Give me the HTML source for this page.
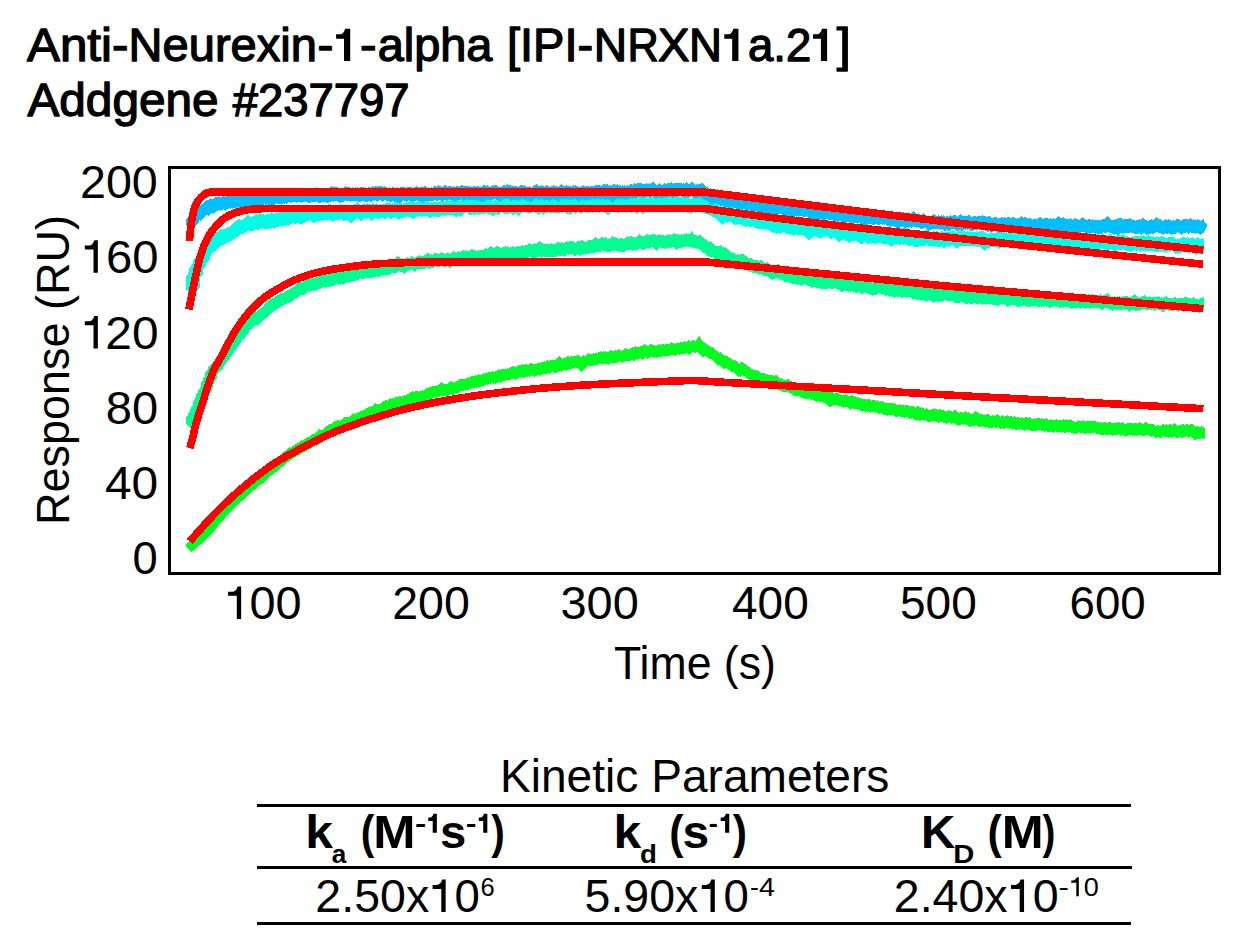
<!DOCTYPE html>
<html>
<head>
<meta charset="utf-8">
<title>Anti-Neurexin-1-alpha [IPI-NRXN1a.21] - Addgene #237797</title>
<style>
html, body { margin: 0; padding: 0; background: #ffffff; }
body { width: 1241px; height: 952px; overflow: hidden; font-family: "Liberation Sans", sans-serif; }
svg { display: block; }
text { font-family: "Liberation Sans", sans-serif; fill: #000; }
.t  { font-size: 46px; }
.ti { font-size: 46px; stroke: #000; stroke-width: 1.3px; stroke-linejoin: round; }
.b  { font-size: 46px; font-weight: bold; }
.sb { font-size: 26.7px; font-weight: bold; }
.sp { font-size: 26.7px; }
</style>
</head>
<body>
<svg width="1241" height="952" viewBox="0 0 1241 952">
<rect x="0" y="0" width="1241" height="952" fill="#ffffff"/>

<!-- sensorgram curves: data bands then fitted curves -->
<g shape-rendering="crispEdges">
<path d="M185.5 544.7L186.5 543.7L187.5 542.7L188.5 541.7L189.5 540.7L190.5 539.7L191.5 539.1L192.5 538.4L193.5 537.4L194.5 536.4L195.5 535.4L196.5 534.7L197.5 533.8L198.5 532.8L199.5 531.8L200.5 529.7L201.5 528.7L202.5 527.7L203.5 526.7L204.5 525.7L205.5 524.7L206.5 523.7L207.5 523.1L208.5 522.1L209.5 520.6L210.5 519.6L211.5 518.6L212.5 517.6L213.5 516.6L214.5 514.7L215.5 513.6L216.5 512.6L217.5 511.6L218.5 510.6L219.5 508.9L220.5 507.4L221.5 506.4L222.5 505.4L223.5 504.4L224.5 503.4L225.5 502.4L226.5 501.4L227.5 500.4L228.5 499.4L229.5 498.4L230.5 497.4L231.5 496.4L232.5 496.2L233.5 495.2L234.5 494.2L235.5 493.2L236.5 492.2L237.5 492.3L238.5 491.3L239.5 490L240.5 489L241.5 488L242.5 487L243.5 486L244.5 485L245.5 484.2L246.5 483.7L247.5 482.7L248.5 481.7L249.5 480.7L250.5 479.8L251.5 479.4L252.5 478.4L253.5 477.4L254.5 476.4L255.5 475.4L256.5 474.4L257.5 474L258.5 473.2L259.5 472.2L260.5 471.2L261.5 470.2L262.5 469.2L263.5 468.2L264.5 467.5L265.5 466.5L266.5 465.5L267.5 464.5L268.5 463.5L269.5 463.4L270.5 463.2L271.5 462.3L272.5 461.3L273.5 460.3L274.5 460L275.5 460.1L276.5 459.1L277.5 458.2L278.5 456.7L279.5 455.7L280.5 454.7L281.5 453.7L282.5 452.7L283.5 451.7L284.5 451.2L285.5 450.5L286.5 449.5L287.5 448.5L288.5 447.5L289.5 446.8L290.5 447.6L291.5 446.8L292.5 445.8L293.5 446L294.5 445L295.5 444L296.5 443.8L297.5 443L298.5 442.7L299.5 441.7L300.5 440.7L301.5 440.4L302.5 440.5L303.5 439.7L304.5 438.7L305.5 438.8L306.5 437.8L307.5 436.8L308.5 437L309.5 436.7L310.5 436.1L311.5 435.2L312.5 434.2L313.5 434.2L314.5 433.5L315.5 433.4L316.5 432.4L317.5 431.4L318.5 430.4L319.5 429.4L320.5 429.9L321.5 430.2L322.5 429.6L323.5 429L324.5 428L325.5 427L326.5 426L327.5 426.2L328.5 425.2L329.5 424.2L330.5 424.4L331.5 424.3L332.5 423.3L333.5 422.3L334.5 421.3L335.5 421.4L336.5 421.2L337.5 420.3L338.5 419.7L339.5 420.5L340.5 420.4L341.5 419.8L342.5 418.8L343.5 417.8L344.5 416.8L345.5 416.6L346.5 416.6L347.5 417L348.5 416.5L349.5 417L350.5 416.1L351.5 415.1L352.5 414.3L353.5 413.3L354.5 414.2L355.5 413.7L356.5 413L357.5 412.8L358.5 411.8L359.5 411.5L360.5 410.9L361.5 411.2L362.5 411L363.5 410L364.5 409.6L365.5 408.8L366.5 408.4L367.5 407.5L368.5 406.5L369.5 407L370.5 406.2L371.5 407.2L372.5 406.3L373.5 405.3L374.5 404.4L375.5 403.4L376.5 404.4L377.5 405L378.5 404L379.5 404.2L380.5 403.6L381.5 402.6L382.5 402.1L383.5 401.2L384.5 400.5L385.5 399.5L386.5 400.2L387.5 401L388.5 400.3L389.5 399.3L390.5 398.3L391.5 398.6L392.5 397.8L393.5 398.7L394.5 397.8L395.5 396.8L396.5 397.2L397.5 396.5L398.5 396.6L399.5 396.3L400.5 396.3L401.5 396.6L402.5 396.2L403.5 395.7L404.5 395.2L405.5 395.6L406.5 394.7L407.5 393.7L408.5 393.5L409.5 392.5L410.5 391.5L411.5 391.5L412.5 391.2L413.5 391.8L414.5 392.1L415.5 391.1L416.5 391L417.5 391.2L418.5 391.5L419.5 390.6L420.5 391.3L421.5 391L422.5 390.1L423.5 390.5L424.5 389.5L425.5 388.9L426.5 388.4L427.5 387.6L428.5 387.8L429.5 386.8L430.5 387.2L431.5 386.7L432.5 385.9L433.5 386L434.5 385.5L435.5 386.1L436.5 385.4L437.5 385.5L438.5 385.2L439.5 384.2L440.5 383.2L441.5 382.4L442.5 383.4L443.5 383.8L444.5 383.6L445.5 384L446.5 383.7L447.5 383.7L448.5 383.2L449.5 382.2L450.5 382.2L451.5 381.2L452.5 382.1L453.5 382.5L454.5 381.5L455.5 381.6L456.5 381.3L457.5 380.6L458.5 379.6L459.5 378.6L460.5 378.6L461.5 378.9L462.5 379.3L463.5 378.5L464.5 378.8L465.5 378.6L466.5 378.2L467.5 378.3L468.5 377.3L469.5 377.5L470.5 376.5L471.5 375.5L472.5 375.8L473.5 375.7L474.5 375.5L475.5 375.1L476.5 375.5L477.5 375.2L478.5 374.2L479.5 375L480.5 374.6L481.5 374.6L482.5 374.4L483.5 373.4L484.5 373.6L485.5 372.9L486.5 372.7L487.5 372.6L488.5 371.7L489.5 372.2L490.5 371.5L491.5 371.5L492.5 371.2L493.5 371.5L494.5 371.7L495.5 370.7L496.5 371.3L497.5 370.3L498.5 369.3L499.5 369.6L500.5 370.3L501.5 369.4L502.5 368.9L503.5 368.8L504.5 368.9L505.5 368.5L506.5 368.5L507.5 367.9L508.5 368.5L509.5 368.2L510.5 367.2L511.5 367.1L512.5 366.3L513.5 366.6L514.5 366.4L515.5 367.4L516.5 366.9L517.5 365.9L518.5 365.3L519.5 365L520.5 365.5L521.5 364.6L522.5 363.6L523.5 364.6L524.5 364.5L525.5 363.5L526.5 363.7L527.5 364.5L528.5 365L529.5 364L530.5 363L531.5 363L532.5 363.7L533.5 364.3L534.5 363.9L535.5 363.7L536.5 363.5L537.5 362.9L538.5 363.4L539.5 363L540.5 362.7L541.5 362.4L542.5 362.2L543.5 362.2L544.5 361.2L545.5 362.1L546.5 361.2L547.5 360.2L548.5 360.5L549.5 360.9L550.5 360.4L551.5 359.9L552.5 359.5L553.5 359.5L554.5 360L555.5 360.3L556.5 359.3L557.5 358.3L558.5 357.3L559.5 356.3L560.5 356.9L561.5 357.9L562.5 358.5L563.5 358.3L564.5 358.1L565.5 358.2L566.5 357.2L567.5 356.2L568.5 355.9L569.5 356.9L570.5 357L571.5 356L572.5 356.7L573.5 356.2L574.5 355.5L575.5 355.6L576.5 354.9L577.5 355.7L578.5 355.2L579.5 356.2L580.5 356.6L581.5 356.8L582.5 355.8L583.5 355.1L584.5 356.1L585.5 355.5L586.5 354.5L587.5 353.5L588.5 352.6L589.5 353.6L590.5 354.1L591.5 353.9L592.5 353.6L593.5 352.6L594.5 353.5L595.5 353.1L596.5 353.2L597.5 352.5L598.5 351.5L599.5 351.5L600.5 350.9L601.5 351.9L602.5 352L603.5 351.3L604.5 351.7L605.5 351L606.5 352L607.5 352.1L608.5 352.1L609.5 351.1L610.5 350.3L611.5 351.3L612.5 351.2L613.5 351.1L614.5 351.3L615.5 350.3L616.5 351L617.5 350.4L618.5 349.4L619.5 349.6L620.5 349.6L621.5 350.5L622.5 350.6L623.5 349.6L624.5 349.1L625.5 348.1L626.5 348.8L627.5 348.9L628.5 349.5L629.5 349.3L630.5 348.3L631.5 348.1L632.5 347.3L633.5 348.3L634.5 347.4L635.5 346.4L636.5 346.9L637.5 347.3L638.5 347.3L639.5 346.8L640.5 345.8L641.5 346.2L642.5 345.8L643.5 344.8L644.5 344.4L645.5 345.2L646.5 345.4L647.5 346L648.5 345.7L649.5 345.1L650.5 344.1L651.5 344.2L652.5 344.6L653.5 345.2L654.5 345.1L655.5 345.6L656.5 345.5L657.5 344.8L658.5 345.2L659.5 344.4L660.5 345L661.5 344.8L662.5 344L663.5 344.4L664.5 344.6L665.5 344.3L666.5 343.9L667.5 343.9L668.5 344.2L669.5 343.6L670.5 342.9L671.5 342.4L672.5 342.7L673.5 342.8L674.5 343.8L675.5 343.5L676.5 342.8L677.5 342.6L678.5 342.5L679.5 342.5L680.5 342.4L681.5 341.6L682.5 342.5L683.5 342.3L684.5 341.3L685.5 341.7L686.5 341.6L687.5 340.7L688.5 340.4L689.5 341.4L690.5 341.6L691.5 340.6L692.5 340.3L693.5 339.9L694.5 340.7L695.5 340.8L696.5 339.8L697.5 340.2L698.5 339.6L699.5 339.2L700.5 339.2L701.5 340.2L702.5 341.2L703.5 342.2L704.5 342.8L705.5 342.7L706.5 343.7L707.5 344.7L708.5 345.3L709.5 346.3L710.5 347.1L711.5 346.6L712.5 347L713.5 347.9L714.5 348.9L715.5 349.9L716.5 350.9L717.5 351.4L718.5 352.4L719.5 353L720.5 352.4L721.5 353.4L722.5 354.3L723.5 355.3L724.5 355.7L725.5 355L726.5 356L727.5 356L728.5 357L729.5 357.8L730.5 358L731.5 359L732.5 359.9L733.5 360.1L734.5 360.5L735.5 360L736.5 361L737.5 362L738.5 363L739.5 364L740.5 363.1L741.5 362.1L742.5 361.6L743.5 362.6L744.5 363.6L745.5 364.2L746.5 365L747.5 366L748.5 366.7L749.5 366.7L750.5 367.7L751.5 368.7L752.5 368.8L753.5 369.8L754.5 370L755.5 370.1L756.5 370.6L757.5 370.4L758.5 371.4L759.5 371.6L760.5 372.6L761.5 373.2L762.5 372.6L763.5 373.2L764.5 372.7L765.5 373.7L766.5 374.7L767.5 374.1L768.5 374.9L769.5 374.6L770.5 374.9L771.5 374.9L772.5 375.3L773.5 376L774.5 375.8L775.5 375.1L776.5 375L777.5 376L778.5 377L779.5 378L780.5 378.7L781.5 378.4L782.5 379.4L783.5 380.2L784.5 379.5L785.5 380.5L786.5 379.5L787.5 378.5L788.5 378.7L789.5 379.7L790.5 380.7L791.5 381.4L792.5 382.4L793.5 383.1L794.5 383.6L795.5 384.3L796.5 384.1L797.5 383.3L798.5 383.2L799.5 382.9L800.5 383.5L801.5 384.5L802.5 385.5L803.5 385.9L804.5 386.8L805.5 387.1L806.5 386.1L807.5 387.1L808.5 387L809.5 386.1L810.5 386.4L811.5 387.4L812.5 388.1L813.5 387.6L814.5 388.6L815.5 388.9L816.5 388.9L817.5 389.6L818.5 389L819.5 390L820.5 390L821.5 389.7L822.5 390.4L823.5 390.5L824.5 391L825.5 390.9L826.5 390.2L827.5 390.7L828.5 390.2L829.5 391.2L830.5 392.2L831.5 391.8L832.5 392.2L833.5 392.9L834.5 393.6L835.5 393.2L836.5 393.1L837.5 393.3L838.5 393L839.5 393.8L840.5 394.1L841.5 394.8L842.5 394.9L843.5 395.1L844.5 394.7L845.5 394L846.5 395L847.5 395.2L848.5 395.6L849.5 396.1L850.5 395.8L851.5 394.8L852.5 394.6L853.5 395.6L854.5 396.6L855.5 396.2L856.5 397.2L857.5 397.5L858.5 397.2L859.5 397.5L860.5 397.9L861.5 398.8L862.5 399.3L863.5 398.9L864.5 399.1L865.5 399L866.5 399.8L867.5 399.4L868.5 399.2L869.5 399.2L870.5 400.2L871.5 400.6L872.5 399.9L873.5 400.1L874.5 400L875.5 400.6L876.5 401.1L877.5 400.4L878.5 401.4L879.5 401.7L880.5 401.2L881.5 401.6L882.5 400.8L883.5 401.8L884.5 402.8L885.5 402.8L886.5 403.1L887.5 403L888.5 403.5L889.5 403L890.5 402.9L891.5 403L892.5 402.8L893.5 403.5L894.5 403.4L895.5 404.4L896.5 405L897.5 404.6L898.5 404.5L899.5 403.7L900.5 404.7L901.5 405.4L902.5 404.5L903.5 404.9L904.5 405.6L905.5 405.4L906.5 405.1L907.5 405.2L908.5 405.5L909.5 406.1L910.5 406.9L911.5 406.4L912.5 405.6L913.5 405.7L914.5 406.7L915.5 407.7L916.5 407.4L917.5 406.4L918.5 406.4L919.5 407.4L920.5 408L921.5 407.3L922.5 408.2L923.5 408.1L924.5 408.5L925.5 408.6L926.5 407.7L927.5 408.7L928.5 409.7L929.5 409.7L930.5 409.5L931.5 408.5L932.5 409.5L933.5 409.2L934.5 408.4L935.5 408.6L936.5 409.1L937.5 409.9L938.5 409.8L939.5 408.8L940.5 408.8L941.5 409.6L942.5 410.3L943.5 410.2L944.5 411.2L945.5 411.3L946.5 411.5L947.5 411.1L948.5 410.2L949.5 410.7L950.5 410.5L951.5 411.5L952.5 411.8L953.5 410.8L954.5 409.9L955.5 409.6L956.5 410.6L957.5 411.6L958.5 412.6L959.5 412.7L960.5 412.2L961.5 412.2L962.5 412.3L963.5 412.6L964.5 411.6L965.5 411L966.5 412L967.5 412.9L968.5 412.1L969.5 412.7L970.5 413.7L971.5 414.2L972.5 414L973.5 413L974.5 412L975.5 411.1L976.5 412.1L977.5 412.1L978.5 413.1L979.5 414.1L980.5 414L981.5 414.3L982.5 413.8L983.5 414.8L984.5 415.3L985.5 415L986.5 414.1L987.5 413.5L988.5 414.5L989.5 415.5L990.5 415.9L991.5 415.9L992.5 415.2L993.5 415.5L994.5 415.4L995.5 416L996.5 415.2L997.5 414.3L998.5 415.3L999.5 416L1000.5 416.8L1001.5 415.9L1002.5 414.9L1003.5 415.9L1004.5 416.9L1005.5 416.3L1006.5 415.9L1007.5 414.9L1008.5 415.7L1009.5 416.7L1010.5 416.3L1011.5 416.4L1012.5 417.1L1013.5 416.8L1014.5 416.2L1015.5 417.2L1016.5 417.8L1017.5 416.8L1018.5 417.3L1019.5 417.6L1020.5 417.5L1021.5 417.3L1022.5 417.5L1023.5 418L1024.5 418.2L1025.5 417.2L1026.5 416.9L1027.5 417.9L1028.5 418.1L1029.5 417.1L1030.5 418L1031.5 419L1032.5 419.2L1033.5 419.2L1034.5 418.2L1035.5 418.9L1036.5 418.8L1037.5 418.2L1038.5 418.2L1039.5 417.9L1040.5 418.6L1041.5 418.1L1042.5 419.1L1043.5 419.4L1044.5 419.2L1045.5 419.2L1046.5 418.4L1047.5 419.4L1048.5 419.9L1049.5 420L1050.5 420.3L1051.5 419.3L1052.5 420.3L1053.5 420.4L1054.5 419.5L1055.5 419.7L1056.5 419.4L1057.5 420.2L1058.5 420L1059.5 419.9L1060.5 420L1061.5 420.3L1062.5 419.5L1063.5 418.8L1064.5 419.8L1065.5 420.4L1066.5 419.4L1067.5 420L1068.5 419.9L1069.5 419.5L1070.5 419.3L1071.5 420.3L1072.5 421.3L1073.5 421.2L1074.5 421.9L1075.5 421.5L1076.5 421.6L1077.5 420.6L1078.5 419.6L1079.5 420.5L1080.5 420.6L1081.5 420.9L1082.5 421L1083.5 420.1L1084.5 420.9L1085.5 421.7L1086.5 421.2L1087.5 421.2L1088.5 420.6L1089.5 421.3L1090.5 421.1L1091.5 420.6L1092.5 420.5L1093.5 420.6L1094.5 421.1L1095.5 420.6L1096.5 421.6L1097.5 422.2L1098.5 422.2L1099.5 422.6L1100.5 422.3L1101.5 423.3L1102.5 422.7L1103.5 421.7L1104.5 421.9L1105.5 422.3L1106.5 423.1L1107.5 423.1L1108.5 422.1L1109.5 422.2L1110.5 422.2L1111.5 422.9L1112.5 423.1L1113.5 423.4L1114.5 423.3L1115.5 422.9L1116.5 422.9L1117.5 422L1118.5 422.6L1119.5 422.4L1120.5 423.4L1121.5 423.4L1122.5 422.4L1123.5 423.4L1124.5 423.5L1125.5 424.5L1126.5 423.8L1127.5 422.8L1128.5 423.2L1129.5 422.7L1130.5 423.2L1131.5 423.3L1132.5 423.2L1133.5 423.7L1134.5 423.1L1135.5 423.4L1136.5 423.4L1137.5 423.6L1138.5 422.8L1139.5 422L1140.5 423L1141.5 423.1L1142.5 423.9L1143.5 423.9L1144.5 423L1145.5 422L1146.5 421.7L1147.5 422.7L1148.5 423.7L1149.5 423.5L1150.5 424.4L1151.5 424.4L1152.5 424L1153.5 424.2L1154.5 424.7L1155.5 425.5L1156.5 425.9L1157.5 424.9L1158.5 425L1159.5 425.8L1160.5 425.8L1161.5 425.1L1162.5 424.4L1163.5 424.3L1164.5 424.6L1165.5 424.7L1166.5 423.9L1167.5 424.9L1168.5 424.9L1169.5 423.9L1170.5 424.2L1171.5 425.2L1172.5 425.4L1173.5 424.4L1174.5 423.4L1175.5 423.6L1176.5 424.6L1177.5 425.6L1178.5 425.6L1179.5 424.6L1180.5 424.7L1181.5 425.3L1182.5 424.3L1183.5 423.7L1184.5 424.7L1185.5 425L1186.5 424L1187.5 424.5L1188.5 425.5L1189.5 424.5L1190.5 424.3L1191.5 423.8L1192.5 424.2L1193.5 425.2L1194.5 426.2L1195.5 427L1196.5 426L1197.5 426.3L1198.5 426.8L1199.5 426.9L1200.5 426.5L1201.5 426.3L1202.5 426.5L1203.5 426.7L1204.5 427.5L1204.5 438.6L1203.5 439.3L1202.5 438.3L1201.5 438.3L1200.5 438.8L1199.5 438.6L1198.5 439.5L1197.5 438.5L1196.5 439.1L1195.5 440.1L1194.5 439.7L1193.5 438.7L1192.5 437.8L1191.5 436.8L1190.5 436.3L1189.5 437.1L1188.5 438.1L1187.5 437.3L1186.5 436.4L1185.5 437.4L1184.5 437.4L1183.5 436.5L1182.5 437.5L1181.5 438.2L1180.5 437.2L1179.5 437.4L1178.5 438.4L1177.5 437.9L1176.5 437.9L1175.5 436.9L1174.5 436.4L1173.5 437.4L1172.5 437.2L1171.5 438.2L1170.5 437.2L1169.5 436.5L1168.5 437.5L1167.5 437.3L1166.5 436.5L1165.5 436.5L1164.5 437L1163.5 436.2L1162.5 436.6L1161.5 437.6L1160.5 437.6L1159.5 438.3L1158.5 437.3L1157.5 437.4L1156.5 438.4L1155.5 437.8L1154.5 437.3L1153.5 436.3L1152.5 436L1151.5 436.7L1150.5 436.2L1149.5 436.2L1148.5 435.2L1147.5 435.5L1146.5 434.5L1145.5 434.8L1144.5 435.8L1143.5 435.7L1142.5 436.2L1141.5 435.2L1140.5 434.9L1139.5 434.7L1138.5 435.4L1137.5 436L1136.5 435.2L1135.5 435.2L1134.5 435.6L1133.5 435.1L1132.5 435.8L1131.5 435L1130.5 435.2L1129.5 435L1128.5 434.6L1127.5 435.5L1126.5 436.3L1125.5 436.6L1124.5 435.7L1123.5 435.4L1122.5 435.2L1121.5 435.4L1120.5 435.8L1119.5 434.8L1118.5 434.2L1117.5 434.7L1116.5 434.7L1115.5 435.2L1114.5 435.2L1113.5 435.1L1112.5 435.7L1111.5 435L1110.5 434.7L1109.5 433.9L1108.5 434.5L1107.5 435.5L1106.5 435L1105.5 434.9L1104.5 433.9L1103.5 434.5L1102.5 435.5L1101.5 435L1100.5 435.1L1099.5 434.1L1098.5 434.4L1097.5 434.3L1096.5 434L1095.5 433.3L1094.5 432.4L1093.5 432.9L1092.5 432.5L1091.5 432.6L1090.5 433.6L1089.5 432.9L1088.5 433.1L1087.5 433L1086.5 433.1L1085.5 434.1L1084.5 433.5L1083.5 432.7L1082.5 432.7L1081.5 432.9L1080.5 432.9L1079.5 432.4L1078.5 432.4L1077.5 433.4L1076.5 433.7L1075.5 433.7L1074.5 433.4L1073.5 434L1072.5 433.1L1071.5 433.1L1070.5 432.1L1069.5 431.5L1068.5 432.5L1067.5 431.7L1066.5 432.1L1065.5 433.1L1064.5 433.1L1063.5 432.1L1062.5 432.1L1061.5 432.8L1060.5 431.8L1059.5 431.8L1058.5 432.4L1057.5 431.8L1056.5 432L1055.5 431.3L1054.5 431.6L1053.5 432.6L1052.5 432.2L1051.5 432.1L1050.5 431.8L1049.5 432.2L1048.5 432L1047.5 431.7L1046.5 431.1L1045.5 431L1044.5 431.5L1043.5 431.3L1042.5 431.2L1041.5 430.7L1040.5 429.9L1039.5 430.4L1038.5 430L1037.5 430.2L1036.5 431.2L1035.5 430.6L1034.5 430.8L1033.5 431L1032.5 431.1L1031.5 431.5L1030.5 431L1029.5 430L1028.5 429.7L1027.5 430L1026.5 429.3L1025.5 430.3L1024.5 431.3L1023.5 430.3L1022.5 429.8L1021.5 429.3L1020.5 429.2L1019.5 430.2L1018.5 429.4L1017.5 429.2L1016.5 430.1L1015.5 430.1L1014.5 429.1L1013.5 429L1012.5 429.7L1011.5 428.7L1010.5 428.3L1009.5 429L1008.5 428.5L1007.5 427.5L1006.5 428.1L1005.5 428.3L1004.5 429.3L1003.5 428.9L1002.5 427.9L1001.5 428.6L1000.5 429L999.5 428.1L998.5 427.8L997.5 427L996.5 427.9L995.5 428.4L994.5 427.4L993.5 427.3L992.5 427.7L991.5 427.7L990.5 428.4L989.5 427.6L988.5 427.6L987.5 426.6L986.5 426.8L985.5 427.6L984.5 427L983.5 427.1L982.5 426.1L981.5 425.8L980.5 426.7L979.5 426.5L978.5 426.8L977.5 425.8L976.5 424.8L975.5 424.5L974.5 425.5L973.5 425.9L972.5 426L971.5 426.4L970.5 427.4L969.5 426.6L968.5 425.6L967.5 424.8L966.5 424.8L965.5 423.8L964.5 424.4L963.5 425.1L962.5 424.1L961.5 424.1L960.5 424.5L959.5 424.7L958.5 425.6L957.5 424.6L956.5 424.7L955.5 423.7L954.5 422.7L953.5 423.6L952.5 423.4L951.5 423.8L950.5 422.8L949.5 422.3L948.5 422.9L947.5 423.3L946.5 423.9L945.5 423.2L944.5 423.1L943.5 422.7L942.5 422L941.5 422.1L940.5 421.1L939.5 421.7L938.5 422.7L937.5 422.2L936.5 421.7L935.5 420.7L934.5 420.5L933.5 421.4L932.5 421L931.5 421.3L930.5 421.5L929.5 421.8L928.5 422.3L927.5 422.1L926.5 421.1L925.5 420.3L924.5 420.8L923.5 420L922.5 419.9L921.5 419.9L920.5 420.7L919.5 421.3L918.5 420.3L917.5 420.1L916.5 421.1L915.5 420.4L914.5 419.9L913.5 418.9L912.5 417.9L911.5 418.7L910.5 418.2L909.5 418.9L908.5 417.9L907.5 417.3L906.5 417.2L905.5 417.4L904.5 418.4L903.5 417.4L902.5 416.7L901.5 417.4L900.5 417.2L899.5 416.3L898.5 416.4L897.5 417L896.5 416.9L895.5 416.8L894.5 415.9L893.5 415.2L892.5 415.3L891.5 414.8L890.5 414.8L889.5 415.3L888.5 414.8L887.5 415.7L886.5 414.7L885.5 414.9L884.5 415L883.5 414.6L882.5 413.6L881.5 413.1L880.5 413.4L879.5 413.8L878.5 413.5L877.5 413.2L876.5 412.4L875.5 412.9L874.5 412L873.5 411.8L872.5 412.4L871.5 412L870.5 412.6L869.5 411.6L868.5 411L867.5 411.8L866.5 411.2L865.5 411.6L864.5 410.7L863.5 410.9L862.5 411.6L861.5 411.2L860.5 410.6L859.5 409.6L858.5 409.3L857.5 409.7L856.5 409.4L855.5 408.9L854.5 408.7L853.5 409.1L852.5 408.1L851.5 408.6L850.5 409.6L849.5 408.8L848.5 408L847.5 407L846.5 407L845.5 406.5L844.5 406.9L843.5 407.6L842.5 406.6L841.5 406.7L840.5 406.5L839.5 406L838.5 405.7L837.5 404.9L836.5 405.1L835.5 405.4L834.5 405L833.5 405.7L832.5 404.9L831.5 405.9L830.5 406.9L829.5 406.7L828.5 405.7L827.5 404.7L826.5 403.7L825.5 402.8L824.5 402.7L823.5 403.1L822.5 402.3L821.5 402.2L820.5 401.8L819.5 401.8L818.5 401.4L817.5 400.8L816.5 401.6L815.5 400.6L814.5 400.8L813.5 399.9L812.5 399.4L811.5 400.4L810.5 399.4L809.5 398.4L808.5 399.2L807.5 398.9L806.5 398.9L805.5 398.7L804.5 399.1L803.5 398.1L802.5 397.8L801.5 398.3L800.5 397.5L799.5 396.5L798.5 395.5L797.5 395.6L796.5 396.6L795.5 395.9L794.5 396.2L793.5 395.2L792.5 394.9L791.5 393.9L790.5 393.3L789.5 393L788.5 392L787.5 391.3L786.5 392.3L785.5 392L784.5 392.3L783.5 391.6L782.5 392L781.5 391L780.5 390.3L779.5 390.8L778.5 390L777.5 390.5L776.5 389.5L775.5 388.5L774.5 388.3L773.5 387.6L772.5 387.8L771.5 386.8L770.5 386.8L769.5 387L768.5 386.4L767.5 386.7L766.5 386.4L765.5 386.6L764.5 385.6L763.5 384.6L762.5 385.4L761.5 384.7L760.5 385L759.5 384L758.5 383.4L757.5 383.1L756.5 382.2L755.5 382.4L754.5 381.9L753.5 381.8L752.5 381.4L751.5 380.7L750.5 381.3L749.5 380.3L748.5 379.3L747.5 378.5L746.5 377.9L745.5 376.9L744.5 376.3L743.5 376.4L742.5 375.4L741.5 375.6L740.5 376.5L739.5 376.3L738.5 376.6L737.5 375.7L736.5 375.4L735.5 374.4L734.5 373.4L733.5 372.4L732.5 371.9L731.5 371.7L730.5 370.7L729.5 369.8L728.5 369.7L727.5 368.7L726.5 367.9L725.5 367.7L724.5 368.7L723.5 369.4L722.5 368.4L721.5 367.4L720.5 366.4L719.5 365.4L718.5 365.7L717.5 364.7L716.5 363.7L715.5 362.7L714.5 362.2L713.5 361.2L712.5 360.2L711.5 359.2L710.5 359.2L709.5 358.9L708.5 358L707.5 357.2L706.5 357.2L705.5 356.2L704.5 356.4L703.5 357.4L702.5 356.7L701.5 355.7L700.5 354.7L699.5 353.7L698.5 352.7L697.5 351.7L696.5 352.4L695.5 352.5L694.5 352.6L693.5 352.1L692.5 352.4L691.5 353.4L690.5 354.3L689.5 354.6L688.5 353.6L687.5 353.4L686.5 354.4L685.5 353.4L684.5 353.6L683.5 354.3L682.5 354.1L681.5 354.2L680.5 354.4L679.5 354.9L678.5 354.4L677.5 354.3L676.5 355.3L675.5 355.7L674.5 356.4L673.5 355.4L672.5 354.6L671.5 354.8L670.5 355.4L669.5 356.3L668.5 355.7L667.5 356L666.5 356.1L665.5 356.4L664.5 357.4L663.5 356.4L662.5 356.2L661.5 356.9L660.5 356.6L659.5 357L658.5 356.6L657.5 357.1L656.5 357.5L655.5 357.4L654.5 357.6L653.5 356.9L652.5 357.1L651.5 356.1L650.5 356.5L649.5 357.5L648.5 357.8L647.5 358.6L646.5 357.6L645.5 357.2L644.5 357.9L643.5 358.9L642.5 359.8L641.5 358.8L640.5 358.1L639.5 359.1L638.5 359L637.5 360L636.5 359.1L635.5 359.9L634.5 360.9L633.5 360.7L632.5 359.9L631.5 360.1L630.5 360.7L629.5 361.3L628.5 361.3L627.5 361.3L626.5 360.7L625.5 360.6L624.5 361.5L623.5 361.9L622.5 362.9L621.5 362.4L620.5 362.3L619.5 361.3L618.5 361.8L617.5 362.8L616.5 362.5L615.5 363.2L614.5 362.9L613.5 363.3L612.5 363.3L611.5 363.1L610.5 363.1L609.5 364.1L608.5 364.6L607.5 364L606.5 364L605.5 363.6L604.5 363.2L603.5 363.9L602.5 363.7L601.5 363.8L600.5 363.3L599.5 363.4L598.5 364.2L597.5 365L596.5 365.2L595.5 365.3L594.5 364.9L593.5 365.4L592.5 365.8L591.5 366.1L590.5 366.2L589.5 365.9L588.5 365.4L587.5 366.3L586.5 367L585.5 368L584.5 369L583.5 370L582.5 371L581.5 371.6L580.5 370.6L579.5 369.6L578.5 368.6L577.5 367.6L576.5 367.5L575.5 367.3L574.5 367.5L573.5 368.5L572.5 368L571.5 368.7L570.5 369.3L569.5 369.6L568.5 368.6L567.5 369.5L566.5 370.5L565.5 369.9L564.5 370.3L563.5 370.3L562.5 370.8L561.5 371.8L560.5 371L559.5 371.3L558.5 372.3L557.5 372.3L556.5 373.3L555.5 372.7L554.5 372.6L553.5 371.6L552.5 371.4L551.5 372.2L550.5 372.7L549.5 373.6L548.5 372.6L547.5 372.9L546.5 373.9L545.5 373.5L544.5 374L543.5 374L542.5 374.3L541.5 374.5L540.5 374.7L539.5 375.7L538.5 374.8L537.5 375.3L536.5 375.5L535.5 375.5L534.5 376.5L533.5 375.7L532.5 376.2L531.5 375.2L530.5 375.8L529.5 376.8L528.5 376.3L527.5 377.1L526.5 376.4L525.5 377.4L524.5 378.4L523.5 378L522.5 377L521.5 377.3L520.5 377.6L519.5 377.1L518.5 377.7L517.5 378.7L516.5 379.3L515.5 379.8L514.5 378.8L513.5 378.2L512.5 378.9L511.5 379L510.5 379.6L509.5 380.3L508.5 380.3L507.5 380.3L506.5 380.3L505.5 381L504.5 380.6L503.5 380.7L502.5 381.2L501.5 382.1L500.5 383L499.5 382L498.5 382.2L497.5 383.2L496.5 382.9L495.5 383.5L494.5 383.4L493.5 383.7L492.5 383.3L491.5 383.1L490.5 384.1L489.5 383.5L488.5 384L487.5 384.5L486.5 384.4L485.5 385.4L484.5 385.2L483.5 385.9L482.5 386.4L481.5 386.4L480.5 387L479.5 386.5L478.5 386.8L477.5 387.3L476.5 387.5L475.5 387.4L474.5 387.6L473.5 388.5L472.5 387.5L471.5 388.3L470.5 389.3L469.5 389.1L468.5 390.1L467.5 390L466.5 390.4L465.5 390.6L464.5 390.4L463.5 391.1L462.5 390.7L461.5 391.3L460.5 391.4L459.5 392.4L458.5 393.4L457.5 393.2L456.5 393.9L455.5 393.3L454.5 394.2L453.5 395.2L452.5 394.7L451.5 393.9L450.5 394L449.5 394.5L448.5 395.5L447.5 395.5L446.5 396.5L445.5 395.5L444.5 395.8L443.5 395.8L442.5 395.6L441.5 395L440.5 396L439.5 396.6L438.5 397.3L437.5 397.2L436.5 397.9L435.5 397.4L434.5 398L433.5 397.8L432.5 398.1L431.5 399.1L430.5 398.7L429.5 399.5L428.5 399.5L427.5 399.7L426.5 400.7L425.5 401.3L424.5 402.3L423.5 402L422.5 402.3L421.5 403.1L420.5 402.8L419.5 403.3L418.5 403.1L417.5 403.5L416.5 403L415.5 403.8L414.5 404.8L413.5 404L412.5 403.6L411.5 404.1L410.5 405.1L409.5 406.1L408.5 405.5L407.5 406.4L406.5 407.4L405.5 407.5L404.5 407.5L403.5 408.1L402.5 409L401.5 408.1L400.5 408.4L399.5 408.5L398.5 408.3L397.5 409.3L396.5 408.6L395.5 409.5L394.5 410.5L393.5 410.3L392.5 410.6L391.5 411.6L390.5 412.6L389.5 413.6L388.5 413.5L387.5 413.5L386.5 412.8L385.5 412.1L384.5 413.1L383.5 414L382.5 415L381.5 416L380.5 416.8L379.5 415.8L378.5 416.4L377.5 417.4L376.5 417L375.5 416.2L374.5 417.2L373.5 418.2L372.5 419.2L371.5 418.9L370.5 418.9L369.5 418.3L368.5 419.2L367.5 420.2L366.5 420.4L365.5 421.4L364.5 421.8L363.5 422.4L362.5 423L361.5 423L360.5 423.3L359.5 423.7L358.5 424.5L357.5 424.8L356.5 425L355.5 426L354.5 425.5L353.5 426.1L352.5 426.9L351.5 427.8L350.5 428.8L349.5 428.5L348.5 429.3L347.5 428.5L346.5 429.5L345.5 430.5L344.5 431.5L343.5 432.5L342.5 432.2L341.5 432.8L340.5 432.3L339.5 432.3L338.5 432.2L337.5 433L336.5 433.7L335.5 434.4L334.5 435.4L333.5 436.4L332.5 436.1L331.5 437L330.5 437.2L329.5 438.2L328.5 439.2L327.5 438.8L326.5 438.8L325.5 439.8L324.5 440.4L323.5 441.4L322.5 441.9L321.5 442.9L320.5 442.9L319.5 443.9L318.5 444.9L317.5 444.8L316.5 445.6L315.5 445.3L314.5 446L313.5 446L312.5 446.9L311.5 447.9L310.5 448.6L309.5 449.4L308.5 448.7L307.5 449.7L306.5 450.7L305.5 450.5L304.5 451.5L303.5 452.3L302.5 452.7L301.5 452.8L300.5 453.8L299.5 454.8L298.5 454.8L297.5 455.3L296.5 456.1L295.5 457.1L294.5 458.1L293.5 457.6L292.5 458.5L291.5 459.5L290.5 459.6L289.5 460.6L288.5 461.6L287.5 462.3L286.5 463.2L285.5 463.9L284.5 464.9L283.5 465.9L282.5 466.8L281.5 467.3L280.5 468.2L279.5 469.2L278.5 470L277.5 471L276.5 472L275.5 472.4L274.5 472.6L273.5 473.6L272.5 474.6L271.5 475L270.5 475.5L269.5 475.7L268.5 477.6L267.5 478.6L266.5 479.6L265.5 480.6L264.5 481.6L263.5 482.6L262.5 483.6L261.5 483.7L260.5 484.6L259.5 485.4L258.5 485.9L257.5 486.9L256.5 487.9L255.5 488.9L254.5 489.9L253.5 490.3L252.5 491.2L251.5 492.2L250.5 493.2L249.5 494.2L248.5 494.8L247.5 495.8L246.5 496.8L245.5 497.8L244.5 498.8L243.5 499.8L242.5 500.8L241.5 501.4L240.5 502.4L239.5 503.4L238.5 504.1L237.5 504.5L236.5 505.5L235.5 506.5L234.5 507.8L233.5 508.8L232.5 509.8L231.5 510.8L230.5 511.8L229.5 512.9L228.5 513.9L227.5 514.9L226.5 515.9L225.5 516.9L224.5 518.6L223.5 519.6L222.5 520.7L221.5 521.7L220.5 522.7L219.5 523.9L218.5 524.9L217.5 526.9L216.5 527.9L215.5 528.9L214.5 531L213.5 532L212.5 533L211.5 534L210.5 535L209.5 536L208.5 537L207.5 537.6L206.5 538.6L205.5 539.6L204.5 540.5L203.5 541.5L202.5 542.5L201.5 543.5L200.5 544.2L199.5 545.2L198.5 546.2L197.5 547.2L196.5 548.2L195.5 549.2L194.5 550L193.5 551L192.5 551L191.5 551.6L190.5 551L189.5 550L188.5 549L187.5 548L186.5 547L185.5 546Z" fill="#00FF1E"/>
<path d="M185.5 420.9L186.5 417.1L187.5 416.1L188.5 412.6L189.5 411.6L190.5 408.8L191.5 406.8L192.5 405.8L193.5 400.7L194.5 399.7L195.5 397.4L196.5 393.7L197.5 392.7L198.5 390.2L199.5 389.2L200.5 386.6L201.5 381.9L202.5 380.9L203.5 377.9L204.5 376.9L205.5 371.8L206.5 370.8L207.5 369.8L208.5 367L209.5 366L210.5 365L211.5 364L212.5 363L213.5 362L214.5 361L215.5 359.1L216.5 358.1L217.5 357.1L218.5 355.6L219.5 354.6L220.5 352.2L221.5 351.2L222.5 349.5L223.5 348.3L224.5 347.3L225.5 345.2L226.5 344.2L227.5 342.4L228.5 340.7L229.5 339.7L230.5 337.4L231.5 336.4L232.5 335.4L233.5 334.4L234.5 331.4L235.5 330.4L236.5 329.4L237.5 328.3L238.5 327.3L239.5 326.2L240.5 324.5L241.5 323.5L242.5 322.5L243.5 321.5L244.5 320.5L245.5 319.5L246.5 318.5L247.5 318.1L248.5 317.7L249.5 316.8L250.5 315.8L251.5 314.8L252.5 313.8L253.5 312.8L254.5 311.8L255.5 310.8L256.5 311.6L257.5 311L258.5 310L259.5 309L260.5 308L261.5 308L262.5 307L263.5 306L264.5 304.3L265.5 303.3L266.5 302.3L267.5 301.3L268.5 300.3L269.5 299.3L270.5 298.3L271.5 298.6L272.5 298.1L273.5 298.1L274.5 297.1L275.5 296.1L276.5 296.3L277.5 295.3L278.5 294.6L279.5 293.6L280.5 292.6L281.5 292.6L282.5 292.6L283.5 292.6L284.5 291.9L285.5 290.9L286.5 290.9L287.5 289.9L288.5 289.7L289.5 288.9L290.5 288.8L291.5 287.8L292.5 286.8L293.5 286.5L294.5 285.5L295.5 285.4L296.5 284.4L297.5 283.4L298.5 282.7L299.5 281.7L300.5 282.1L301.5 281.6L302.5 282L303.5 281.3L304.5 280.3L305.5 279.3L306.5 278.6L307.5 277.9L308.5 277.9L309.5 278.3L310.5 278.5L311.5 277.7L312.5 277.7L313.5 277.6L314.5 277.5L315.5 278L316.5 277.2L317.5 276.5L318.5 276.2L319.5 275.8L320.5 274.8L321.5 273.8L322.5 274L323.5 273.6L324.5 274.5L325.5 274.7L326.5 274.1L327.5 274.5L328.5 273.9L329.5 273.7L330.5 273.7L331.5 273.1L332.5 272.7L333.5 271.7L334.5 270.7L335.5 270.6L336.5 270.9L337.5 271.4L338.5 271.4L339.5 271.4L340.5 270.4L341.5 269.4L342.5 269.8L343.5 270.8L344.5 269.9L345.5 269.5L346.5 269.3L347.5 269.5L348.5 269L349.5 269L350.5 268L351.5 267L352.5 267.1L353.5 268.1L354.5 268.1L355.5 267.4L356.5 266.7L357.5 266.7L358.5 266.3L359.5 265.3L360.5 264.5L361.5 265.5L362.5 265.8L363.5 266.1L364.5 265.7L365.5 264.7L366.5 265.4L367.5 265.1L368.5 264.9L369.5 265.2L370.5 264.4L371.5 265.3L372.5 264.9L373.5 263.9L374.5 264L375.5 263L376.5 263.8L377.5 263.4L378.5 263.9L379.5 262.9L380.5 261.9L381.5 262.5L382.5 261.5L383.5 260.5L384.5 260.4L385.5 261.4L386.5 262.1L387.5 261.2L388.5 262.1L389.5 261.3L390.5 260.3L391.5 259.8L392.5 258.8L393.5 259.6L394.5 258.6L395.5 257.6L396.5 256.6L397.5 255.6L398.5 256.5L399.5 257.5L400.5 258.5L401.5 259.1L402.5 258.1L403.5 258.8L404.5 258.7L405.5 257.7L406.5 257.7L407.5 257.4L408.5 257.9L409.5 257.5L410.5 256.5L411.5 256.3L412.5 256.8L413.5 257.2L414.5 258.2L415.5 257.3L416.5 256.9L417.5 256.1L418.5 255.9L419.5 254.9L420.5 255.8L421.5 256.3L422.5 256.1L423.5 256.3L424.5 255.3L425.5 254.7L426.5 253.7L427.5 252.7L428.5 252.7L429.5 253.7L430.5 254.7L431.5 254.2L432.5 254.7L433.5 253.7L434.5 252.7L435.5 253.2L436.5 252.9L437.5 253.9L438.5 253.7L439.5 253.6L440.5 253.1L441.5 252.1L442.5 253.1L443.5 253.4L444.5 254L445.5 253.9L446.5 252.9L447.5 253.3L448.5 252.7L449.5 253.7L450.5 253.5L451.5 252.5L452.5 251.8L453.5 251.1L454.5 252.1L455.5 252.1L456.5 252.5L457.5 251.5L458.5 250.7L459.5 251.7L460.5 251.9L461.5 251.2L462.5 251.3L463.5 250.3L464.5 250.7L465.5 250.3L466.5 251.1L467.5 251.4L468.5 250.8L469.5 251.3L470.5 250.3L471.5 249.3L472.5 249.4L473.5 249.8L474.5 250.5L475.5 250.2L476.5 250.9L477.5 250.9L478.5 250.1L479.5 250.7L480.5 250L481.5 250.4L482.5 250.3L483.5 249.7L484.5 248.8L485.5 247.9L486.5 248.9L487.5 248.7L488.5 248L489.5 247.1L490.5 246.1L491.5 247L492.5 246.8L493.5 247.8L494.5 247.9L495.5 246.9L496.5 246.4L497.5 245.8L498.5 246.8L499.5 247.3L500.5 248.3L501.5 247.6L502.5 246.9L503.5 247.4L504.5 247.3L505.5 246.4L506.5 246.9L507.5 246.3L508.5 247.3L509.5 247.7L510.5 247.1L511.5 247L512.5 246L513.5 247L514.5 247L515.5 247.1L516.5 246.6L517.5 245.6L518.5 246.5L519.5 246.1L520.5 246.2L521.5 246L522.5 245L523.5 245.7L524.5 246.4L525.5 245.4L526.5 245.4L527.5 244.6L528.5 244.2L529.5 243.4L530.5 244L531.5 243.9L532.5 244.9L533.5 244.2L534.5 243.2L535.5 244.2L536.5 244.4L537.5 243.4L538.5 242.4L539.5 241.4L540.5 242.3L541.5 243.3L542.5 243.4L543.5 243.5L544.5 243.5L545.5 244.3L546.5 243.9L547.5 244.2L548.5 244.3L549.5 243.8L550.5 244L551.5 243.2L552.5 244.2L553.5 244.1L554.5 244.3L555.5 244.1L556.5 243.2L557.5 242.4L558.5 242.2L559.5 242.9L560.5 243.1L561.5 242.1L562.5 242.9L563.5 242.5L564.5 243.4L565.5 242.4L566.5 241.4L567.5 242.1L568.5 241.6L569.5 241L570.5 241.1L571.5 241.1L572.5 241.5L573.5 240.8L574.5 241.8L575.5 242.5L576.5 241.5L577.5 241.3L578.5 240.5L579.5 241.5L580.5 240.8L581.5 239.8L582.5 240.2L583.5 241.2L584.5 241.9L585.5 241.6L586.5 241L587.5 240.8L588.5 239.8L589.5 240.4L590.5 240L591.5 239.8L592.5 239.9L593.5 239L594.5 238L595.5 237.4L596.5 238.4L597.5 239L598.5 239.1L599.5 238.9L600.5 238.1L601.5 237.3L602.5 237.2L603.5 238.1L604.5 238.3L605.5 237.4L606.5 238.4L607.5 239L608.5 239.4L609.5 238.8L610.5 237.8L611.5 236.8L612.5 236.4L613.5 237.4L614.5 237.8L615.5 236.8L616.5 237.6L617.5 238.2L618.5 239.2L619.5 238.6L620.5 237.6L621.5 238.3L622.5 238.9L623.5 238.8L624.5 238.7L625.5 237.7L626.5 236.9L627.5 236.1L628.5 237.1L629.5 236.7L630.5 235.7L631.5 236.1L632.5 237.1L633.5 236.9L634.5 236.6L635.5 237.5L636.5 236.6L637.5 235.6L638.5 234.6L639.5 234.1L640.5 235.1L641.5 236.1L642.5 236.2L643.5 236.8L644.5 235.8L645.5 234.8L646.5 234.8L647.5 234.4L648.5 235L649.5 235.1L650.5 234.6L651.5 234.5L652.5 234L653.5 234.5L654.5 234L655.5 235L656.5 235.7L657.5 234.7L658.5 234.9L659.5 233.9L660.5 234.9L661.5 234.5L662.5 234.9L663.5 235.1L664.5 235.6L665.5 235.9L666.5 235.4L667.5 235.4L668.5 235.4L669.5 234.4L670.5 235.1L671.5 234.5L672.5 234.1L673.5 234L674.5 233.1L675.5 233.6L676.5 234.6L677.5 234.3L678.5 234L679.5 235L680.5 234.8L681.5 233.8L682.5 234.6L683.5 234.2L684.5 234.2L685.5 233.7L686.5 232.7L687.5 233.5L688.5 233.8L689.5 234.3L690.5 234.4L691.5 234.2L692.5 234.7L693.5 234.1L694.5 235.1L695.5 235.4L696.5 235.2L697.5 235.7L698.5 235.5L699.5 235.1L700.5 234.9L701.5 235.9L702.5 236.9L703.5 237.9L704.5 238.9L705.5 239.3L706.5 240.3L707.5 241.1L708.5 242.1L709.5 241.8L710.5 241.3L711.5 242.3L712.5 243.3L713.5 243.8L714.5 244.6L715.5 245.6L716.5 246.2L717.5 246.3L718.5 246.2L719.5 246.1L720.5 245.4L721.5 246.4L722.5 247.4L723.5 247.4L724.5 247.9L725.5 247.3L726.5 248.3L727.5 249.3L728.5 250.3L729.5 251.3L730.5 251.7L731.5 252.6L732.5 252.2L733.5 253L734.5 253.2L735.5 253.8L736.5 254.6L737.5 254.4L738.5 255.2L739.5 255.2L740.5 255.2L741.5 254.2L742.5 253.5L743.5 254.5L744.5 255.5L745.5 255.9L746.5 256.4L747.5 257.4L748.5 258.4L749.5 258.5L750.5 257.5L751.5 257.9L752.5 258.9L753.5 259.9L754.5 260.2L755.5 259.7L756.5 259.9L757.5 260.1L758.5 261L759.5 261L760.5 260L761.5 260.2L762.5 261.2L763.5 262.2L764.5 262.9L765.5 263.1L766.5 263.1L767.5 262.3L768.5 262.9L769.5 263.8L770.5 264.8L771.5 265.8L772.5 266.3L773.5 266.2L774.5 265.3L775.5 265.6L776.5 264.8L777.5 263.8L778.5 264.2L779.5 265.2L780.5 266.2L781.5 266.3L782.5 267L783.5 267.2L784.5 268L785.5 268.8L786.5 267.9L787.5 266.9L788.5 267L789.5 268L790.5 269L791.5 269.8L792.5 270.8L793.5 271.4L794.5 270.4L795.5 270.9L796.5 270.8L797.5 270.5L798.5 269.5L799.5 268.5L800.5 268.9L801.5 269.9L802.5 270.9L803.5 271.6L804.5 270.6L805.5 270.9L806.5 270L807.5 270.9L808.5 271.9L809.5 272.6L810.5 272.7L811.5 273.7L812.5 274.6L813.5 274L814.5 274.3L815.5 274.2L816.5 275.2L817.5 275.4L818.5 274.7L819.5 275.7L820.5 275.6L821.5 275.7L822.5 276.1L823.5 275.2L824.5 276.2L825.5 276L826.5 276.1L827.5 275.1L828.5 274.1L829.5 275L830.5 275.4L831.5 275.8L832.5 276L833.5 275.4L834.5 275.2L835.5 274.7L836.5 275.7L837.5 276L838.5 276.8L839.5 277.4L840.5 277L841.5 278L842.5 278.2L843.5 277.2L844.5 277.8L845.5 277.6L846.5 278.3L847.5 278.1L848.5 278.3L849.5 278.7L850.5 277.9L851.5 277.6L852.5 277.2L853.5 278.2L854.5 279.2L855.5 279.6L856.5 280.4L857.5 279.4L858.5 278.4L859.5 278.5L860.5 279L861.5 279.7L862.5 280.6L863.5 279.6L864.5 279.6L865.5 280L866.5 280.5L867.5 279.7L868.5 280.7L869.5 281.3L870.5 281.4L871.5 281.9L872.5 282.6L873.5 281.9L874.5 281.6L875.5 281.7L876.5 281.1L877.5 280.1L878.5 279.1L879.5 278.6L880.5 279.6L881.5 280.6L882.5 281.3L883.5 281.4L884.5 280.8L885.5 281.8L886.5 280.9L887.5 279.9L888.5 280.5L889.5 281.5L890.5 282.4L891.5 282.3L892.5 283.3L893.5 284.1L894.5 284.3L895.5 283.3L896.5 283L897.5 283.3L898.5 282.3L899.5 281.3L900.5 282.3L901.5 283.3L902.5 284.3L903.5 284.6L904.5 283.6L905.5 284.4L906.5 284.3L907.5 284.3L908.5 284.4L909.5 283.9L910.5 284.6L911.5 284L912.5 285L913.5 286L914.5 285.2L915.5 285.7L916.5 286.6L917.5 287.4L918.5 286.9L919.5 285.9L920.5 286.3L921.5 287.3L922.5 286.6L923.5 286.2L924.5 287.2L925.5 287.9L926.5 288.1L927.5 287.1L928.5 286.6L929.5 286.8L930.5 286.9L931.5 286.6L932.5 287.4L933.5 288.4L934.5 287.9L935.5 287.9L936.5 287L937.5 287.6L938.5 288.6L939.5 288.5L940.5 288.4L941.5 288.5L942.5 288.5L943.5 287.6L944.5 287.2L945.5 287L946.5 288L947.5 288.6L948.5 287.8L949.5 288.1L950.5 287.7L951.5 288.3L952.5 288.5L953.5 288.2L954.5 289.1L955.5 289.9L956.5 290.2L957.5 290.2L958.5 289.8L959.5 289.6L960.5 288.9L961.5 288.8L962.5 288.7L963.5 289.7L964.5 290.4L965.5 290L966.5 291L967.5 290.9L968.5 290.1L969.5 290.5L970.5 289.9L971.5 290.9L972.5 290.7L973.5 289.8L974.5 290.1L975.5 289.7L976.5 290.6L977.5 290.9L978.5 289.9L979.5 290L980.5 290.7L981.5 291.4L982.5 291.5L983.5 291.5L984.5 291.4L985.5 291.4L986.5 290.8L987.5 290L988.5 291L989.5 291.2L990.5 291L991.5 291.5L992.5 291.6L993.5 291.7L994.5 290.7L995.5 289.7L996.5 290L997.5 291L998.5 292L999.5 291.9L1000.5 291.4L1001.5 291.6L1002.5 290.9L1003.5 291.7L1004.5 291.6L1005.5 291.5L1006.5 291.6L1007.5 292.6L1008.5 293.1L1009.5 292.4L1010.5 292.2L1011.5 292.1L1012.5 291.8L1013.5 292.2L1014.5 291.4L1015.5 292.4L1016.5 292.5L1017.5 293.5L1018.5 294.2L1019.5 293.2L1020.5 293.2L1021.5 292.8L1022.5 293.1L1023.5 292.2L1024.5 291.2L1025.5 292L1026.5 293L1027.5 293L1028.5 293.1L1029.5 294L1030.5 293.3L1031.5 292.7L1032.5 292.7L1033.5 292.7L1034.5 293L1035.5 293L1036.5 292.2L1037.5 293.2L1038.5 294.2L1039.5 293.4L1040.5 293.8L1041.5 293.3L1042.5 294L1043.5 293.7L1044.5 293.2L1045.5 293.5L1046.5 293.7L1047.5 294.1L1048.5 293.7L1049.5 294.7L1050.5 294.5L1051.5 293.5L1052.5 294.3L1053.5 293.9L1054.5 293.6L1055.5 293.6L1056.5 293.4L1057.5 294L1058.5 293.5L1059.5 294.5L1060.5 295L1061.5 294L1062.5 294.5L1063.5 294.6L1064.5 294.2L1065.5 293.9L1066.5 293.8L1067.5 293.2L1068.5 292.2L1069.5 293.2L1070.5 294.2L1071.5 295.2L1072.5 294.9L1073.5 293.9L1074.5 294.7L1075.5 295.5L1076.5 295.3L1077.5 294.8L1078.5 293.8L1079.5 294.5L1080.5 295.1L1081.5 294.1L1082.5 294L1083.5 294.3L1084.5 294.9L1085.5 295.5L1086.5 295.1L1087.5 294.7L1088.5 293.7L1089.5 294.1L1090.5 295.1L1091.5 294.3L1092.5 294L1093.5 294.9L1094.5 295.2L1095.5 294.6L1096.5 295.5L1097.5 295.1L1098.5 294.8L1099.5 294.8L1100.5 293.8L1101.5 294.6L1102.5 295.6L1103.5 294.9L1104.5 294.9L1105.5 294.7L1106.5 294.1L1107.5 293.4L1108.5 294.4L1109.5 295.4L1110.5 296.4L1111.5 297.3L1112.5 296.8L1113.5 296.5L1114.5 296.2L1115.5 297.2L1116.5 297.1L1117.5 296.1L1118.5 296.6L1119.5 296.2L1120.5 297.2L1121.5 297L1122.5 296L1123.5 296.9L1124.5 296.4L1125.5 295.8L1126.5 295.8L1127.5 296.4L1128.5 297.1L1129.5 297.8L1130.5 296.8L1131.5 296.7L1132.5 296.3L1133.5 295.3L1134.5 294.4L1135.5 295.4L1136.5 296.4L1137.5 297L1138.5 297.4L1139.5 297.6L1140.5 297.2L1141.5 296.9L1142.5 296L1143.5 296.3L1144.5 295.3L1145.5 296.2L1146.5 297.1L1147.5 296.9L1148.5 296.8L1149.5 295.8L1150.5 296.5L1151.5 296.6L1152.5 296.6L1153.5 296.5L1154.5 297.5L1155.5 297.4L1156.5 296.6L1157.5 296.5L1158.5 296.4L1159.5 297.3L1160.5 297.7L1161.5 296.8L1162.5 297.8L1163.5 298.2L1164.5 297.2L1165.5 297.2L1166.5 296.2L1167.5 297.2L1168.5 297.6L1169.5 297.6L1170.5 297.8L1171.5 297.8L1172.5 298.6L1173.5 298L1174.5 297.3L1175.5 297.4L1176.5 298L1177.5 298.6L1178.5 298L1179.5 297.6L1180.5 297.5L1181.5 297.8L1182.5 298.3L1183.5 298.2L1184.5 297.2L1185.5 297L1186.5 297.3L1187.5 297.7L1188.5 297.5L1189.5 298.5L1190.5 298.2L1191.5 298.9L1192.5 298.1L1193.5 297.1L1194.5 297.9L1195.5 298.7L1196.5 299.3L1197.5 299.4L1198.5 299.8L1199.5 298.8L1200.5 298.1L1201.5 298.1L1202.5 298L1203.5 297.3L1203.5 310.6L1202.5 310.8L1201.5 310.8L1200.5 311.6L1199.5 312.5L1198.5 313.2L1197.5 312.2L1196.5 312.1L1195.5 312L1194.5 311.5L1193.5 310.7L1192.5 311.7L1191.5 311.9L1190.5 311.4L1189.5 311L1188.5 311.3L1187.5 310.3L1186.5 310.5L1185.5 310L1184.5 310.9L1183.5 311.9L1182.5 311L1181.5 311L1180.5 310.3L1179.5 310.5L1178.5 311.5L1177.5 310.8L1176.5 311.4L1175.5 310.4L1174.5 310.3L1173.5 311.3L1172.5 310.8L1171.5 311.4L1170.5 310.4L1169.5 310.5L1168.5 310.8L1167.5 310.3L1166.5 309.9L1165.5 310L1164.5 310.9L1163.5 311.9L1162.5 311.6L1161.5 310.6L1160.5 310.1L1159.5 310.5L1158.5 309.5L1157.5 309.2L1156.5 310.2L1155.5 310.3L1154.5 310.9L1153.5 309.9L1152.5 309.3L1151.5 310L1150.5 309.4L1149.5 309.3L1148.5 309.6L1147.5 309.7L1146.5 310.3L1145.5 309.8L1144.5 308.9L1143.5 308.8L1142.5 309L1141.5 310L1140.5 310.3L1139.5 311.3L1138.5 310.3L1137.5 310.2L1136.5 310.9L1135.5 310.7L1134.5 309.7L1133.5 309.7L1132.5 310.2L1131.5 309.5L1130.5 310.5L1129.5 311.5L1128.5 310.8L1127.5 309.9L1126.5 308.9L1125.5 308.8L1124.5 309.8L1123.5 309.2L1122.5 309.6L1121.5 310.3L1120.5 310.5L1119.5 309.5L1118.5 308.9L1117.5 309.9L1116.5 310.1L1115.5 310.4L1114.5 309.4L1113.5 309.5L1112.5 310.5L1111.5 309.6L1110.5 310.1L1109.5 309.1L1108.5 308.7L1107.5 307.7L1106.5 307.5L1105.5 308.1L1104.5 308.3L1103.5 309.3L1102.5 310.3L1101.5 309.7L1100.5 308.7L1099.5 307.7L1098.5 307.7L1097.5 308.3L1096.5 307.8L1095.5 308.3L1094.5 307.7L1093.5 308L1092.5 307.4L1091.5 308.4L1090.5 309.4L1089.5 308.5L1088.5 307.5L1087.5 307.9L1086.5 308.1L1085.5 309.1L1084.5 308.2L1083.5 307.6L1082.5 306.9L1081.5 307.6L1080.5 308.6L1079.5 307.9L1078.5 307.3L1077.5 308.1L1076.5 308.2L1075.5 308.8L1074.5 308.3L1073.5 307.8L1072.5 308.8L1071.5 309L1070.5 308L1069.5 307.6L1068.5 306.6L1067.5 306.6L1066.5 306.9L1065.5 306.9L1064.5 307.3L1063.5 308.3L1062.5 307.4L1061.5 307.3L1060.5 308.1L1059.5 307.9L1058.5 307L1057.5 306.2L1056.5 306.8L1055.5 306.3L1054.5 306.4L1053.5 307.3L1052.5 306.7L1051.5 307.1L1050.5 308L1049.5 308.1L1048.5 307.1L1047.5 306.4L1046.5 307.3L1045.5 306.3L1044.5 306.3L1043.5 306.8L1042.5 306.4L1041.5 307L1040.5 306.1L1039.5 306.6L1038.5 307.2L1037.5 307.1L1036.5 306.1L1035.5 305.8L1034.5 306.3L1033.5 305.5L1032.5 305.5L1031.5 306.1L1030.5 306.7L1029.5 307.5L1028.5 306.5L1027.5 305.9L1026.5 306.9L1025.5 306.4L1024.5 305.4L1023.5 305.9L1022.5 306.1L1021.5 306L1020.5 306L1019.5 307L1018.5 306.7L1017.5 307.1L1016.5 306.1L1015.5 305.3L1014.5 305L1013.5 304.5L1012.5 305L1011.5 305L1010.5 304.9L1009.5 305.9L1008.5 306L1007.5 306.6L1006.5 305.6L1005.5 304.6L1004.5 305L1003.5 304.4L1002.5 304.5L1001.5 304.2L1000.5 304.4L999.5 305.1L998.5 305.5L997.5 306.5L996.5 305.5L995.5 304.5L994.5 304.8L993.5 304.5L992.5 305.2L991.5 304.3L990.5 304.2L989.5 304.2L988.5 304L987.5 303.6L986.5 304.1L985.5 304.7L984.5 304.2L983.5 304.2L982.5 304.9L981.5 304.3L980.5 304.2L979.5 303.2L978.5 303.5L977.5 304.5L976.5 304L975.5 303.3L974.5 302.6L973.5 302.8L972.5 303.8L971.5 303.5L970.5 303.6L969.5 302.9L968.5 303.3L967.5 303.9L966.5 303.7L965.5 303.6L964.5 302.8L963.5 303.2L962.5 302.2L961.5 301.5L960.5 302.4L959.5 302.5L958.5 303.2L957.5 302.9L956.5 303L955.5 303.3L954.5 302.7L953.5 301.8L952.5 301.1L951.5 301.3L950.5 300.9L949.5 300.6L948.5 301.5L947.5 301.1L946.5 301.4L945.5 300.4L944.5 300.2L943.5 301.2L942.5 301.2L941.5 301.7L940.5 301.3L939.5 301.3L938.5 302.3L937.5 301.6L936.5 300.6L935.5 301L934.5 302L933.5 303L932.5 302.4L931.5 301.4L930.5 300.4L929.5 299.7L928.5 299.9L927.5 300.9L926.5 301.8L925.5 300.8L924.5 300.7L923.5 299.7L922.5 300.2L921.5 301.2L920.5 300.2L919.5 299.2L918.5 300.1L917.5 299.9L916.5 300.2L915.5 299.3L914.5 298.5L913.5 299.3L912.5 299.3L911.5 298.3L910.5 297.3L909.5 297.4L908.5 297L907.5 297.1L906.5 297.6L905.5 297L904.5 297.2L903.5 297.4L902.5 297.6L901.5 297.5L900.5 297.1L899.5 296.1L898.5 296.9L897.5 297.2L896.5 296.3L895.5 297.3L894.5 298.3L893.5 297.4L892.5 296.9L891.5 295.9L890.5 295.5L889.5 296.5L888.5 295.7L887.5 295.3L886.5 296.3L885.5 296.3L884.5 295.3L883.5 294.3L882.5 294.8L881.5 293.9L880.5 294.1L879.5 293.1L878.5 292.9L877.5 293.8L876.5 294.5L875.5 294.8L874.5 294.7L873.5 295.3L872.5 296.3L871.5 295.4L870.5 294.6L869.5 294.2L868.5 294.1L867.5 293.3L866.5 292.7L865.5 293.3L864.5 292.4L863.5 293.3L862.5 294.3L861.5 293.6L860.5 292.6L859.5 291.6L858.5 292.3L857.5 293.3L856.5 292.7L855.5 293.2L854.5 292.2L853.5 292.3L852.5 291.3L851.5 290.6L850.5 291.6L849.5 291.1L848.5 291.5L847.5 291.1L846.5 290.8L845.5 291.2L844.5 290.4L843.5 290.7L842.5 291.7L841.5 291.6L840.5 290.6L839.5 289.8L838.5 290.2L837.5 289.2L836.5 288.7L835.5 288L834.5 288.2L833.5 289L832.5 288.6L831.5 288.8L830.5 288.6L829.5 288.2L828.5 287.9L827.5 288.9L826.5 289.2L825.5 289L824.5 288.7L823.5 288.8L822.5 288.5L821.5 288.9L820.5 288.6L819.5 288.4L818.5 288.2L817.5 287.9L816.5 288.5L815.5 287.5L814.5 287L813.5 287.4L812.5 287.1L811.5 287.8L810.5 286.8L809.5 285.8L808.5 286.4L807.5 285.9L806.5 284.9L805.5 283.9L804.5 284L803.5 285L802.5 285L801.5 286L800.5 285.1L799.5 284.3L798.5 285.3L797.5 285.1L796.5 284.4L795.5 283.6L794.5 283.7L793.5 284.3L792.5 284.2L791.5 283.3L790.5 282.8L789.5 283.5L788.5 282.5L787.5 281.5L786.5 282.3L785.5 281.7L784.5 281.6L783.5 280.6L782.5 280L781.5 279.5L780.5 279.1L779.5 280.1L778.5 279.1L777.5 278.1L776.5 278.4L775.5 278.1L774.5 279L773.5 279.1L772.5 279.5L771.5 279.1L770.5 278.9L769.5 277.9L768.5 276.9L767.5 275.9L766.5 275.9L765.5 275.9L764.5 276.2L763.5 275.6L762.5 275.3L761.5 274.3L760.5 273.6L759.5 274.6L758.5 274.1L757.5 273.7L756.5 272.7L755.5 272.7L754.5 273.3L753.5 273L752.5 273L751.5 272L750.5 271L749.5 271.6L748.5 271.4L747.5 271L746.5 270.1L745.5 269.2L744.5 269.9L743.5 269.8L742.5 268.8L741.5 268.6L740.5 269.3L739.5 268.3L738.5 268L737.5 267.7L736.5 267.2L735.5 267.4L734.5 266.4L733.5 265.9L732.5 265.4L731.5 265L730.5 265.4L729.5 264.4L728.5 264.4L727.5 264.2L726.5 264L725.5 263L724.5 262L723.5 261L722.5 261.2L721.5 261.1L720.5 260.1L719.5 259.1L718.5 259.6L717.5 259L716.5 259L715.5 259.2L714.5 258.6L713.5 257.6L712.5 257.4L711.5 257.6L710.5 256.6L709.5 255.8L708.5 256.8L707.5 255.8L706.5 254.8L705.5 253.8L704.5 252.8L703.5 253L702.5 252.1L701.5 251.1L700.5 250.1L699.5 249.1L698.5 249.1L697.5 248.3L696.5 248.5L695.5 248.2L694.5 248.2L693.5 247.5L692.5 246.9L691.5 247.7L690.5 247L689.5 247.1L688.5 247.1L687.5 246.6L686.5 246.3L685.5 247L684.5 247.2L683.5 247.4L682.5 247L681.5 247.5L680.5 248L679.5 248.4L678.5 247.5L677.5 248.5L676.5 249.5L675.5 248.6L674.5 247.6L673.5 246.9L672.5 246.9L671.5 247.9L670.5 247.2L669.5 247.9L668.5 248.2L667.5 248.2L666.5 248.7L665.5 248.4L664.5 249.2L663.5 248.2L662.5 247.9L661.5 247.7L660.5 247.3L659.5 247.6L658.5 248.5L657.5 249.5L656.5 250.5L655.5 250.2L654.5 249.2L653.5 248.2L652.5 247.2L651.5 247.4L650.5 247.7L649.5 248.7L648.5 247.9L647.5 247.8L646.5 248.2L645.5 249.2L644.5 250.2L643.5 249.5L642.5 249.7L641.5 249.1L640.5 249.2L639.5 248.2L638.5 248.8L637.5 249.6L636.5 250.2L635.5 250.5L634.5 249.7L633.5 250L632.5 251L631.5 250L630.5 249.2L629.5 250.2L628.5 250L627.5 249.7L626.5 250.4L625.5 251L624.5 251.5L623.5 251.5L622.5 252.4L621.5 251.7L620.5 251L619.5 251.9L618.5 252L617.5 251.5L616.5 251L615.5 250.4L614.5 250.6L613.5 250.8L612.5 249.8L611.5 250.6L610.5 251.6L609.5 252.2L608.5 252.5L607.5 252L606.5 251.7L605.5 251.1L604.5 250.9L603.5 251.4L602.5 250.4L601.5 250.7L600.5 251.7L599.5 251.8L598.5 252.4L597.5 251.8L596.5 251.8L595.5 252L594.5 253L593.5 253.7L592.5 252.7L591.5 252.7L590.5 253.2L589.5 252.7L588.5 253.5L587.5 253.8L586.5 254.1L585.5 254.7L584.5 254.3L583.5 255L582.5 254L581.5 254.7L580.5 255.7L579.5 255.5L578.5 254.5L577.5 254.2L576.5 254.8L575.5 255.7L574.5 255.7L573.5 254.7L572.5 253.9L571.5 254.6L570.5 253.7L569.5 253.9L568.5 254.9L567.5 254.4L566.5 255.4L565.5 256.4L564.5 256.6L563.5 255.7L562.5 255.3L561.5 255.8L560.5 255.6L559.5 256L558.5 255.2L557.5 255.8L556.5 256.8L555.5 257L554.5 257.5L553.5 257L552.5 256.9L551.5 256.7L550.5 256.5L549.5 257.2L548.5 257L547.5 257L546.5 257.3L545.5 256.7L544.5 257L543.5 256.1L542.5 256.6L541.5 257.6L540.5 257.1L539.5 256.1L538.5 256.6L537.5 256.9L536.5 257.8L535.5 257.5L534.5 257.7L533.5 258.7L532.5 259.1L531.5 258.1L530.5 257.1L529.5 256.9L528.5 257.3L527.5 257.9L526.5 258.2L525.5 258.8L524.5 259.8L523.5 259.2L522.5 258.5L521.5 259L520.5 259.1L519.5 259.4L518.5 258.9L517.5 259.2L516.5 259.9L515.5 260.1L514.5 260.2L513.5 259.8L512.5 259.7L511.5 259.9L510.5 260.3L509.5 260.7L508.5 260.4L507.5 259.9L506.5 259.2L505.5 259.7L504.5 260.2L503.5 260.1L502.5 260.3L501.5 261.2L500.5 261.9L499.5 260.9L498.5 260L497.5 259.8L496.5 260.8L495.5 261.8L494.5 262.8L493.5 263L492.5 262L491.5 261L490.5 260L489.5 260.7L488.5 261L487.5 261.8L486.5 261.5L485.5 261.5L484.5 262.5L483.5 262.9L482.5 263.2L481.5 263L480.5 263.5L479.5 262.9L478.5 263.5L477.5 263.6L476.5 263.6L475.5 263.6L474.5 263L473.5 263.3L472.5 262.3L471.5 263L470.5 264L469.5 263.5L468.5 264.4L467.5 263.9L466.5 264.1L465.5 263.4L464.5 263.1L463.5 264L462.5 264L461.5 264.4L460.5 264.9L459.5 264.7L458.5 264.8L457.5 265.8L456.5 266.3L455.5 265.3L454.5 264.8L453.5 264.6L452.5 265.6L451.5 266.6L450.5 267.6L449.5 267.6L448.5 266.6L447.5 265.7L446.5 266.5L445.5 266.7L444.5 266.9L443.5 266.6L442.5 266.2L441.5 265.8L440.5 266.3L439.5 266.7L438.5 266.8L437.5 266.5L436.5 266.5L435.5 266.4L434.5 267.4L433.5 268.4L432.5 268.3L431.5 267.8L430.5 268L429.5 268.6L428.5 267.6L427.5 267.1L426.5 268.1L425.5 268.1L424.5 268.8L423.5 268.9L422.5 269L421.5 269.5L420.5 269L419.5 268.5L418.5 268.9L417.5 269.2L416.5 270.2L415.5 271.2L414.5 272.2L413.5 271.3L412.5 270.3L411.5 269.3L410.5 270L409.5 271L408.5 270.2L407.5 270.7L406.5 271.7L405.5 272.7L404.5 273.7L403.5 273L402.5 272L401.5 271.9L400.5 272L399.5 271L398.5 270.8L397.5 271.8L396.5 272.8L395.5 273.1L394.5 273.6L393.5 273.2L392.5 272.5L391.5 273L390.5 273.8L389.5 274.8L388.5 274.6L387.5 274.9L386.5 275.1L385.5 275.6L384.5 274.6L383.5 274.7L382.5 275.7L381.5 275.3L380.5 276.3L379.5 277.3L378.5 277.4L377.5 276.7L376.5 276.1L375.5 276.5L374.5 276.7L373.5 277.3L372.5 278.3L371.5 277.8L370.5 278.1L369.5 277.7L368.5 278L367.5 278.1L366.5 277.8L365.5 278.4L364.5 278.8L363.5 279.3L362.5 278.7L361.5 278.6L360.5 278.3L359.5 279.3L358.5 279.9L357.5 279.5L356.5 279.8L355.5 280.8L354.5 281.2L353.5 282L352.5 281L351.5 281.4L350.5 282.4L349.5 281.8L348.5 282.6L347.5 282L346.5 282.3L345.5 282.8L344.5 283.8L343.5 284.8L342.5 283.8L341.5 283.6L340.5 284.6L339.5 284.3L338.5 285.1L337.5 284.2L336.5 284.2L335.5 284.2L334.5 285.2L333.5 286.2L332.5 285.9L331.5 286.6L330.5 286.4L329.5 286.5L328.5 287.2L327.5 286.9L326.5 287.7L325.5 287.2L324.5 287.4L323.5 286.8L322.5 286.8L321.5 287.8L320.5 288.8L319.5 289.1L318.5 289.3L317.5 289.9L316.5 290.9L315.5 290.3L314.5 290.7L313.5 290.5L312.5 290.3L311.5 291.2L310.5 291L309.5 291.6L308.5 290.8L307.5 291.8L306.5 292.8L305.5 293.8L304.5 294.5L303.5 294.8L302.5 294.9L301.5 294.9L300.5 294.6L299.5 295.6L298.5 296.6L297.5 297.6L296.5 298.6L295.5 298.4L294.5 299.4L293.5 300.4L292.5 301.4L291.5 302.4L290.5 302.2L289.5 302.5L288.5 302.6L287.5 303.2L286.5 303.7L285.5 304.4L284.5 305.4L283.5 305.4L282.5 306.1L281.5 306.1L280.5 307.1L279.5 308.1L278.5 308.1L277.5 308.9L276.5 309.1L275.5 310.1L274.5 311.1L273.5 310.9L272.5 311.8L271.5 312.8L270.5 313.8L269.5 314.8L268.5 315.8L267.5 316.8L266.5 317.6L265.5 318.4L264.5 319.4L263.5 320.4L262.5 321.4L261.5 321.8L260.5 322.8L259.5 323.8L258.5 324.8L257.5 325.8L256.5 325.2L255.5 325.3L254.5 326.3L253.5 327.3L252.5 328.3L251.5 328.6L250.5 329.5L249.5 330.4L248.5 332.7L247.5 333.7L246.5 334.7L245.5 336.8L244.5 337.8L243.5 338.8L242.5 339.8L241.5 341.5L240.5 343.1L239.5 344.1L238.5 345.9L237.5 346.9L236.5 349L235.5 350L234.5 351.3L233.5 353L232.5 354L231.5 356.4L230.5 357.4L229.5 358.9L228.5 359.9L227.5 360.9L226.5 363.2L225.5 364.2L224.5 365.4L223.5 367.5L222.5 368.5L221.5 369.5L220.5 370.5L219.5 371.6L218.5 372.6L217.5 373.6L216.5 378.7L215.5 379.7L214.5 382.7L213.5 383.7L212.5 388.3L211.5 391L210.5 392L209.5 394.5L208.5 395.5L207.5 399.2L206.5 401.5L205.5 402.5L204.5 407.5L203.5 408.5L202.5 410.6L201.5 413.3L200.5 414.3L199.5 417.9L198.5 418.9L197.5 422.7L196.5 423.7L195.5 424.7L194.5 425.7L193.5 426.7L192.5 427.7L191.5 428.7L190.5 427.9L189.5 426.9L188.5 425.9L187.5 424.9L186.5 423.9L185.5 422.9Z" fill="#00FF90"/>
<path d="M185.5 287L186.5 276.2L187.5 275.2L188.5 273.5L189.5 268.1L190.5 267.1L191.5 264.6L192.5 263.6L193.5 260.1L194.5 259.1L195.5 258.1L196.5 255L197.5 254L198.5 251.7L199.5 250.7L200.5 249.7L201.5 247.7L202.5 246.7L203.5 244.2L204.5 243.2L205.5 242L206.5 241L207.5 240L208.5 239L209.5 238L210.5 237L211.5 236L212.5 235.5L213.5 235.2L214.5 234.2L215.5 233.2L216.5 232.2L217.5 231.5L218.5 230.7L219.5 229.7L220.5 228.7L221.5 229.2L222.5 229.9L223.5 228.9L224.5 228.7L225.5 228.9L226.5 227.9L227.5 227L228.5 228L229.5 227L230.5 226L231.5 225L232.5 224L233.5 223.2L234.5 222.2L235.5 221.2L236.5 221.3L237.5 220.3L238.5 219.3L239.5 218.6L240.5 219.6L241.5 219.9L242.5 219.6L243.5 218.6L244.5 217.6L245.5 216.6L246.5 215.6L247.5 214.6L248.5 215L249.5 215.9L250.5 216.9L251.5 217.1L252.5 216.5L253.5 215.8L254.5 214.8L255.5 214.3L256.5 213.9L257.5 214.9L258.5 214L259.5 213L260.5 213.8L261.5 213.8L262.5 213.7L263.5 213.8L264.5 214.6L265.5 214.7L266.5 214L267.5 214.4L268.5 214.3L269.5 213.7L270.5 213.3L271.5 212.4L272.5 213.4L273.5 213.6L274.5 214L275.5 213L276.5 212L277.5 213L278.5 212.6L279.5 211.6L280.5 211.8L281.5 212L282.5 211.9L283.5 211.4L284.5 211.4L285.5 211.2L286.5 210.2L287.5 210.9L288.5 210.2L289.5 209.2L290.5 209.1L291.5 208.1L292.5 207.1L293.5 206.3L294.5 207.3L295.5 208.3L296.5 208.3L297.5 208.8L298.5 207.9L299.5 208.9L300.5 209.3L301.5 208.6L302.5 207.6L303.5 206.6L304.5 205.6L305.5 205.1L306.5 206.1L307.5 206.8L308.5 206.1L309.5 206.5L310.5 205.9L311.5 206.8L312.5 206.9L313.5 207.9L314.5 207.1L315.5 206.3L316.5 206.2L317.5 206L318.5 207L319.5 206.9L320.5 206L321.5 206.4L322.5 206.1L323.5 205.1L324.5 205.5L325.5 205.3L326.5 206.1L327.5 205.1L328.5 204.1L329.5 204.3L330.5 204.2L331.5 205.1L332.5 206.1L333.5 207.1L334.5 206.3L335.5 205.3L336.5 205.3L337.5 204.6L338.5 205.5L339.5 205L340.5 204L341.5 204.6L342.5 204.5L343.5 205.5L344.5 206.1L345.5 205.1L346.5 205.6L347.5 205.9L348.5 205.3L349.5 205L350.5 206L351.5 206.3L352.5 205.3L353.5 204.3L354.5 203.8L355.5 204L356.5 203L357.5 202L358.5 202.7L359.5 203.7L360.5 204.7L361.5 204.6L362.5 203.6L363.5 203.5L364.5 202.8L365.5 203.8L366.5 204.2L367.5 203.3L368.5 203.8L369.5 203L370.5 204L371.5 203.9L372.5 202.9L373.5 203.3L374.5 203.8L375.5 203.5L376.5 203L377.5 204L378.5 204.7L379.5 203.7L380.5 204.2L381.5 203.6L382.5 203.7L383.5 203.8L384.5 204.3L385.5 203.3L386.5 202.6L387.5 203.2L388.5 203.1L389.5 202.4L390.5 202.9L391.5 203.9L392.5 203.2L393.5 203L394.5 202.1L395.5 202.5L396.5 202.2L397.5 203.2L398.5 203.8L399.5 202.8L400.5 203.1L401.5 203.4L402.5 203.7L403.5 203.2L404.5 202.9L405.5 202.9L406.5 201.9L407.5 202.6L408.5 202.1L409.5 202.1L410.5 201.1L411.5 200.1L412.5 200.7L413.5 201.7L414.5 202.7L415.5 203.1L416.5 202.1L417.5 202.4L418.5 201.5L419.5 201.4L420.5 201.1L421.5 202.1L422.5 202.2L423.5 201.2L424.5 202.2L425.5 201.5L426.5 200.5L427.5 200.7L428.5 201.7L429.5 202.7L430.5 202.6L431.5 201.6L432.5 201.7L433.5 202.3L434.5 202.2L435.5 201.5L436.5 202.5L437.5 202.7L438.5 202.3L439.5 202L440.5 201.1L441.5 200.9L442.5 200.7L443.5 201.2L444.5 201.5L445.5 200.5L446.5 200.4L447.5 200L448.5 200.9L449.5 201.1L450.5 200.4L451.5 199.7L452.5 199.2L453.5 200.1L454.5 200.2L455.5 201.2L456.5 201.2L457.5 200.6L458.5 200.2L459.5 200.1L460.5 200.8L461.5 199.8L462.5 198.8L463.5 197.8L464.5 197.6L465.5 198L466.5 198.4L467.5 198.1L468.5 199.1L469.5 200.1L470.5 199.4L471.5 198.4L472.5 197.4L473.5 198.3L474.5 199.3L475.5 198.6L476.5 198.7L477.5 199.6L478.5 200.4L479.5 199.9L480.5 200.1L481.5 200.1L482.5 199.4L483.5 200L484.5 199.5L485.5 198.6L486.5 198.5L487.5 199.5L488.5 200.1L489.5 200L490.5 200.4L491.5 200.2L492.5 201.2L493.5 200.8L494.5 199.8L495.5 200L496.5 199.6L497.5 200.5L498.5 199.8L499.5 198.8L500.5 198L501.5 197.4L502.5 196.7L503.5 196.8L504.5 197.8L505.5 198.8L506.5 199L507.5 199.7L508.5 199.3L509.5 198.3L510.5 198.9L511.5 198.9L512.5 199.9L513.5 200.2L514.5 199.2L515.5 198.4L516.5 197.4L517.5 198.4L518.5 199.4L519.5 199.2L520.5 198.2L521.5 197.2L522.5 196.4L523.5 195.9L524.5 196.4L525.5 196.5L526.5 197L527.5 197.7L528.5 198.7L529.5 198.8L530.5 198.7L531.5 197.7L532.5 197.8L533.5 197L534.5 198L535.5 198.3L536.5 198L537.5 198.5L538.5 199L539.5 198L540.5 197.8L541.5 197.2L542.5 197.6L543.5 197.3L544.5 196.3L545.5 195.9L546.5 196.9L547.5 197.9L548.5 197.2L549.5 198L550.5 199L551.5 198.3L552.5 198.4L553.5 198.5L554.5 199.2L555.5 198.5L556.5 198.5L557.5 198.5L558.5 198.3L559.5 197.3L560.5 196.4L561.5 197.4L562.5 198.4L563.5 197.7L564.5 198.1L565.5 198L566.5 199L567.5 199.4L568.5 199L569.5 198.2L570.5 197.2L571.5 196.2L572.5 195.7L573.5 196.7L574.5 197.2L575.5 198.2L576.5 197.3L577.5 196.6L578.5 197.6L579.5 197.7L580.5 198.7L581.5 198.7L582.5 197.7L583.5 196.7L584.5 196.5L585.5 197.5L586.5 198.1L587.5 197.7L588.5 197.8L589.5 197.5L590.5 197.5L591.5 197.8L592.5 197.5L593.5 196.8L594.5 196.3L595.5 197.3L596.5 197.6L597.5 196.6L598.5 197.4L599.5 197.9L600.5 198.1L601.5 197.5L602.5 196.5L603.5 197.1L604.5 197.8L605.5 197.9L606.5 197.8L607.5 198.8L608.5 198.6L609.5 197.7L610.5 197.2L611.5 197L612.5 196.9L613.5 197.3L614.5 197L615.5 197.6L616.5 197.3L617.5 197L618.5 196L619.5 195L620.5 195.8L621.5 196.8L622.5 195.8L623.5 195.9L624.5 196.9L625.5 197.7L626.5 197.8L627.5 197.5L628.5 196.5L629.5 195.5L630.5 196.1L631.5 196.4L632.5 195.4L633.5 195.2L634.5 196.2L635.5 196.9L636.5 197.9L637.5 198.9L638.5 198.3L639.5 197.3L640.5 196.5L641.5 195.5L642.5 196.4L643.5 196.6L644.5 195.6L645.5 195.7L646.5 196.7L647.5 197.7L648.5 197.5L649.5 198L650.5 197.1L651.5 196.1L652.5 196.8L653.5 196.6L654.5 197.6L655.5 197.2L656.5 196.2L657.5 195.9L658.5 195L659.5 196L660.5 196.7L661.5 196.9L662.5 197.3L663.5 196.5L664.5 196.7L665.5 196.3L666.5 197.3L667.5 197.8L668.5 196.8L669.5 196.4L670.5 195.9L671.5 196.9L672.5 197.5L673.5 196.8L674.5 197.5L675.5 196.5L676.5 195.5L677.5 195.5L678.5 196.1L679.5 196.7L680.5 197.2L681.5 198.2L682.5 198L683.5 197.4L684.5 197.8L685.5 197L686.5 198L687.5 198L688.5 198.4L689.5 198.6L690.5 198.9L691.5 198.5L692.5 198L693.5 197.3L694.5 197.4L695.5 197.3L696.5 196.3L697.5 195.7L698.5 196.7L699.5 197.7L700.5 197.5L701.5 198.1L702.5 198L703.5 199L704.5 199.3L705.5 199.5L706.5 199.4L707.5 198.5L708.5 199.5L709.5 200.5L710.5 200.6L711.5 201L712.5 201.7L713.5 202.6L714.5 203.1L715.5 202.7L716.5 202.9L717.5 203.9L718.5 204.9L719.5 205.9L720.5 205.6L721.5 205.7L722.5 206.6L723.5 205.6L724.5 204.9L725.5 205.9L726.5 206.4L727.5 207.4L728.5 206.4L729.5 205.5L730.5 206.5L731.5 207.4L732.5 207.4L733.5 207.8L734.5 208.8L735.5 209.8L736.5 210.1L737.5 209.1L738.5 209.4L739.5 209.3L740.5 208.3L741.5 207.8L742.5 208.8L743.5 209.8L744.5 210.8L745.5 211.7L746.5 210.7L747.5 209.7L748.5 209.6L749.5 210.6L750.5 211.6L751.5 211.7L752.5 210.7L753.5 210.5L754.5 211.5L755.5 212.5L756.5 213.3L757.5 214.3L758.5 214.7L759.5 214.4L760.5 214.7L761.5 213.7L762.5 214.6L763.5 215.1L764.5 215L765.5 215.2L766.5 214.5L767.5 215.2L768.5 214.6L769.5 215.6L770.5 216.4L771.5 216.5L772.5 217.1L773.5 218L774.5 217L775.5 216.9L776.5 217.9L777.5 218.6L778.5 217.7L779.5 218.7L780.5 218.2L781.5 217.2L782.5 217.5L783.5 217.1L784.5 218.1L785.5 218.2L786.5 219.2L787.5 219.9L788.5 219L789.5 219.8L790.5 220L791.5 220L792.5 220.1L793.5 220.6L794.5 220.7L795.5 220.1L796.5 219.9L797.5 219.9L798.5 220.8L799.5 221.3L800.5 220.5L801.5 219.9L802.5 219.7L803.5 220.7L804.5 221.3L805.5 221.2L806.5 221.7L807.5 221.3L808.5 222.3L809.5 223.3L810.5 222.7L811.5 223.2L812.5 222.2L813.5 221.2L814.5 221.4L815.5 220.7L816.5 221.5L817.5 222.5L818.5 223.3L819.5 223.4L820.5 222.6L821.5 221.6L822.5 220.8L823.5 221.8L824.5 222.3L825.5 221.3L826.5 221.8L827.5 222L828.5 223L829.5 223.1L830.5 224.1L831.5 224.1L832.5 223.1L833.5 223.9L834.5 223.5L835.5 224.3L836.5 224.5L837.5 225.5L838.5 225.9L839.5 224.9L840.5 223.9L841.5 224L842.5 225L843.5 225.7L844.5 225.1L845.5 226.1L846.5 227.1L847.5 226.3L848.5 226.9L849.5 226.7L850.5 225.7L851.5 225.5L852.5 226.5L853.5 226.9L854.5 226L855.5 226.2L856.5 225.8L857.5 226.8L858.5 227.1L859.5 226.1L860.5 227L861.5 228L862.5 228.6L863.5 228.2L864.5 227.2L865.5 228L866.5 227.7L867.5 228.7L868.5 228.8L869.5 227.8L870.5 228.4L871.5 228.8L872.5 229.1L873.5 228.9L874.5 229.3L875.5 229.8L876.5 228.9L877.5 229L878.5 228.7L879.5 228.6L880.5 228.4L881.5 227.4L882.5 228.3L883.5 229.3L884.5 229.9L885.5 230.1L886.5 229.3L887.5 230.1L888.5 229.7L889.5 229L890.5 229.1L891.5 230.1L892.5 230.2L893.5 229.5L894.5 229.3L895.5 229.2L896.5 229.3L897.5 229.8L898.5 229.5L899.5 229.5L900.5 228.5L901.5 227.5L902.5 227.9L903.5 227.7L904.5 226.7L905.5 226.4L906.5 227.4L907.5 228.4L908.5 229.4L909.5 230.4L910.5 231.2L911.5 230.2L912.5 230.3L913.5 230.5L914.5 231.3L915.5 232.3L916.5 232.4L917.5 232.4L918.5 231.7L919.5 231.6L920.5 230.8L921.5 231.8L922.5 232L923.5 231.3L924.5 231.1L925.5 230.2L926.5 230.4L927.5 230.1L928.5 231.1L929.5 231.8L930.5 231.1L931.5 232.1L932.5 231.8L933.5 230.8L934.5 231L935.5 232L936.5 231.4L937.5 230.8L938.5 231.8L939.5 232.7L940.5 231.7L941.5 231.4L942.5 230.6L943.5 231.6L944.5 232.3L945.5 231.3L946.5 231.8L947.5 230.9L948.5 231.9L949.5 231.8L950.5 230.8L951.5 230.7L952.5 229.7L953.5 230.7L954.5 231.4L955.5 232.4L956.5 233.3L957.5 232.3L958.5 231.3L959.5 230.7L960.5 231.3L961.5 231.4L962.5 231.5L963.5 231.3L964.5 230.7L965.5 231.6L966.5 231.5L967.5 231.4L968.5 231.5L969.5 230.7L970.5 231.7L971.5 231.6L972.5 231.7L973.5 232.2L974.5 232.2L975.5 231.5L976.5 231.1L977.5 232.1L978.5 232L979.5 231L980.5 231.9L981.5 231.4L982.5 231.3L983.5 231.4L984.5 232.4L985.5 233.4L986.5 233.3L987.5 233.7L988.5 233.8L989.5 232.9L990.5 232.7L991.5 231.9L992.5 232.7L993.5 232.6L994.5 232.6L995.5 233.1L996.5 232.7L997.5 233.4L998.5 232.4L999.5 231.4L1000.5 230.4L1001.5 229.4L1002.5 230.4L1003.5 231.4L1004.5 232.4L1005.5 232.8L1006.5 231.8L1007.5 232.7L1008.5 232.1L1009.5 233.1L1010.5 233.4L1011.5 232.4L1012.5 233.1L1013.5 233.7L1014.5 232.7L1015.5 232.6L1016.5 232.7L1017.5 232.2L1018.5 231.3L1019.5 231.1L1020.5 230.9L1021.5 231.9L1022.5 232.8L1023.5 232.7L1024.5 233.1L1025.5 232.7L1026.5 231.9L1027.5 232.2L1028.5 233.2L1029.5 233.6L1030.5 233.1L1031.5 233.2L1032.5 233.2L1033.5 232.2L1034.5 232.9L1035.5 233.9L1036.5 234.7L1037.5 234.4L1038.5 233.4L1039.5 233.7L1040.5 232.9L1041.5 233.8L1042.5 233.7L1043.5 234.7L1044.5 235.4L1045.5 234.9L1046.5 233.9L1047.5 233.6L1048.5 233.2L1049.5 232.6L1050.5 231.6L1051.5 232.6L1052.5 233.6L1053.5 232.8L1054.5 233L1055.5 234L1056.5 234.9L1057.5 234.4L1058.5 235.2L1059.5 234.2L1060.5 233.2L1061.5 233.2L1062.5 232.5L1063.5 233.5L1064.5 234.5L1065.5 234.4L1066.5 234.6L1067.5 233.6L1068.5 232.6L1069.5 232.3L1070.5 233.3L1071.5 233.7L1072.5 233.1L1073.5 232.8L1074.5 232.5L1075.5 233.5L1076.5 234L1077.5 234.4L1078.5 234.4L1079.5 233.8L1080.5 232.8L1081.5 232.9L1082.5 233.9L1083.5 234.9L1084.5 234.7L1085.5 234.7L1086.5 234.7L1087.5 234L1088.5 233L1089.5 232.3L1090.5 233.3L1091.5 234.3L1092.5 234.7L1093.5 234.6L1094.5 233.7L1095.5 234.7L1096.5 234.4L1097.5 233.8L1098.5 234.1L1099.5 235.1L1100.5 234.8L1101.5 234.4L1102.5 234L1103.5 234.2L1104.5 234.9L1105.5 235.6L1106.5 235.1L1107.5 236L1108.5 235.2L1109.5 234.2L1110.5 234.9L1111.5 234.4L1112.5 235.4L1113.5 235.7L1114.5 236.7L1115.5 236.2L1116.5 235.3L1117.5 234.3L1118.5 234.1L1119.5 235.1L1120.5 235.7L1121.5 234.7L1122.5 234.5L1123.5 234.2L1124.5 235.2L1125.5 235.8L1126.5 235.5L1127.5 236.3L1128.5 236.5L1129.5 237.5L1130.5 237.6L1131.5 236.9L1132.5 237.2L1133.5 236.5L1134.5 235.6L1135.5 235.6L1136.5 235.8L1137.5 236.3L1138.5 235.5L1139.5 236.5L1140.5 236.1L1141.5 235.1L1142.5 235.5L1143.5 234.9L1144.5 235.9L1145.5 236.9L1146.5 236.5L1147.5 236.3L1148.5 235.3L1149.5 236.2L1150.5 236.3L1151.5 236.5L1152.5 236.7L1153.5 236.4L1154.5 237.2L1155.5 237.3L1156.5 237.4L1157.5 237.4L1158.5 236.8L1159.5 237.4L1160.5 236.7L1161.5 236.2L1162.5 236.1L1163.5 237L1164.5 237.5L1165.5 238.2L1166.5 237.8L1167.5 237.5L1168.5 236.6L1169.5 236.9L1170.5 236.5L1171.5 236.7L1172.5 236.3L1173.5 237.3L1174.5 237.8L1175.5 238.8L1176.5 239.7L1177.5 239.1L1178.5 238.9L1179.5 239L1180.5 238.3L1181.5 238L1182.5 237.3L1183.5 236.8L1184.5 236.7L1185.5 237.7L1186.5 238L1187.5 237.1L1188.5 238.1L1189.5 238.7L1190.5 238L1191.5 238.1L1192.5 237.1L1193.5 238.1L1194.5 238.5L1195.5 239L1196.5 238L1197.5 237L1198.5 237.9L1199.5 238.9L1200.5 239.2L1201.5 239.3L1202.5 238.4L1203.5 239.2L1203.5 252.6L1202.5 253.4L1201.5 253.4L1200.5 253.5L1199.5 254L1198.5 253.5L1197.5 254.1L1196.5 255.1L1195.5 255.4L1194.5 254.4L1193.5 253.4L1192.5 252.4L1191.5 252.2L1190.5 252.6L1189.5 253.1L1188.5 252.9L1187.5 252.2L1186.5 251.9L1185.5 252.5L1184.5 251.5L1183.5 251.2L1182.5 252.2L1181.5 252.5L1180.5 253.2L1179.5 253.1L1178.5 253.2L1177.5 253.9L1176.5 253.3L1175.5 254.1L1174.5 253.1L1173.5 252.1L1172.5 251.1L1171.5 250.7L1170.5 251.7L1169.5 250.8L1168.5 251.1L1167.5 252L1166.5 252.3L1165.5 253.3L1164.5 252.4L1163.5 251.7L1162.5 250.7L1161.5 250.6L1160.5 251.6L1159.5 251L1158.5 251.7L1157.5 251.6L1156.5 251.6L1155.5 252.1L1154.5 251.5L1153.5 251.4L1152.5 250.7L1151.5 250.9L1150.5 250.9L1149.5 250.5L1148.5 250.5L1147.5 250.7L1146.5 251L1145.5 251.8L1144.5 251.5L1143.5 250.5L1142.5 249.6L1141.5 250.6L1140.5 251.6L1139.5 251.4L1138.5 250.5L1137.5 250L1136.5 250.6L1135.5 249.8L1134.5 250.4L1133.5 251.4L1132.5 251.1L1131.5 251.8L1130.5 251.7L1129.5 251.8L1128.5 251.2L1127.5 250.7L1126.5 250.5L1125.5 249.8L1124.5 250L1123.5 249L1122.5 248.9L1121.5 249.9L1120.5 249.9L1119.5 250.3L1118.5 249.3L1117.5 249.4L1116.5 250.4L1115.5 251.4L1114.5 251.9L1113.5 250.9L1112.5 249.9L1111.5 249.3L1110.5 248.6L1109.5 249.2L1108.5 250.2L1107.5 250.2L1106.5 249.9L1105.5 249.3L1104.5 249.9L1103.5 248.9L1102.5 248.4L1101.5 249L1100.5 249.7L1099.5 250.6L1098.5 249.6L1097.5 248.6L1096.5 248.9L1095.5 248.6L1094.5 248.8L1093.5 248.9L1092.5 249.4L1091.5 249L1090.5 248.8L1089.5 247.9L1088.5 248.9L1087.5 249.5L1086.5 248.9L1085.5 248.9L1084.5 249.6L1083.5 248.9L1082.5 249.1L1081.5 248.1L1080.5 247.6L1079.5 248.6L1078.5 248.6L1077.5 249.5L1076.5 248.5L1075.5 248.2L1074.5 247.2L1073.5 247.3L1072.5 248.3L1071.5 247.5L1070.5 247.9L1069.5 247.9L1068.5 248.9L1067.5 249.9L1066.5 249L1065.5 249.1L1064.5 248.8L1063.5 248.7L1062.5 247.7L1061.5 247.7L1060.5 248.7L1059.5 249.7L1058.5 249.7L1057.5 249.1L1056.5 248.7L1055.5 249.5L1054.5 249L1053.5 250L1052.5 251L1051.5 250.6L1050.5 249.6L1049.5 248.6L1048.5 248L1047.5 249L1046.5 250L1045.5 251L1044.5 250.1L1043.5 249.6L1042.5 248.6L1041.5 247.9L1040.5 247.9L1039.5 247.6L1038.5 248.2L1037.5 248.9L1036.5 248.9L1035.5 249.4L1034.5 248.7L1033.5 247.7L1032.5 247.4L1031.5 247.6L1030.5 247.8L1029.5 247.7L1028.5 248.6L1027.5 247.6L1026.5 246.6L1025.5 247.3L1024.5 246.9L1023.5 247.9L1022.5 246.9L1021.5 247L1020.5 246L1019.5 245.4L1018.5 246.4L1017.5 246.9L1016.5 247.4L1015.5 246.9L1014.5 247.9L1013.5 248.9L1012.5 248.2L1011.5 247.3L1010.5 248.1L1009.5 248.2L1008.5 247.2L1007.5 246.3L1006.5 246.9L1005.5 247.4L1004.5 247.6L1003.5 246.6L1002.5 246.3L1001.5 247.3L1000.5 248.3L999.5 248.6L998.5 247.6L997.5 247.4L996.5 247.8L995.5 246.9L994.5 247.4L993.5 246.9L992.5 246.8L991.5 246.9L990.5 247.1L989.5 247.8L988.5 247.9L987.5 248.1L986.5 249.1L985.5 250.1L984.5 250.8L983.5 249.8L982.5 248.8L981.5 247.8L980.5 246.8L979.5 246.1L978.5 246.6L977.5 246.9L976.5 245.9L975.5 246.3L974.5 247.3L973.5 246.4L972.5 246.4L971.5 246L970.5 245.8L969.5 245.7L968.5 245.6L967.5 246.2L966.5 245.8L965.5 245.7L964.5 245.5L963.5 245.8L962.5 246.5L961.5 245.5L960.5 245.6L959.5 245.9L958.5 246.9L957.5 247.8L956.5 247.5L955.5 247.7L954.5 246.7L953.5 245.7L952.5 244.9L951.5 245L950.5 245.8L949.5 246.8L948.5 246.6L947.5 246L946.5 246.1L945.5 247.1L944.5 248.1L943.5 248L942.5 247L941.5 246L940.5 246.6L939.5 246.8L938.5 246.9L937.5 245.9L936.5 246.5L935.5 247.3L934.5 246.3L933.5 245.9L932.5 246.9L931.5 246.4L930.5 246.3L929.5 245.7L928.5 246.1L927.5 245.1L926.5 244.3L925.5 245.3L924.5 245.5L923.5 246L922.5 246.4L921.5 246.2L920.5 245.8L919.5 245.9L918.5 246.5L917.5 246.6L916.5 246.6L915.5 247.4L914.5 246.7L913.5 245.7L912.5 244.7L911.5 245L910.5 246L909.5 245.5L908.5 246.3L907.5 245.3L906.5 244.7L905.5 243.7L904.5 244.4L903.5 245.4L902.5 244.4L901.5 244L900.5 245L899.5 244.8L898.5 244.5L897.5 243.7L896.5 244L895.5 243.5L894.5 244.2L893.5 245.2L892.5 246.2L891.5 246.9L890.5 245.9L889.5 244.9L888.5 244.5L887.5 243.9L886.5 244.3L885.5 244.1L884.5 244.3L883.5 244.2L882.5 243.7L881.5 242.7L880.5 242.8L879.5 243.1L878.5 243.2L877.5 243.1L876.5 244.1L875.5 243.5L874.5 244L873.5 243.3L872.5 243.1L871.5 243.7L870.5 243L869.5 243.4L868.5 244.4L867.5 244.4L866.5 243.4L865.5 242.4L864.5 242.2L863.5 242.8L862.5 243.5L861.5 244.5L860.5 244L859.5 243L858.5 242L857.5 241.6L856.5 240.6L855.5 240.1L854.5 241.1L853.5 240.7L852.5 241.1L851.5 240.5L850.5 241.5L849.5 242.5L848.5 241.6L847.5 241.1L846.5 241.4L845.5 241.3L844.5 240.3L843.5 239.3L842.5 239.9L841.5 240L840.5 241L839.5 242L838.5 241.5L837.5 240.9L836.5 239.9L835.5 238.9L834.5 238.1L833.5 237.7L832.5 238.3L831.5 238.7L830.5 239.1L829.5 238.1L828.5 237.4L827.5 237.1L826.5 236.2L825.5 236.1L824.5 237.1L823.5 237L822.5 237L821.5 238L820.5 238.7L819.5 237.7L818.5 237.6L817.5 237.4L816.5 236.8L815.5 235.8L814.5 235.5L813.5 236.5L812.5 237.5L811.5 237.5L810.5 238.5L809.5 239.5L808.5 239.8L807.5 238.8L806.5 237.8L805.5 236.8L804.5 235.8L803.5 235.5L802.5 234.5L801.5 234.5L800.5 235.5L799.5 235L798.5 235.6L797.5 234.6L796.5 234.1L795.5 234.9L794.5 234.8L793.5 235.6L792.5 234.6L791.5 234.3L790.5 234.7L789.5 234.2L788.5 234L787.5 233.9L786.5 234.1L785.5 233.1L784.5 232.4L783.5 232.3L782.5 231.5L781.5 232.5L780.5 233.5L779.5 233.2L778.5 232.8L777.5 233.1L776.5 233.6L775.5 232.6L774.5 232.3L773.5 233.3L772.5 232.6L771.5 231.6L770.5 230.6L769.5 230.6L768.5 229.6L767.5 228.8L766.5 229.5L765.5 229.2L764.5 229.4L763.5 229.8L762.5 229.3L761.5 228.8L760.5 228.6L759.5 228.9L758.5 229.2L757.5 228.9L756.5 228.4L755.5 227.5L754.5 227.2L753.5 226.2L752.5 225.9L751.5 226.9L750.5 226.5L749.5 227.1L748.5 226.1L747.5 226.4L746.5 227.4L745.5 226.7L744.5 226.2L743.5 225.9L742.5 226L741.5 225L740.5 224.1L739.5 225L738.5 224L737.5 223.9L736.5 224.9L735.5 224.5L734.5 224.7L733.5 223.8L732.5 222.8L731.5 221.9L730.5 221.6L729.5 221.2L728.5 222.2L727.5 222.7L726.5 221.7L725.5 221.9L724.5 222.9L723.5 223.9L722.5 224.6L721.5 223.6L720.5 222.6L719.5 221.6L718.5 220.6L717.5 219.8L716.5 218.8L715.5 217.8L714.5 217.7L713.5 217.3L712.5 216.8L711.5 215.8L710.5 215.2L709.5 215L708.5 214.7L707.5 213.7L706.5 213.7L705.5 214.1L704.5 213.7L703.5 213.5L702.5 213L701.5 212.2L700.5 212.3L699.5 212.3L698.5 212.3L697.5 211.3L696.5 212.1L695.5 212.9L694.5 211.9L693.5 211.7L692.5 212.7L691.5 213.1L690.5 214L689.5 213L688.5 212.9L687.5 212.5L686.5 212.2L685.5 212.2L684.5 211.6L683.5 212L682.5 212.4L681.5 212.2L680.5 212.3L679.5 211.4L678.5 210.9L677.5 209.9L676.5 210.8L675.5 211.8L674.5 211.1L673.5 211.7L672.5 211.6L671.5 211.7L670.5 210.7L669.5 211L668.5 211.9L667.5 212L666.5 212.2L665.5 211.2L664.5 210.7L663.5 211.7L662.5 211.1L661.5 211.5L660.5 211.2L659.5 210.9L658.5 210.1L657.5 210.4L656.5 211.4L655.5 212.4L654.5 212.3L653.5 211.5L652.5 210.8L651.5 211.2L650.5 212.2L649.5 212.2L648.5 212.3L647.5 211.9L646.5 212.6L645.5 212L644.5 213L643.5 214L642.5 213.6L641.5 212.6L640.5 211.6L639.5 212.3L638.5 213.3L637.5 213L636.5 213.8L635.5 212.8L634.5 211.8L633.5 211L632.5 212L631.5 213L630.5 212.2L629.5 211.2L628.5 212.2L627.5 212.2L626.5 212.7L625.5 212L624.5 211.9L623.5 210.9L622.5 210.9L621.5 211.9L620.5 211.4L619.5 211.8L618.5 212.8L617.5 213L616.5 212L615.5 211.5L614.5 212.2L613.5 211.2L612.5 211.5L611.5 211.6L610.5 212.6L609.5 213.6L608.5 214.6L607.5 215.1L606.5 214.1L605.5 213.1L604.5 212.7L603.5 212L602.5 211.3L601.5 212.3L600.5 212.4L599.5 212.7L598.5 212.1L597.5 211.6L596.5 212.2L595.5 212.4L594.5 211.4L593.5 211.7L592.5 212.7L591.5 211.7L590.5 212L589.5 212L588.5 211.8L587.5 212.8L586.5 211.9L585.5 212.3L584.5 211.3L583.5 212.1L582.5 213.1L581.5 213.3L580.5 213.9L579.5 212.9L578.5 211.9L577.5 211.8L576.5 212.8L575.5 213.6L574.5 212.6L573.5 211.7L572.5 212.7L571.5 213.7L570.5 214.6L569.5 213.6L568.5 213.5L567.5 214L566.5 213.6L565.5 213.2L564.5 212.2L563.5 212.4L562.5 213.4L561.5 213.2L560.5 212.2L559.5 213.1L558.5 213.6L557.5 212.7L556.5 212.7L555.5 213.5L554.5 212.8L553.5 213.4L552.5 212.5L551.5 212.8L550.5 213.8L549.5 213.3L548.5 212.3L547.5 212.7L546.5 212.9L545.5 212.7L544.5 213.7L543.5 214.6L542.5 213.6L541.5 212.6L540.5 212.5L539.5 213.5L538.5 214.5L537.5 213.6L536.5 212.7L535.5 212.7L534.5 212.5L533.5 212L532.5 211.9L531.5 212.5L530.5 213L529.5 213L528.5 213.9L527.5 213.3L526.5 212.3L525.5 211.3L524.5 210.7L523.5 211.2L522.5 212.2L521.5 213.2L520.5 214.2L519.5 214.6L518.5 215.6L517.5 215.3L516.5 214.3L515.5 213.4L514.5 214.2L513.5 215.2L512.5 215L511.5 214L510.5 213.1L509.5 213.1L508.5 213.9L507.5 213.8L506.5 213.9L505.5 213.8L504.5 214.5L503.5 213.5L502.5 212.5L501.5 212.2L500.5 213L499.5 213.9L498.5 214.8L497.5 215L496.5 214.3L495.5 214L494.5 215L493.5 215.9L492.5 216.2L491.5 215.2L490.5 214.4L489.5 215.1L488.5 214.2L487.5 214.3L486.5 213.3L485.5 213.4L484.5 214.4L483.5 213.7L482.5 214.2L481.5 214.3L480.5 214.3L479.5 214.7L478.5 214.1L477.5 214.6L476.5 213.6L475.5 214.4L474.5 215.4L473.5 214.9L472.5 214L471.5 215L470.5 215.3L469.5 214.7L468.5 214.3L467.5 213.3L466.5 212.3L465.5 212.7L464.5 213.3L463.5 214.3L462.5 215.3L461.5 216.3L460.5 216.9L459.5 215.9L458.5 214.9L457.5 215.8L456.5 216.8L455.5 217.5L454.5 216.5L453.5 215.5L452.5 214.5L451.5 214.6L450.5 215.4L449.5 215.1L448.5 215.3L447.5 214.6L446.5 214.7L445.5 215.7L444.5 215.4L443.5 215.8L442.5 215.1L441.5 215.2L440.5 216.2L439.5 216.5L438.5 217.1L437.5 217L436.5 216.9L435.5 216.4L434.5 216.5L433.5 217.2L432.5 216.3L431.5 217.3L430.5 218.3L429.5 217.7L428.5 216.9L427.5 215.9L426.5 215.7L425.5 216.7L424.5 216.3L423.5 216.4L422.5 216.9L421.5 217.2L420.5 216.2L419.5 215.6L418.5 216.6L417.5 216.3L416.5 216.7L415.5 217.4L414.5 218.4L413.5 219.4L412.5 218.7L411.5 217.7L410.5 216.7L409.5 216.5L408.5 217L407.5 216.4L406.5 216.8L405.5 217.1L404.5 217.2L403.5 217.9L402.5 217.6L401.5 218.5L400.5 217.8L399.5 218.8L398.5 219.8L397.5 219.4L396.5 218.4L395.5 217.4L394.5 216.7L393.5 217.4L392.5 218.4L391.5 219.4L390.5 218.6L389.5 217.6L388.5 217.4L387.5 217.3L386.5 217.8L385.5 218.8L384.5 219.4L383.5 218.4L382.5 218L381.5 218.4L380.5 217.9L379.5 218.7L378.5 218.8L377.5 219L376.5 218L375.5 218L374.5 218.9L373.5 218.5L372.5 219.5L371.5 220.5L370.5 220.2L369.5 219.2L368.5 218.2L367.5 218L366.5 218.5L365.5 218.4L364.5 217.8L363.5 218.5L362.5 219.5L361.5 220.5L360.5 220.5L359.5 219.7L358.5 219.1L357.5 218.1L356.5 219L355.5 219.2L354.5 220.2L353.5 221.2L352.5 222.2L351.5 223.2L350.5 223.4L349.5 222.4L348.5 221.4L347.5 221.1L346.5 220.1L345.5 220L344.5 221L343.5 220.8L342.5 219.8L341.5 218.8L340.5 218.8L339.5 219.7L338.5 219.7L337.5 219.5L336.5 219.5L335.5 220.4L334.5 221.4L333.5 221.4L332.5 221.8L331.5 221.2L330.5 220.2L329.5 219.2L328.5 219.8L327.5 220.8L326.5 220.4L325.5 220.5L324.5 219.5L323.5 219.7L322.5 220.6L321.5 220.3L320.5 221.1L319.5 221.2L318.5 221.7L317.5 220.7L316.5 220.7L315.5 221.7L314.5 222.7L313.5 223.4L312.5 222.4L311.5 221.4L310.5 220.7L309.5 220.3L308.5 221.1L307.5 220.9L306.5 221.1L305.5 221.5L304.5 222.5L303.5 223.4L302.5 223.6L301.5 223.9L300.5 223.8L299.5 223.5L298.5 223.1L297.5 222.5L296.5 223.1L295.5 224.1L294.5 223.9L293.5 222.9L292.5 223L291.5 223.6L290.5 223.9L289.5 224.9L288.5 225.9L287.5 225.2L286.5 225.1L285.5 225.6L284.5 225.7L283.5 226.1L282.5 226.2L281.5 227L280.5 226L279.5 226.2L278.5 227.2L277.5 226.8L276.5 227.3L275.5 228.3L274.5 228.6L273.5 228.1L272.5 227.8L271.5 227.5L270.5 227.9L269.5 228.5L268.5 228.6L267.5 228.5L266.5 228.9L265.5 228.8L264.5 229.5L263.5 228.5L262.5 228L261.5 228.6L260.5 228L259.5 228.8L258.5 229.8L257.5 230L256.5 229L255.5 229L254.5 230L253.5 230.7L252.5 231.1L251.5 231.6L250.5 231.3L249.5 231L248.5 230.1L247.5 230.6L246.5 231.6L245.5 232L244.5 233L243.5 233.8L242.5 234.4L241.5 234.1L240.5 234.3L239.5 235.3L238.5 236.3L237.5 237L236.5 237L235.5 238L234.5 239L233.5 238.6L232.5 239.6L231.5 240.6L230.5 241.3L229.5 242.3L228.5 241.9L227.5 242.3L226.5 243.3L225.5 243.7L224.5 244.1L223.5 245.1L222.5 246.1L221.5 245.3L220.5 245.6L219.5 246.6L218.5 247.6L217.5 248.6L216.5 249.6L215.5 250.6L214.5 251.6L213.5 252L212.5 253L211.5 254L210.5 256.2L209.5 259.7L208.5 260.7L207.5 261.7L206.5 262.7L205.5 265.8L204.5 268.3L203.5 269.3L202.5 274.7L201.5 275.7L200.5 277.5L199.5 288.2L198.5 289.2L197.5 290.2L196.5 291.2L195.5 292.2L194.5 293.2L193.5 294.2L192.5 295.2L191.5 295.2L190.5 294.2L189.5 293.2L188.5 292.2L187.5 291.2L186.5 290.2L185.5 289.2Z" fill="#00FFE5"/>
<path d="M185.5 221.3L186.5 218.7L187.5 217.7L188.5 216.1L189.5 213.8L190.5 212.8L191.5 211.8L192.5 210.8L193.5 209.8L194.5 208.8L195.5 207.8L196.5 206.8L197.5 207.5L198.5 207L199.5 206L200.5 205L201.5 204L202.5 203.6L203.5 202.6L204.5 201.6L205.5 200.6L206.5 199.6L207.5 199.9L208.5 199.5L209.5 198.5L210.5 198.1L211.5 198.7L212.5 198.9L213.5 198.8L214.5 197.8L215.5 197.3L216.5 197.3L217.5 197.1L218.5 196.1L219.5 196.8L220.5 196.5L221.5 196.8L222.5 196.1L223.5 195.1L224.5 195.7L225.5 196.6L226.5 195.6L227.5 195.4L228.5 194.7L229.5 195.1L230.5 194.7L231.5 195.2L232.5 194.8L233.5 194.4L234.5 194.7L235.5 193.8L236.5 192.8L237.5 192.4L238.5 193.4L239.5 193.7L240.5 192.7L241.5 193.5L242.5 193.8L243.5 193.2L244.5 192.8L245.5 191.8L246.5 192.5L247.5 192.3L248.5 191.7L249.5 191.6L250.5 192.6L251.5 192.4L252.5 191.5L253.5 192.4L254.5 191.4L255.5 190.4L256.5 190.8L257.5 191.8L258.5 191.1L259.5 190.7L260.5 191.7L261.5 192.2L262.5 191.2L263.5 190.3L264.5 189.7L265.5 190.7L266.5 191.3L267.5 190.3L268.5 191L269.5 191.1L270.5 192.1L271.5 192.2L272.5 191.2L273.5 191.6L274.5 190.6L275.5 189.6L276.5 189.4L277.5 190.2L278.5 190.6L279.5 189.9L280.5 190.9L281.5 190.2L282.5 189.2L283.5 189.5L284.5 189.8L285.5 190.3L286.5 189.3L287.5 188.3L288.5 188.4L289.5 188.2L290.5 189L291.5 189L292.5 188L293.5 188L294.5 187.5L295.5 188.1L296.5 189L297.5 188.8L298.5 188.6L299.5 188L300.5 188.5L301.5 188.1L302.5 188.3L303.5 188L304.5 187.9L305.5 188.2L306.5 187.7L307.5 188.6L308.5 188.7L309.5 189.6L310.5 188.8L311.5 187.8L312.5 188.7L313.5 188.3L314.5 188.5L315.5 188.3L316.5 187.3L317.5 188L318.5 188.6L319.5 189.5L320.5 188.7L321.5 187.7L322.5 188.2L323.5 188.9L324.5 188.2L325.5 188L326.5 189L327.5 189.7L328.5 189L329.5 188.2L330.5 187.4L331.5 186.4L332.5 186.7L333.5 187.4L334.5 187.2L335.5 186.7L336.5 187L337.5 187.1L338.5 187.6L339.5 188.3L340.5 189L341.5 188.2L342.5 188.1L343.5 187.7L344.5 186.9L345.5 186.2L346.5 187.2L347.5 187.4L348.5 186.6L349.5 187L350.5 187.9L351.5 187.5L352.5 187.2L353.5 187.5L354.5 187.9L355.5 187.2L356.5 187.6L357.5 187.2L358.5 188.2L359.5 188.4L360.5 187.4L361.5 187.4L362.5 186.8L363.5 187.4L364.5 187.5L365.5 187.4L366.5 188.1L367.5 188.1L368.5 187.4L369.5 187.3L370.5 188.1L371.5 187.1L372.5 186.2L373.5 187L374.5 186.6L375.5 185.6L376.5 186L377.5 187L378.5 186.4L379.5 186L380.5 186.1L381.5 186.3L382.5 187.3L383.5 187L384.5 186.4L385.5 186.5L386.5 186.6L387.5 187.6L388.5 187.5L389.5 186.8L390.5 187.8L391.5 187.8L392.5 186.8L393.5 187.4L394.5 187.8L395.5 188.6L396.5 188.4L397.5 187.4L398.5 187.9L399.5 188.2L400.5 187.2L401.5 186.9L402.5 187L403.5 187.3L404.5 186.8L405.5 187.7L406.5 187.8L407.5 186.9L408.5 187.1L409.5 186.6L410.5 187.4L411.5 187.4L412.5 188.4L413.5 188L414.5 187L415.5 186.9L416.5 186.2L417.5 187.2L418.5 187.4L419.5 187.8L420.5 187.4L421.5 186.5L422.5 187.5L423.5 186.5L424.5 185.5L425.5 185.9L426.5 186.8L427.5 187.5L428.5 187.1L429.5 187.6L430.5 187.8L431.5 187L432.5 187.8L433.5 187.1L434.5 186.1L435.5 186.2L436.5 186.7L437.5 185.7L438.5 185L439.5 186L440.5 186.1L441.5 187.1L442.5 187.1L443.5 186.1L444.5 185.1L445.5 184.9L446.5 185.9L447.5 186.7L448.5 185.8L449.5 186.1L450.5 185.8L451.5 186.7L452.5 187L453.5 186.4L454.5 187.3L455.5 186.5L456.5 185.5L457.5 185.6L458.5 186.1L459.5 186.8L460.5 186.1L461.5 185.1L462.5 185.1L463.5 186.1L464.5 186.2L465.5 185.5L466.5 185.9L467.5 185.8L468.5 186.4L469.5 186.6L470.5 185.7L471.5 186.7L472.5 186.6L473.5 185.8L474.5 186.1L475.5 186.9L476.5 185.9L477.5 185.5L478.5 186.5L479.5 187.5L480.5 186.6L481.5 187.3L482.5 186.3L483.5 185.3L484.5 185.4L485.5 186.3L486.5 186L487.5 185.3L488.5 186.3L489.5 186.5L490.5 186.8L491.5 186.2L492.5 185.4L493.5 185.5L494.5 185.2L495.5 184.8L496.5 185.2L497.5 186.1L498.5 187.1L499.5 187.2L500.5 187L501.5 186.6L502.5 185.6L503.5 185.3L504.5 184.8L505.5 185.6L506.5 185.4L507.5 184.4L508.5 185.1L509.5 184.5L510.5 185.5L511.5 186.5L512.5 185.8L513.5 186.4L514.5 186.2L515.5 186.1L516.5 185.9L517.5 186.9L518.5 187.4L519.5 186.4L520.5 185.4L521.5 185.1L522.5 185.4L523.5 185.7L524.5 185L525.5 185.9L526.5 186.9L527.5 187.2L528.5 186.8L529.5 185.8L530.5 186.6L531.5 187.5L532.5 186.5L533.5 186L534.5 185L535.5 184.8L536.5 184.1L537.5 185.1L538.5 185.9L539.5 186L540.5 185.8L541.5 185L542.5 186L543.5 186.1L544.5 186.7L545.5 186.3L546.5 185.3L547.5 186.3L548.5 186.4L549.5 187.1L550.5 186.8L551.5 185.8L552.5 185.6L553.5 185.1L554.5 186.1L555.5 186.3L556.5 186L557.5 186.7L558.5 186.5L559.5 185.5L560.5 185.2L561.5 184.2L562.5 184.8L563.5 185.6L564.5 186.1L565.5 185.9L566.5 185.1L567.5 185.5L568.5 185.7L569.5 186.2L570.5 185.8L571.5 186.7L572.5 185.7L573.5 184.7L574.5 185.5L575.5 185.1L576.5 185.8L577.5 186L578.5 187L579.5 187.2L580.5 186.6L581.5 186.2L582.5 186.3L583.5 185.4L584.5 186L585.5 186.6L586.5 186.2L587.5 186.1L588.5 186.4L589.5 186.9L590.5 186.1L591.5 185.9L592.5 185.6L593.5 185.6L594.5 186L595.5 185.4L596.5 184.9L597.5 184.5L598.5 185L599.5 185.2L600.5 185.5L601.5 185.5L602.5 184.9L603.5 184L604.5 184L605.5 185L606.5 184.4L607.5 183.7L608.5 184.7L609.5 185.5L610.5 185.3L611.5 185.9L612.5 185.4L613.5 184.4L614.5 184.2L615.5 184.8L616.5 185.3L617.5 184.4L618.5 185.4L619.5 185.8L620.5 185.2L621.5 185.5L622.5 184.9L623.5 185.6L624.5 185.1L625.5 186.1L626.5 186L627.5 185L628.5 185.7L629.5 184.8L630.5 183.8L631.5 183.8L632.5 184.8L633.5 183.8L634.5 183L635.5 184L636.5 183.7L637.5 182.7L638.5 183.2L639.5 183L640.5 183.3L641.5 183L642.5 183.9L643.5 184.2L644.5 183.7L645.5 183.8L646.5 183.4L647.5 183.6L648.5 183.8L649.5 183.4L650.5 183.9L651.5 183.3L652.5 182.3L653.5 182.3L654.5 183.3L655.5 184.3L656.5 185L657.5 184.8L658.5 184.4L659.5 183.4L660.5 183.9L661.5 184.9L662.5 185L663.5 184.4L664.5 183.4L665.5 183.8L666.5 184L667.5 183.3L668.5 182.9L669.5 182.6L670.5 182.9L671.5 182.2L672.5 183.1L673.5 184.1L674.5 183.1L675.5 183.3L676.5 182.9L677.5 183.4L678.5 182.8L679.5 182.7L680.5 182.7L681.5 183.1L682.5 183.7L683.5 183.2L684.5 184.2L685.5 183.2L686.5 182.2L687.5 182.6L688.5 183.6L689.5 183.7L690.5 182.7L691.5 181.7L692.5 182.1L693.5 183.1L694.5 184.1L695.5 184.7L696.5 184.4L697.5 184.5L698.5 183.5L699.5 184.3L700.5 183.7L701.5 183.2L702.5 183.3L703.5 184.3L704.5 185.3L705.5 186.3L706.5 186.7L707.5 186.6L708.5 187.6L709.5 188.6L710.5 187.8L711.5 188.8L712.5 189.8L713.5 188.8L714.5 189.2L715.5 189.3L716.5 189.5L717.5 189.1L718.5 190.1L719.5 191.1L720.5 191.8L721.5 192.6L722.5 192.2L723.5 192.3L724.5 192.4L725.5 193.4L726.5 194.1L727.5 193.4L728.5 194.4L729.5 194.9L730.5 193.9L731.5 193.5L732.5 192.7L733.5 193.7L734.5 194.7L735.5 194.2L736.5 194.6L737.5 195.6L738.5 195.5L739.5 195.2L740.5 195.7L741.5 196L742.5 195.8L743.5 195.4L744.5 195L745.5 196L746.5 196.4L747.5 197.2L748.5 197L749.5 196.4L750.5 197.3L751.5 197.3L752.5 197.5L753.5 197.8L754.5 197L755.5 198L756.5 197.9L757.5 198.7L758.5 199L759.5 198.1L760.5 199.1L761.5 199.1L762.5 199.2L763.5 199.4L764.5 198.4L765.5 199.1L766.5 198.7L767.5 199.7L768.5 200.7L769.5 201.1L770.5 200.7L771.5 200.2L772.5 201.2L773.5 201.5L774.5 201.4L775.5 202.1L776.5 201.5L777.5 201L778.5 200.9L779.5 200L780.5 200.5L781.5 200.2L782.5 201.2L783.5 201.6L784.5 202.6L785.5 203.4L786.5 203.1L787.5 202.4L788.5 202.1L789.5 202.2L790.5 202.5L791.5 203.4L792.5 204.1L793.5 203.1L794.5 202.1L795.5 202.3L796.5 203L797.5 203.4L798.5 202.7L799.5 202.6L800.5 202.6L801.5 202.3L802.5 203L803.5 202.6L804.5 203.6L805.5 203.4L806.5 202.4L807.5 202.9L808.5 203.9L809.5 204.9L810.5 205.2L811.5 205.4L812.5 205.8L813.5 205.3L814.5 205.8L815.5 205.4L816.5 205.6L817.5 205.8L818.5 206.8L819.5 206L820.5 205.4L821.5 206.1L822.5 206.2L823.5 206.9L824.5 206.7L825.5 206L826.5 205.4L827.5 205.3L828.5 205.9L829.5 206.4L830.5 206L831.5 207L832.5 206.8L833.5 206.6L834.5 207L835.5 207.7L836.5 208.3L837.5 208L838.5 208L839.5 208L840.5 207L841.5 207.9L842.5 208.5L843.5 208.7L844.5 208.9L845.5 209L846.5 208L847.5 207.4L848.5 208.4L849.5 208.4L850.5 209.4L851.5 208.5L852.5 207.7L853.5 208.7L854.5 209.4L855.5 209.5L856.5 209.9L857.5 209.3L858.5 209.2L859.5 208.9L860.5 209.8L861.5 209.4L862.5 208.4L863.5 209.3L864.5 210.3L865.5 209.9L866.5 210.1L867.5 210.3L868.5 210.9L869.5 210.3L870.5 210.9L871.5 210.9L872.5 210.7L873.5 211.3L874.5 211L875.5 211L876.5 210.9L877.5 211.1L878.5 211L879.5 210.2L880.5 211L881.5 210.7L882.5 211L883.5 211.4L884.5 210.7L885.5 211.3L886.5 210.9L887.5 211.8L888.5 212L889.5 212.7L890.5 213.4L891.5 212.9L892.5 212.5L893.5 212.6L894.5 212.8L895.5 213.6L896.5 213L897.5 213.5L898.5 212.5L899.5 211.5L900.5 212L901.5 213L902.5 212.3L903.5 212.1L904.5 213.1L905.5 213.7L906.5 212.8L907.5 213.8L908.5 213.8L909.5 213.7L910.5 213.7L911.5 212.7L912.5 211.7L913.5 211.2L914.5 212.2L915.5 213.2L916.5 213.9L917.5 213.5L918.5 212.9L919.5 213.9L920.5 214.9L921.5 215.2L922.5 214.2L923.5 213.4L924.5 214.4L925.5 214.6L926.5 215.5L927.5 216L928.5 216.4L929.5 216.4L930.5 216.1L931.5 215.9L932.5 215.3L933.5 214.3L934.5 215.3L935.5 215.4L936.5 215.6L937.5 215.7L938.5 214.7L939.5 215.6L940.5 215.7L941.5 215.4L942.5 215.5L943.5 215L944.5 215.7L945.5 216.7L946.5 215.7L947.5 215.6L948.5 216.6L949.5 216L950.5 215.2L951.5 216L952.5 215.8L953.5 214.8L954.5 215.2L955.5 215.1L956.5 216.1L957.5 217.1L958.5 216.1L959.5 215.2L960.5 214.2L961.5 215.1L962.5 216.1L963.5 215.6L964.5 215.7L965.5 215.6L966.5 216.4L967.5 215.7L968.5 214.7L969.5 214.7L970.5 215.7L971.5 216.7L972.5 216.9L973.5 216.1L974.5 215.9L975.5 216.4L976.5 216.6L977.5 215.7L978.5 216.1L979.5 215.8L980.5 216.2L981.5 215.9L982.5 214.9L983.5 215.9L984.5 216.2L985.5 216.3L986.5 216.5L987.5 217.2L988.5 216.2L989.5 215.7L990.5 216.7L991.5 217.7L992.5 217.6L993.5 217.9L994.5 217.2L995.5 217L996.5 216.9L997.5 217.9L998.5 218.9L999.5 218.4L1000.5 217.7L1001.5 217.4L1002.5 217.2L1003.5 217.6L1004.5 217.3L1005.5 218.3L1006.5 217.7L1007.5 216.7L1008.5 217L1009.5 217.3L1010.5 218.2L1011.5 217.6L1012.5 216.6L1013.5 216.7L1014.5 217.5L1015.5 218.2L1016.5 218.6L1017.5 217.7L1018.5 217.7L1019.5 217.7L1020.5 217.2L1021.5 216.4L1022.5 217.4L1023.5 218L1024.5 217L1025.5 217.5L1026.5 217.5L1027.5 218.5L1028.5 218.5L1029.5 217.9L1030.5 218.2L1031.5 218.9L1032.5 219.6L1033.5 219.2L1034.5 219.3L1035.5 219.4L1036.5 219.4L1037.5 219L1038.5 218L1039.5 217L1040.5 217.1L1041.5 218.1L1042.5 219.1L1043.5 219.1L1044.5 218.4L1045.5 218.3L1046.5 217.9L1047.5 218.4L1048.5 219.4L1049.5 218.6L1050.5 218.4L1051.5 218.5L1052.5 218.8L1053.5 218.1L1054.5 219.1L1055.5 219.3L1056.5 218.3L1057.5 217.4L1058.5 216.4L1059.5 217.3L1060.5 218.3L1061.5 218.1L1062.5 218.2L1063.5 217.2L1064.5 217.9L1065.5 218.8L1066.5 218.5L1067.5 218.5L1068.5 219.4L1069.5 219L1070.5 218.2L1071.5 219.2L1072.5 219.8L1073.5 219.4L1074.5 219.3L1075.5 218.3L1076.5 219.3L1077.5 219.2L1078.5 220.1L1079.5 219.8L1080.5 218.8L1081.5 217.8L1082.5 217.3L1083.5 218.3L1084.5 219L1085.5 218.8L1086.5 219.6L1087.5 219.8L1088.5 219.1L1089.5 219.1L1090.5 220L1091.5 219.8L1092.5 219.1L1093.5 219.9L1094.5 219.7L1095.5 219.5L1096.5 220L1097.5 219.8L1098.5 220.3L1099.5 220L1100.5 220.2L1101.5 219.8L1102.5 218.8L1103.5 219.1L1104.5 218.7L1105.5 218.3L1106.5 217.3L1107.5 216.3L1108.5 217.2L1109.5 218.2L1110.5 219.2L1111.5 220L1112.5 219.6L1113.5 220.3L1114.5 219.6L1115.5 218.6L1116.5 218.6L1117.5 219.3L1118.5 218.3L1119.5 217.5L1120.5 218.4L1121.5 218.2L1122.5 219.2L1123.5 219.5L1124.5 218.5L1125.5 219.5L1126.5 219.4L1127.5 219.4L1128.5 219.4L1129.5 218.4L1130.5 219.1L1131.5 218.7L1132.5 219.7L1133.5 219.9L1134.5 220.1L1135.5 220.9L1136.5 220.3L1137.5 220.1L1138.5 220.1L1139.5 219.3L1140.5 219.9L1141.5 218.9L1142.5 217.9L1143.5 217.8L1144.5 218.8L1145.5 219.8L1146.5 220.2L1147.5 221.1L1148.5 220.8L1149.5 220.4L1150.5 219.8L1151.5 218.8L1152.5 219.7L1153.5 220.1L1154.5 219.1L1155.5 218.1L1156.5 217.1L1157.5 217.9L1158.5 218.7L1159.5 219.1L1160.5 219.1L1161.5 220.1L1162.5 221L1163.5 220.5L1164.5 219.5L1165.5 219.4L1166.5 220.2L1167.5 219.8L1168.5 218.9L1169.5 219.9L1170.5 220.3L1171.5 220.7L1172.5 220.6L1173.5 219.6L1174.5 220.5L1175.5 219.7L1176.5 218.7L1177.5 219L1178.5 218.8L1179.5 219.7L1180.5 219.8L1181.5 220.8L1182.5 220L1183.5 219L1184.5 219.3L1185.5 218.6L1186.5 218.9L1187.5 218.9L1188.5 219.7L1189.5 218.7L1190.5 217.9L1191.5 218.9L1192.5 219.7L1193.5 219.3L1194.5 219.8L1195.5 219.6L1196.5 219.6L1197.5 219.3L1198.5 220L1199.5 220.4L1200.5 220.7L1201.5 220L1202.5 219.5L1203.5 219.4L1203.5 233.1L1202.5 233.4L1201.5 234.2L1200.5 235.1L1199.5 234.1L1198.5 233.8L1197.5 233.1L1196.5 232.9L1195.5 233.9L1194.5 233L1193.5 233.2L1192.5 233.3L1191.5 233.2L1190.5 232.2L1189.5 233.1L1188.5 233.7L1187.5 232.7L1186.5 232.3L1185.5 232.7L1184.5 232.5L1183.5 233.4L1182.5 234.4L1181.5 234.5L1180.5 233.7L1179.5 233.2L1178.5 233.1L1177.5 232.1L1176.5 232.9L1175.5 233.9L1174.5 233.6L1173.5 234L1172.5 234.1L1171.5 234.5L1170.5 233.9L1169.5 233.7L1168.5 233.2L1167.5 233.7L1166.5 234.2L1165.5 233.2L1164.5 233.9L1163.5 234.9L1162.5 234.2L1161.5 234.4L1160.5 233.4L1159.5 232.6L1158.5 232.7L1157.5 232.1L1156.5 231.9L1155.5 232.9L1154.5 233.1L1153.5 234L1152.5 233.6L1151.5 233.2L1150.5 233.8L1149.5 234.2L1148.5 234.5L1147.5 234.2L1146.5 234.6L1145.5 233.7L1144.5 233.3L1143.5 232.6L1142.5 233.6L1141.5 234.6L1140.5 233.9L1139.5 233.4L1138.5 233.6L1137.5 233.6L1136.5 234.4L1135.5 233.7L1134.5 234.3L1133.5 233.3L1132.5 233.3L1131.5 232.6L1130.5 232.1L1129.5 232.8L1128.5 232.8L1127.5 233.1L1126.5 233.2L1125.5 232.8L1124.5 232.9L1123.5 233.3L1122.5 233.7L1121.5 232.7L1120.5 232.7L1119.5 233.7L1118.5 234.7L1117.5 235.3L1116.5 234.3L1115.5 234L1114.5 235L1113.5 234.3L1112.5 233.8L1111.5 233.4L1110.5 233.4L1109.5 232.9L1108.5 232.4L1107.5 231.9L1106.5 232.9L1105.5 233.1L1104.5 232.6L1103.5 232.3L1102.5 233.2L1101.5 233.7L1100.5 234L1099.5 233.7L1098.5 233.5L1097.5 234.1L1096.5 233.2L1095.5 233.5L1094.5 233.3L1093.5 233.2L1092.5 233.3L1091.5 233.4L1090.5 234.1L1089.5 233.1L1088.5 232.9L1087.5 233.9L1086.5 233.3L1085.5 233L1084.5 232.3L1083.5 232.5L1082.5 231.5L1081.5 232.2L1080.5 233.2L1079.5 233.5L1078.5 233.8L1077.5 233L1076.5 232.7L1075.5 232.7L1074.5 232.9L1073.5 233.3L1072.5 233.4L1071.5 233.2L1070.5 232.4L1069.5 232.8L1068.5 233.4L1067.5 232.4L1066.5 231.9L1065.5 232.9L1064.5 232.2L1063.5 231.3L1062.5 231.5L1061.5 231.6L1060.5 232.6L1059.5 232.1L1058.5 231.6L1057.5 232.6L1056.5 233.6L1055.5 234.6L1054.5 234.3L1053.5 233.3L1052.5 232.3L1051.5 232.3L1050.5 232.1L1049.5 232.7L1048.5 233.7L1047.5 232.9L1046.5 231.9L1045.5 231.9L1044.5 232.2L1043.5 233.2L1042.5 232.7L1041.5 233.3L1040.5 232.3L1039.5 231.5L1038.5 232.5L1037.5 232.8L1036.5 233.6L1035.5 232.7L1034.5 232.9L1033.5 233.1L1032.5 232.6L1031.5 233.3L1030.5 232.3L1029.5 231.7L1028.5 232.3L1027.5 232L1026.5 231.8L1025.5 230.9L1024.5 231L1023.5 232L1022.5 231.9L1021.5 230.9L1020.5 231.1L1019.5 231.7L1018.5 231.1L1017.5 231.7L1016.5 232.7L1015.5 232L1014.5 231.7L1013.5 230.7L1012.5 231.4L1011.5 232.4L1010.5 231.9L1009.5 231.6L1008.5 230.8L1007.5 231.8L1006.5 232.8L1005.5 232.4L1004.5 231.7L1003.5 230.7L1002.5 231.1L1001.5 231.1L1000.5 231.7L999.5 232.7L998.5 232.2L997.5 232.8L996.5 231.8L995.5 230.8L994.5 231.3L993.5 231.1L992.5 231.7L991.5 231.8L990.5 231.8L989.5 230.8L988.5 231.7L987.5 232.5L986.5 231.5L985.5 230.5L984.5 230.1L983.5 229.7L982.5 229.3L981.5 229.6L980.5 230L979.5 229.5L978.5 229.3L977.5 230L976.5 229.8L975.5 230.3L974.5 229.5L973.5 230.1L972.5 231.1L971.5 230.7L970.5 231.3L969.5 230.3L968.5 229.3L967.5 230L966.5 229.4L965.5 229.8L964.5 229.2L963.5 230.2L962.5 231.2L961.5 230.8L960.5 229.8L959.5 229.5L958.5 230.1L957.5 231.1L956.5 230.8L955.5 229.8L954.5 228.8L953.5 228.6L952.5 229.4L951.5 229.2L950.5 229.6L949.5 230.6L948.5 231.1L947.5 230.1L946.5 230.3L945.5 231.3L944.5 230.6L943.5 229.6L942.5 228.8L941.5 228.9L940.5 229.7L939.5 229.2L938.5 229L937.5 229.1L936.5 229.3L935.5 229.2L934.5 228.8L933.5 228.7L932.5 229.3L931.5 229.7L930.5 229.8L929.5 229.7L928.5 230.7L927.5 229.9L926.5 229.4L925.5 228.4L924.5 228.1L923.5 227.9L922.5 228.9L921.5 229.5L920.5 228.5L919.5 228.4L918.5 227.4L917.5 227.3L916.5 228.1L915.5 227.1L914.5 226.6L913.5 226.4L912.5 227.4L911.5 228.3L910.5 227.3L909.5 227.4L908.5 227.5L907.5 227.2L906.5 227.2L905.5 227.6L904.5 228.1L903.5 227.1L902.5 226.2L901.5 227.2L900.5 226.8L899.5 227.8L898.5 228.8L897.5 228.7L896.5 227.7L895.5 226.7L894.5 227L893.5 226L892.5 226L891.5 226.8L890.5 226.3L889.5 227L888.5 226L887.5 225.5L886.5 224.7L885.5 224.3L884.5 225.2L883.5 224.4L882.5 224.8L881.5 224.4L880.5 224.2L879.5 224.5L878.5 224.6L877.5 225.1L876.5 224.4L875.5 224.3L874.5 225.2L873.5 224.5L872.5 224.8L871.5 224.3L870.5 224.4L869.5 224.4L868.5 223.8L867.5 224.6L866.5 225.6L865.5 226.6L864.5 227.6L863.5 227.2L862.5 226.2L861.5 225.2L860.5 224.2L859.5 223.2L858.5 222.6L857.5 223.6L856.5 222.9L855.5 223.4L854.5 223L853.5 222.9L852.5 222.1L851.5 223.1L850.5 223.7L849.5 222.7L848.5 221.8L847.5 222L846.5 223L845.5 223.7L844.5 222.7L843.5 222.3L842.5 222.4L841.5 221.9L840.5 221.3L839.5 221.4L838.5 221.7L837.5 221.8L836.5 221.4L835.5 222.2L834.5 221.2L833.5 220.5L832.5 220.4L831.5 220.2L830.5 220.3L829.5 219.5L828.5 219.9L827.5 218.9L826.5 219.2L825.5 220.2L824.5 220.3L823.5 221L822.5 220L821.5 219.6L820.5 219.4L819.5 220.4L818.5 221.2L817.5 220.2L816.5 219.2L815.5 219.3L814.5 218.8L813.5 219.7L812.5 218.9L811.5 219.2L810.5 219L809.5 218.7L808.5 218.2L807.5 217.3L806.5 216.4L805.5 217.1L804.5 217L803.5 216.8L802.5 216.1L801.5 216.4L800.5 216.1L799.5 216.1L798.5 216.8L797.5 216.4L796.5 217.2L795.5 216.4L794.5 217.4L793.5 218.4L792.5 217.9L791.5 217.8L790.5 216.8L789.5 216L788.5 215.9L787.5 216.5L786.5 217.5L785.5 216.5L784.5 216.9L783.5 215.9L782.5 215L781.5 214.4L780.5 213.6L779.5 214L778.5 214.4L777.5 214.7L776.5 215.7L775.5 215L774.5 215.6L773.5 214.9L772.5 215L771.5 214.1L770.5 214.6L769.5 215.4L768.5 215.2L767.5 215.4L766.5 214.4L765.5 213.4L764.5 212.8L763.5 212.6L762.5 213L761.5 212.8L760.5 212.5L759.5 212.4L758.5 212.1L757.5 212.6L756.5 211.6L755.5 211.4L754.5 211.2L753.5 211L752.5 211.6L751.5 210.7L750.5 210.7L749.5 210.4L748.5 210.6L747.5 211.4L746.5 210.4L745.5 209.9L744.5 208.9L743.5 209.3L742.5 210.2L741.5 209.2L740.5 209.5L739.5 209L738.5 209.2L737.5 210.2L736.5 209.3L735.5 208.3L734.5 208.4L733.5 208.2L732.5 207.2L731.5 207.3L730.5 207.9L729.5 208.4L728.5 208.3L727.5 207.5L726.5 207L725.5 207.8L724.5 206.8L723.5 205.8L722.5 206.2L721.5 205.7L720.5 206L719.5 205L718.5 204.8L717.5 203.8L716.5 202.8L715.5 203.8L714.5 202.9L713.5 203.9L712.5 204.9L711.5 204.7L710.5 203.7L709.5 202.7L708.5 202L707.5 201L706.5 200L705.5 200.6L704.5 199.9L703.5 199.9L702.5 198.9L701.5 197.9L700.5 197.8L699.5 197.2L698.5 197.7L697.5 197.9L696.5 198.1L695.5 198.6L694.5 198.1L693.5 198.2L692.5 197.2L691.5 196.4L690.5 197.4L689.5 197.4L688.5 198.4L687.5 197.5L686.5 197.2L685.5 198.2L684.5 198.1L683.5 197.4L682.5 196.6L681.5 197.2L680.5 196.2L679.5 196.1L678.5 196.8L677.5 196.4L676.5 197.1L675.5 196.6L674.5 197.3L673.5 198.3L672.5 197.8L671.5 196.8L670.5 196.1L669.5 196.3L668.5 196.7L667.5 197.4L666.5 198.4L665.5 197.5L664.5 197.4L663.5 198.4L662.5 198.2L661.5 199.2L660.5 198.4L659.5 197.4L658.5 198.3L657.5 198.2L656.5 199.1L655.5 198.4L654.5 198.2L653.5 197.2L652.5 196.3L651.5 197.3L650.5 196.8L649.5 197.6L648.5 197.1L647.5 197.3L646.5 197.2L645.5 197.1L644.5 198.1L643.5 197.3L642.5 197.6L641.5 196.7L640.5 196.5L639.5 197.3L638.5 196.7L637.5 197.7L636.5 198.7L635.5 198.5L634.5 197.5L633.5 198.3L632.5 198.9L631.5 197.9L630.5 198.2L629.5 199.2L628.5 198.6L627.5 199.2L626.5 199.9L625.5 200L624.5 199L623.5 198.6L622.5 199.2L621.5 198.6L620.5 198.9L619.5 199.6L618.5 199.3L617.5 198.8L616.5 198.8L615.5 199.8L614.5 200.8L613.5 201.8L612.5 202.8L611.5 202L610.5 201L609.5 200L608.5 199L607.5 198.9L606.5 199.9L605.5 200.6L604.5 199.6L603.5 198.6L602.5 198.9L601.5 198.9L600.5 199.8L599.5 198.8L598.5 198.7L597.5 198.3L596.5 198.8L595.5 199.8L594.5 199.1L593.5 199.4L592.5 199.3L591.5 199.4L590.5 200.4L589.5 199.8L588.5 200.3L587.5 199.6L586.5 199.8L585.5 200.8L584.5 200L583.5 199.4L582.5 199.7L581.5 199.7L580.5 200.6L579.5 200.8L578.5 201.6L577.5 200.6L576.5 199.6L575.5 199L574.5 198.5L573.5 199.1L572.5 200.1L571.5 200.4L570.5 199.6L569.5 199.3L568.5 200.1L567.5 199.1L566.5 199L565.5 199.5L564.5 199.3L563.5 199.9L562.5 199.1L561.5 198.5L560.5 199.5L559.5 200.5L558.5 201.5L557.5 200.8L556.5 200.2L555.5 199.6L554.5 199.7L553.5 199.1L552.5 199.3L551.5 200.1L550.5 200.6L549.5 200.8L548.5 200.2L547.5 199.8L546.5 199.7L545.5 200.1L544.5 200.5L543.5 199.7L542.5 199.5L541.5 199.3L540.5 199.4L539.5 199.9L538.5 199.5L537.5 199.4L536.5 198.4L535.5 198.4L534.5 199.2L533.5 200.2L532.5 201.2L531.5 202.2L530.5 201.7L529.5 200.7L528.5 200.7L527.5 200.9L526.5 200.9L525.5 200.5L524.5 199.5L523.5 198.8L522.5 199.1L521.5 199.1L520.5 200.1L519.5 201.1L518.5 200.4L517.5 200.9L516.5 199.9L515.5 199.4L514.5 200.4L513.5 199.6L512.5 199.8L511.5 200.6L510.5 200.6L509.5 199.6L508.5 198.6L507.5 198.6L506.5 199L505.5 199.1L504.5 198.8L503.5 199.1L502.5 199.9L501.5 200.5L500.5 200.7L499.5 201L498.5 200.6L497.5 200.5L496.5 199.5L495.5 198.7L494.5 198.9L493.5 198.7L492.5 199.7L491.5 200.2L490.5 200.7L489.5 200.1L488.5 200L487.5 199.4L486.5 199.8L485.5 200.5L484.5 200.5L483.5 201.5L482.5 202.5L481.5 202L480.5 201L479.5 201.2L478.5 201.4L477.5 200.4L476.5 200.3L475.5 201.3L474.5 200.3L473.5 199.6L472.5 200.3L471.5 200L470.5 200L469.5 199.8L468.5 200.3L467.5 199.4L466.5 199.2L465.5 199.7L464.5 200.7L463.5 201.3L462.5 200.3L461.5 199.4L460.5 200.4L459.5 199.8L458.5 200.3L457.5 199.6L456.5 200.6L455.5 201.6L454.5 201.1L453.5 200.7L452.5 200.1L451.5 200.4L450.5 199.6L449.5 199.2L448.5 200.2L447.5 200.3L446.5 200.7L445.5 199.7L444.5 200.1L443.5 201.1L442.5 200.6L441.5 201.2L440.5 200.2L439.5 199.5L438.5 199.5L437.5 200.5L436.5 201.2L435.5 200.2L434.5 200.4L433.5 201.4L432.5 200.9L431.5 201.3L430.5 201L429.5 201.3L428.5 201L427.5 200.6L426.5 201.2L425.5 201.2L424.5 202.2L423.5 203.2L422.5 202.9L421.5 201.9L420.5 201.2L419.5 201.7L418.5 200.9L417.5 200.8L416.5 200.3L415.5 200.5L414.5 201.1L413.5 202.1L412.5 202.1L411.5 201.4L410.5 200.8L409.5 200.8L408.5 200.4L407.5 200.7L406.5 201.7L405.5 201.2L404.5 201.1L403.5 200.4L402.5 201.4L401.5 202.4L400.5 203.4L399.5 204.4L398.5 203.5L397.5 202.5L396.5 202.1L395.5 201.9L394.5 202L393.5 201.2L392.5 200.8L391.5 201.6L390.5 201.6L389.5 200.9L388.5 201.1L387.5 201.8L386.5 200.8L385.5 200L384.5 200.4L383.5 200.8L382.5 201.7L381.5 200.7L380.5 199.8L379.5 199.8L378.5 200.7L377.5 201.7L376.5 200.7L375.5 199.7L374.5 200.5L373.5 200.2L372.5 200.6L371.5 201.6L370.5 202.1L369.5 201.1L368.5 201.2L367.5 202.2L366.5 201.5L365.5 201.5L364.5 200.9L363.5 200.9L362.5 200.8L361.5 200.8L360.5 201.6L359.5 201.6L358.5 201.8L357.5 201.1L356.5 200.6L355.5 201.5L354.5 201L353.5 201.3L352.5 201L351.5 201.2L350.5 202.2L349.5 201.3L348.5 200.5L347.5 201L346.5 200.9L345.5 200.4L344.5 201.1L343.5 201.7L342.5 201.6L341.5 202.1L340.5 203.1L339.5 202.5L338.5 201.8L337.5 200.8L336.5 200.5L335.5 200.7L334.5 200.8L333.5 201.7L332.5 200.7L331.5 200.6L330.5 201.6L329.5 202.4L328.5 203.4L327.5 202.7L326.5 203.1L325.5 202.1L324.5 202.2L323.5 203.2L322.5 202.4L321.5 201.9L320.5 202.9L319.5 202.8L318.5 202.7L317.5 202L316.5 201.4L315.5 201.9L314.5 202L313.5 202.3L312.5 201.8L311.5 202.1L310.5 203.1L309.5 203.3L308.5 202.6L307.5 202.1L306.5 202.1L305.5 201.3L304.5 201.7L303.5 201.7L302.5 201.5L301.5 202.5L300.5 201.6L299.5 201.9L298.5 202.2L297.5 202.2L296.5 203.2L295.5 202.4L294.5 201.5L293.5 201.5L292.5 202.4L291.5 203.4L290.5 202.8L289.5 202.4L288.5 201.8L287.5 202.8L286.5 203.8L285.5 203.3L284.5 204.2L283.5 203.2L282.5 203.5L281.5 204.5L280.5 204.1L279.5 204.3L278.5 203.6L277.5 204.1L276.5 203.4L275.5 204.4L274.5 205.4L273.5 204.6L272.5 205.2L271.5 205.8L270.5 205.7L269.5 205.3L268.5 204.6L267.5 204.4L266.5 204.7L265.5 204.8L264.5 203.8L263.5 204.6L262.5 205.5L261.5 205.4L260.5 205.6L259.5 204.7L258.5 205.7L257.5 206.6L256.5 205.6L255.5 205L254.5 206L253.5 205.8L252.5 205.8L251.5 206.3L250.5 206.8L249.5 205.8L248.5 205.5L247.5 206.5L246.5 205.7L245.5 205.9L244.5 206.7L243.5 206.9L242.5 207.9L241.5 207.3L240.5 206.9L239.5 207.7L238.5 207.8L237.5 206.8L236.5 207.7L235.5 208.6L234.5 207.8L233.5 208.1L232.5 208.6L231.5 208.3L230.5 209.1L229.5 208.2L228.5 208.6L227.5 209.1L226.5 209.9L225.5 210.9L224.5 210.1L223.5 209.2L222.5 210.2L221.5 210.2L220.5 210.6L219.5 210L218.5 210.3L217.5 210.8L216.5 211.3L215.5 212.3L214.5 213.3L213.5 214.2L212.5 213.2L211.5 212.9L210.5 213.9L209.5 214.9L208.5 215.9L207.5 214.9L206.5 214.9L205.5 215.9L204.5 216.5L203.5 217.5L202.5 218.5L201.5 219.5L200.5 220.5L199.5 220.4L198.5 222.8L197.5 223.8L196.5 224.8L195.5 225.8L194.5 226.8L193.5 227.8L192.5 228.8L191.5 229.6L190.5 228.6L189.5 227.6L188.5 226.6L187.5 225.6L186.5 224.6L185.5 223.6Z" fill="#00BFFF"/>
<path d="M1203 220L1207.3 225L1203 233.5Z" fill="#00BFFF"/>
<path d="M687 237L689.5 234.5L691.8 230.8L694 234.5L697 238Z" fill="#00FF90"/>
<path d="M694 342L697 339L699.2 335.6L701.5 339.5L705 345Z" fill="#00FF1E"/>
<path d="M189.4 241L189.9 235.4L190.4 230.5L190.9 226.5L191.4 223L191.9 220L192.4 217.2L192.9 214.6L193.4 212.1L193.9 210L194.4 208.3L194.9 206.9L195.4 205.6L195.9 204.6L196.4 203.6L196.9 202.7L197.4 201.9L197.9 201.1L198.4 200.4L198.9 199.8L199.4 199.2L199.9 198.6L200.4 198L200.9 197.4L201.4 196.9L201.9 196.5L202.4 196L202.9 195.6L203.4 195.2L203.9 194.8L204.4 194.4L204.9 194.1L205.4 193.7L205.9 193.5L206.4 193.2L206.9 193L207.4 192.9L207.9 192.7L208.4 192.5L208.9 192.4L209.4 192.3L209.9 192.2L210.4 192.2L210.9 192.1L211.4 192.1L211.9 192.1L212.4 192.1L212.9 192L213.4 192L213.9 192L214.4 192L214.9 192L215.4 192L215.9 192L216.4 192L216.9 192L217.4 192L217.9 192L218.4 192L218.9 192L219.4 192L219.9 192L220.4 192L220.9 192L221.4 192L221.9 192L222.4 192L222.9 192L223.4 192L223.9 192L224.4 192L224.9 192L225.4 192L225.9 192L226.4 192L226.9 192L227.4 192L227.9 192L228.4 192L228.9 192L229.4 192L229.9 192L230.4 192L230.9 192L231.4 192L231.9 192L232.4 192L232.9 192L233.4 192L233.9 192L234.4 192L234.9 192L235.4 192L235.9 192L236.4 192L236.9 192L237.4 192L237.9 192L238.4 192L238.9 192L239.4 192L239.9 192L240.4 192L240.9 192L241.4 192L241.9 192L242.4 192L242.9 192L243.4 192L243.9 192L244.4 192L244.9 192L245.4 192L245.9 192L246.4 192L246.9 192L247.4 192L247.9 192L248.4 192L248.9 192L249.4 192L249.9 192L250.4 192L250.9 192L251.4 192L251.9 192L252.4 192L252.9 192L253.4 192L253.9 192L254.4 192L254.9 192L255.4 192L255.9 192L256.4 192L256.9 192L257.4 192L257.9 192L258.4 192L258.9 192L259.4 192L259.9 192L260.4 192L260.9 192L261.4 192L261.9 192L262.4 192L262.9 192L263.4 192L263.9 192L264.4 192L264.9 192L265.4 192L265.9 192L266.4 192L266.9 192L267.4 192L267.9 192L268.4 192L268.9 192L269.4 192L269.9 192L270.4 192L270.9 192L271.4 192L271.9 192L272.4 192L272.9 192L273.4 192L273.9 192L274.4 192L274.9 192L275.4 192L275.9 192L276.4 192L276.9 192L277.4 192L277.9 192L278.4 192L278.9 192L279.4 192L279.9 192L280.4 192L280.9 192L281.4 192L281.9 192L282.4 192L282.9 192L283.4 192L283.9 192L284.4 192L284.9 192L285.4 192L285.9 192L286.4 192L286.9 192L287.4 192L287.9 192L288.4 192L288.9 192L289.4 192L289.9 192L290.4 192L290.9 192L291.4 192L291.9 192L292.4 192L292.9 192L293.4 192L293.9 192L294.4 192L294.9 192L295.4 192L295.9 192L296.4 192L296.9 192L297.4 192L297.9 192L298.4 192L298.9 192L299.4 192L299.9 192L300.4 192L300.9 192L301.4 192L301.9 192L302.4 192L302.9 192L303.4 192L303.9 192L304.4 192L304.9 192L305.4 192L305.9 192L306.4 192L306.9 192L307.4 192L307.9 192L308.4 192L308.9 192L309.4 192L311.4 192L313.4 192L315.4 192L317.4 192L319.4 192L321.4 192L323.4 192L325.4 192L327.4 192L329.4 192L331.4 192L333.4 192L335.4 192L337.4 192L339.4 192L341.4 192L343.4 192L345.4 192L347.4 192L349.4 192L351.4 192L353.4 192L355.4 192L357.4 192L359.4 192L361.4 192L363.4 192L365.4 192L367.4 192L369.4 192L371.4 192L373.4 192L375.4 192L377.4 192L379.4 192L381.4 192L383.4 192L385.4 192L387.4 192L389.4 192L391.4 192L393.4 192L395.4 192L397.4 192L399.4 192L401.4 192L403.4 192L405.4 192L407.4 192L409.4 192L411.4 192L413.4 192L415.4 192L417.4 192L419.4 192L421.4 192L423.4 192L425.4 192L427.4 192L429.4 192L431.4 192L433.4 192L435.4 192L437.4 192L439.4 192L441.4 192L443.4 192L445.4 192L447.4 192L449.4 192L451.4 192L453.4 192L455.4 192L457.4 192L459.4 192L461.4 192L463.4 192L465.4 192L467.4 192L469.4 192L471.4 192L473.4 192L475.4 192L477.4 192L479.4 192L481.4 192L483.4 192L485.4 192L487.4 192L489.4 192L491.4 192L493.4 192L495.4 192L497.4 192L499.4 192L501.4 192L503.4 192L505.4 192L507.4 192L509.4 192L511.4 192L513.4 192L515.4 192L517.4 192L519.4 192L521.4 192L523.4 192L525.4 192L527.4 192L529.4 192L531.4 192L533.4 192L535.4 192L537.4 192L539.4 192L541.4 192L543.4 192L545.4 192L547.4 192L549.4 192L551.4 192L553.4 192L555.4 192L557.4 192L559.4 192L561.4 192L563.4 192L565.4 192L567.4 192L569.4 192L571.4 192L573.4 192L575.4 192L577.4 192L579.4 192L581.4 192L583.4 192L585.4 192L587.4 192L589.4 192L591.4 192L593.4 192L595.4 192L597.4 192L599.4 192L601.4 192L603.4 192L605.4 192L607.4 192L609.4 192L611.4 192L613.4 192L615.4 192L617.4 192L619.4 192L621.4 192L623.4 192L625.4 192L627.4 192L629.4 192L631.4 192L633.4 192L635.4 192L637.4 192L639.4 192L641.4 192L643.4 192L645.4 192L647.4 192L649.4 192L651.4 192L653.4 192L655.4 192L657.4 192L659.4 192L661.4 192L663.4 192L665.4 192L667.4 192L669.4 192L671.4 192L673.4 192L675.4 192L677.4 192L679.4 192L681.4 192L683.4 192L685.4 192L687.4 192L689.4 192L691.4 192L693.4 192L695.4 192L697.4 192L699.4 192L701.4 192L703.4 192L703.5 192L705.4 192.2L707.4 192.5L709.4 192.7L711.4 192.9L713.4 193.2L715.4 193.4L717.4 193.6L719.4 193.9L721.4 194.1L723.4 194.4L725.4 194.6L727.4 194.8L729.4 195.1L731.4 195.3L733.4 195.6L735.4 195.8L737.4 196.1L739.4 196.3L741.4 196.5L743.4 196.8L745.4 197L747.4 197.3L749.4 197.5L751.4 197.8L753.4 198L755.4 198.3L757.4 198.5L759.4 198.8L761.4 199L763.4 199.3L765.4 199.5L767.4 199.8L769.4 200L771.4 200.3L773.4 200.5L775.4 200.8L777.4 201L779.4 201.3L781.4 201.5L783.4 201.8L785.4 202.1L787.4 202.3L789.4 202.6L791.4 202.8L793.4 203.1L795.4 203.3L797.4 203.6L799.4 203.8L801.4 204.1L803.4 204.3L805.4 204.6L807.4 204.8L809.4 205.1L811.4 205.3L813.4 205.6L815.4 205.8L817.4 206.1L819.4 206.3L821.4 206.6L823.4 206.8L825.4 207.1L827.4 207.3L829.4 207.5L831.4 207.8L833.4 208L835.4 208.3L837.4 208.5L839.4 208.8L841.4 209L843.4 209.3L845.4 209.5L847.4 209.8L849.4 210L851.4 210.2L853.4 210.5L855.4 210.7L857.4 211L859.4 211.2L861.4 211.5L863.4 211.7L865.4 212L867.4 212.2L869.4 212.4L871.4 212.7L873.4 212.9L875.4 213.2L877.4 213.4L879.4 213.7L881.4 213.9L883.4 214.2L885.4 214.4L887.4 214.7L889.4 214.9L891.4 215.1L893.4 215.4L895.4 215.6L897.4 215.9L899.4 216.1L901.4 216.4L903.4 216.6L905.4 216.9L907.4 217.1L909.4 217.3L911.4 217.6L913.4 217.8L915.4 218.1L917.4 218.3L919.4 218.6L921.4 218.8L923.4 219L925.4 219.3L927.4 219.5L929.4 219.8L931.4 220L933.4 220.2L935.4 220.5L937.4 220.7L939.4 220.9L941.4 221.2L943.4 221.4L945.4 221.6L947.4 221.9L949.4 222.1L951.4 222.3L953.4 222.6L955.4 222.8L957.4 223L959.4 223.2L961.4 223.5L963.4 223.7L965.4 223.9L967.4 224.2L969.4 224.4L971.4 224.6L973.4 224.8L975.4 225.1L977.4 225.3L979.4 225.5L981.4 225.7L983.4 226L985.4 226.2L987.4 226.4L989.4 226.6L991.4 226.9L993.4 227.1L995.4 227.3L997.4 227.5L999.4 227.7L1001.4 228L1003.4 228.2L1005.4 228.4L1007.4 228.6L1009.4 228.9L1011.4 229.1L1013.4 229.3L1015.4 229.5L1017.4 229.7L1019.4 230L1021.4 230.2L1023.4 230.4L1025.4 230.6L1027.4 230.8L1029.4 231.1L1031.4 231.3L1033.4 231.5L1035.4 231.7L1037.4 231.9L1039.4 232.2L1041.4 232.4L1043.4 232.6L1045.4 232.8L1047.4 233L1049.4 233.3L1051.4 233.5L1053.4 233.7L1055.4 233.9L1057.4 234.1L1059.4 234.4L1061.4 234.6L1063.4 234.8L1065.4 235L1067.4 235.2L1069.4 235.5L1071.4 235.7L1073.4 235.9L1075.4 236.1L1077.4 236.3L1079.4 236.5L1081.4 236.8L1083.4 237L1085.4 237.2L1087.4 237.4L1089.4 237.6L1091.4 237.8L1093.4 238.1L1095.4 238.3L1097.4 238.5L1099.4 238.7L1101.4 238.9L1103.4 239.1L1105.4 239.3L1107.4 239.6L1109.4 239.8L1111.4 240L1113.4 240.2L1115.4 240.4L1117.4 240.6L1119.4 240.9L1121.4 241.1L1123.4 241.3L1125.4 241.5L1127.4 241.7L1129.4 241.9L1131.4 242.2L1133.4 242.4L1135.4 242.6L1137.4 242.8L1139.4 243L1141.4 243.2L1143.4 243.5L1145.4 243.7L1147.4 243.9L1149.4 244.1L1151.4 244.3L1153.4 244.5L1155.4 244.7L1157.4 245L1159.4 245.2L1161.4 245.4L1163.4 245.6L1165.4 245.8L1167.4 246L1169.4 246.3L1171.4 246.5L1173.4 246.7L1175.4 246.9L1177.4 247.1L1179.4 247.3L1181.4 247.5L1183.4 247.8L1185.4 248L1187.4 248.2L1189.4 248.4L1191.4 248.6L1193.4 248.8L1195.4 249L1197.4 249.3L1199.4 249.5L1201.4 249.7L1203.4 249.9" fill="none" stroke="#FF0000" stroke-width="7.6" stroke-linejoin="round" stroke-linecap="butt"/>
<path d="M189 309.5L189.5 306.8L190 304.2L190.5 301.6L191 299L191.5 296.4L192 293.9L192.5 291.4L193 288.9L193.5 286.5L194 284.1L194.5 281.8L195 279.4L195.5 277L196 274.6L196.5 272.2L197 269.9L197.5 267.6L198 265.4L198.5 263.2L199 261.1L199.5 259.2L200 257.4L200.5 255.7L201 254.2L201.5 252.7L202 251.2L202.5 249.8L203 248.5L203.5 247.2L204 245.9L204.5 244.7L205 243.5L205.5 242.4L206 241.3L206.5 240.3L207 239.3L207.5 238.3L208 237.4L208.5 236.5L209 235.7L209.5 234.8L210 234.1L210.5 233.3L211 232.5L211.5 231.8L212 231.1L212.5 230.4L213 229.8L213.5 229.2L214 228.5L214.5 227.9L215 227.3L215.5 226.8L216 226.2L216.5 225.6L217 225.1L217.5 224.5L218 224L218.5 223.5L219 222.9L219.5 222.4L220 221.9L220.5 221.4L221 221L221.5 220.5L222 220.1L222.5 219.6L223 219.2L223.5 218.8L224 218.4L224.5 218.1L225 217.7L225.5 217.4L226 217.1L226.5 216.9L227 216.6L227.5 216.3L228 216L228.5 215.8L229 215.5L229.5 215.3L230 215L230.5 214.8L231 214.6L231.5 214.3L232 214.1L232.5 213.9L233 213.7L233.5 213.5L234 213.3L234.5 213.1L235 213L235.5 212.8L236 212.6L236.5 212.5L237 212.3L237.5 212.1L238 212L238.5 211.9L239 211.7L239.5 211.6L240 211.4L240.5 211.3L241 211.2L241.5 211L242 210.9L242.5 210.8L243 210.6L243.5 210.5L244 210.4L244.5 210.3L245 210.2L245.5 210.1L246 210L246.5 209.9L247 209.8L247.5 209.7L248 209.6L248.5 209.6L249 209.5L249.5 209.4L250 209.4L250.5 209.4L251 209.3L251.5 209.3L252 209.2L252.5 209.2L253 209.2L253.5 209.1L254 209.1L254.5 209L255 209L255.5 209L256 208.9L256.5 208.9L257 208.9L257.5 208.8L258 208.8L258.5 208.8L259 208.8L259.5 208.7L260 208.7L260.5 208.7L261 208.7L261.5 208.7L262 208.6L262.5 208.6L263 208.6L263.5 208.6L264 208.6L264.5 208.6L265 208.5L265.5 208.5L266 208.5L266.5 208.5L267 208.5L267.5 208.5L268 208.5L268.5 208.5L269 208.5L269.5 208.5L270 208.4L270.5 208.4L271 208.4L271.5 208.4L272 208.4L272.5 208.4L273 208.4L273.5 208.4L274 208.4L274.5 208.4L275 208.4L275.5 208.4L276 208.4L276.5 208.4L277 208.3L277.5 208.3L278 208.3L278.5 208.3L279 208.3L279.5 208.3L280 208.3L280.5 208.3L281 208.3L281.5 208.3L282 208.3L282.5 208.3L283 208.3L283.5 208.3L284 208.3L284.5 208.3L285 208.3L285.5 208.3L286 208.3L286.5 208.3L287 208.3L287.5 208.3L288 208.3L288.5 208.3L289 208.3L289.5 208.3L290 208.3L290.5 208.3L291 208.3L291.5 208.3L292 208.3L292.5 208.3L293 208.3L293.5 208.3L294 208.3L294.5 208.3L295 208.3L295.5 208.3L296 208.3L296.5 208.3L297 208.3L297.5 208.3L298 208.3L298.5 208.3L299 208.3L299.5 208.3L300 208.3L300.5 208.3L301 208.3L301.5 208.3L302 208.3L302.5 208.3L303 208.3L303.5 208.3L304 208.3L304.5 208.3L305 208.3L305.5 208.3L306 208.3L306.5 208.3L307 208.3L307.5 208.3L308 208.3L308.5 208.3L309 208.3L311 208.3L313 208.3L315 208.3L317 208.3L319 208.3L321 208.3L323 208.3L325 208.3L327 208.3L329 208.3L331 208.3L333 208.3L335 208.3L337 208.3L339 208.3L341 208.3L343 208.3L345 208.3L347 208.3L349 208.3L351 208.3L353 208.3L355 208.3L357 208.3L359 208.3L361 208.3L363 208.3L365 208.3L367 208.3L369 208.3L371 208.3L373 208.3L375 208.3L377 208.3L379 208.3L381 208.3L383 208.3L385 208.3L387 208.3L389 208.3L391 208.3L393 208.3L395 208.3L397 208.3L399 208.3L401 208.3L403 208.3L405 208.3L407 208.3L409 208.3L411 208.3L413 208.3L415 208.3L417 208.3L419 208.3L421 208.3L423 208.3L425 208.3L427 208.3L429 208.3L431 208.3L433 208.3L435 208.3L437 208.3L439 208.3L441 208.3L443 208.3L445 208.3L447 208.3L449 208.3L451 208.3L453 208.3L455 208.3L457 208.3L459 208.3L461 208.3L463 208.3L465 208.3L467 208.3L469 208.3L471 208.3L473 208.3L475 208.3L477 208.3L479 208.3L481 208.3L483 208.3L485 208.3L487 208.3L489 208.3L491 208.3L493 208.3L495 208.3L497 208.3L499 208.3L501 208.3L503 208.3L505 208.3L507 208.3L509 208.3L511 208.3L513 208.3L515 208.3L517 208.3L519 208.3L521 208.3L523 208.3L525 208.3L527 208.3L529 208.3L531 208.3L533 208.3L535 208.3L537 208.3L539 208.3L541 208.3L543 208.3L545 208.3L547 208.3L549 208.3L551 208.3L553 208.3L555 208.3L557 208.3L559 208.3L561 208.3L563 208.3L565 208.3L567 208.3L569 208.3L571 208.3L573 208.3L575 208.3L577 208.3L579 208.3L581 208.3L583 208.3L585 208.3L587 208.3L589 208.3L591 208.3L593 208.3L595 208.3L597 208.3L599 208.3L601 208.3L603 208.3L605 208.3L607 208.3L609 208.3L611 208.3L613 208.3L615 208.3L617 208.3L619 208.3L621 208.3L623 208.3L625 208.3L627 208.3L629 208.3L631 208.3L633 208.3L635 208.3L637 208.3L639 208.3L641 208.3L643 208.3L645 208.3L647 208.3L649 208.3L651 208.3L653 208.3L655 208.3L657 208.3L659 208.3L661 208.3L663 208.3L665 208.3L667 208.3L669 208.3L671 208.3L673 208.3L675 208.3L677 208.3L679 208.3L681 208.3L683 208.3L685 208.3L687 208.3L689 208.3L691 208.3L693 208.3L695 208.3L697 208.3L699 208.3L701 208.3L703 208.3L703.5 208.3L705 208.5L707 208.8L709 209.1L711 209.4L713 209.6L715 209.9L717 210.2L719 210.5L721 210.8L723 211L725 211.3L727 211.6L729 211.9L731 212.1L733 212.4L735 212.7L737 213L739 213.2L741 213.5L743 213.8L745 214L747 214.3L749 214.6L751 214.8L753 215.1L755 215.4L757 215.6L759 215.9L761 216.1L763 216.4L765 216.6L767 216.9L769 217.2L771 217.4L773 217.7L775 217.9L777 218.2L779 218.4L781 218.7L783 218.9L785 219.2L787 219.4L789 219.7L791 219.9L793 220.2L795 220.4L797 220.7L799 220.9L801 221.1L803 221.4L805 221.6L807 221.9L809 222.1L811 222.3L813 222.6L815 222.8L817 223.1L819 223.3L821 223.5L823 223.8L825 224L827 224.2L829 224.5L831 224.7L833 224.9L835 225.2L837 225.4L839 225.6L841 225.9L843 226.1L845 226.3L847 226.5L849 226.8L851 227L853 227.2L855 227.4L857 227.7L859 227.9L861 228.1L863 228.3L865 228.6L867 228.8L869 229L871 229.2L873 229.4L875 229.7L877 229.9L879 230.1L881 230.3L883 230.5L885 230.7L887 230.9L889 231.1L891 231.3L893 231.6L895 231.8L897 232L899 232.2L901 232.4L903 232.6L905 232.8L907 233L909 233.2L911 233.4L913 233.6L915 233.8L917 234L919 234.2L921 234.4L923 234.6L925 234.8L927 235L929 235.3L931 235.5L933 235.7L935 235.9L937 236.1L939 236.3L941 236.5L943 236.7L945 236.9L947 237.1L949 237.3L951 237.6L953 237.8L955 238L957 238.2L959 238.4L961 238.6L963 238.8L965 239L967 239.3L969 239.5L971 239.7L973 239.9L975 240.1L977 240.3L979 240.5L981 240.8L983 241L985 241.2L987 241.4L989 241.6L991 241.8L993 242L995 242.2L997 242.5L999 242.7L1001 242.9L1003 243.1L1005 243.3L1007 243.5L1009 243.7L1011 244L1013 244.2L1015 244.4L1017 244.6L1019 244.8L1021 245L1023 245.2L1025 245.5L1027 245.7L1029 245.9L1031 246.1L1033 246.3L1035 246.5L1037 246.7L1039 247L1041 247.2L1043 247.4L1045 247.6L1047 247.8L1049 248L1051 248.2L1053 248.4L1055 248.6L1057 248.9L1059 249.1L1061 249.3L1063 249.5L1065 249.7L1067 249.9L1069 250.1L1071 250.3L1073 250.6L1075 250.8L1077 251L1079 251.2L1081 251.4L1083 251.6L1085 251.8L1087 252L1089 252.2L1091 252.5L1093 252.7L1095 252.9L1097 253.1L1099 253.3L1101 253.5L1103 253.7L1105 253.9L1107 254.1L1109 254.4L1111 254.6L1113 254.8L1115 255L1117 255.2L1119 255.4L1121 255.6L1123 255.8L1125 256L1127 256.3L1129 256.5L1131 256.7L1133 256.9L1135 257.1L1137 257.3L1139 257.5L1141 257.7L1143 257.9L1145 258.2L1147 258.4L1149 258.6L1151 258.8L1153 259L1155 259.2L1157 259.4L1159 259.6L1161 259.8L1163 260L1165 260.3L1167 260.5L1169 260.7L1171 260.9L1173 261.1L1175 261.3L1177 261.5L1179 261.7L1181 261.9L1183 262.2L1185 262.4L1187 262.6L1189 262.8L1191 263L1193 263.2L1195 263.4L1197 263.6L1199 263.8L1201 264L1203 264.3L1203.4 264.3" fill="none" stroke="#FF0000" stroke-width="7.6" stroke-linejoin="round" stroke-linecap="butt"/>
<path d="M189.7 448L190.2 446.5L190.7 444.8L191.2 443.1L191.7 441.3L192.2 439.5L192.7 437.6L193.2 435.6L193.7 433.4L194.2 431.1L194.7 428.8L195.2 426.6L195.7 424.7L196.2 422.9L196.7 421.3L197.2 419.6L197.7 418L198.2 416.4L198.7 414.7L199.2 413.1L199.7 411.5L200.2 409.8L200.7 408.2L201.2 406.7L201.7 405.1L202.2 403.6L202.7 402.1L203.2 400.6L203.7 399L204.2 397.5L204.7 395.9L205.2 394.3L205.7 392.7L206.2 391.2L206.7 389.6L207.2 388.1L207.7 386.6L208.2 385.1L208.7 383.7L209.2 382.3L209.7 380.8L210.2 379.4L210.7 378.1L211.2 376.7L211.7 375.3L212.2 373.9L212.7 372.6L213.2 371.3L213.7 370.2L214.2 369.1L214.7 368.1L215.2 367.1L215.7 366.2L216.2 365.4L216.7 364.5L217.2 363.7L217.7 362.9L218.2 362.1L218.7 361.2L219.2 360.4L219.7 359.5L220.2 358.5L220.7 357.6L221.2 356.7L221.7 355.8L222.2 354.8L222.7 353.9L223.2 353L223.7 352L224.2 351.1L224.7 350.1L225.2 349.2L225.7 348.2L226.2 347.3L226.7 346.4L227.2 345.4L227.7 344.5L228.2 343.5L228.7 342.5L229.2 341.6L229.7 340.6L230.2 339.7L230.7 338.7L231.2 337.8L231.7 336.9L232.2 336L232.7 335.2L233.2 334.3L233.7 333.5L234.2 332.6L234.7 331.8L235.2 331L235.7 330.2L236.2 329.4L236.7 328.7L237.2 327.9L237.7 327.1L238.2 326.4L238.7 325.7L239.2 325L239.7 324.2L240.2 323.5L240.7 322.8L241.2 322.2L241.7 321.5L242.2 320.8L242.7 320.1L243.2 319.5L243.7 318.8L244.2 318.2L244.7 317.6L245.2 316.9L245.7 316.3L246.2 315.7L246.7 315L247.2 314.4L247.7 313.8L248.2 313.2L248.7 312.5L249.2 311.9L249.7 311.3L250.2 310.8L250.7 310.2L251.2 309.6L251.7 309.1L252.2 308.5L252.7 308L253.2 307.5L253.7 307L254.2 306.5L254.7 306L255.2 305.5L255.7 305L256.2 304.6L256.7 304.1L257.2 303.6L257.7 303.2L258.2 302.7L258.7 302.3L259.2 301.8L259.7 301.4L260.2 300.9L260.7 300.5L261.2 300.1L261.7 299.7L262.2 299.3L262.7 298.9L263.2 298.5L263.7 298.1L264.2 297.7L264.7 297.3L265.2 296.9L265.7 296.6L266.2 296.2L266.7 295.8L267.2 295.5L267.7 295.2L268.2 294.8L268.7 294.5L269.2 294.2L269.7 293.9L270.2 293.5L270.7 293.2L271.2 292.9L271.7 292.6L272.2 292.3L272.7 292L273.2 291.7L273.7 291.4L274.2 291.1L274.7 290.8L275.2 290.5L275.7 290.2L276.2 289.9L276.7 289.6L277.2 289.3L277.7 289L278.2 288.7L278.7 288.4L279.2 288.1L279.7 287.9L280.2 287.6L280.7 287.3L281.2 287L281.7 286.7L282.2 286.4L282.7 286.1L283.2 285.8L283.7 285.6L284.2 285.3L284.7 285L285.2 284.7L285.7 284.5L286.2 284.2L286.7 283.9L287.2 283.7L287.7 283.4L288.2 283.1L288.7 282.9L289.2 282.6L289.7 282.4L290.2 282.1L290.7 281.9L291.2 281.6L291.7 281.4L292.2 281.1L292.7 280.9L293.2 280.7L293.7 280.4L294.2 280.2L294.7 280L295.2 279.8L295.7 279.6L296.2 279.4L296.7 279.2L297.2 279L297.7 278.8L298.2 278.6L298.7 278.4L299.2 278.2L299.7 278L300.2 277.8L300.7 277.6L301.2 277.4L301.7 277.2L302.2 277L302.7 276.9L303.2 276.7L303.7 276.5L304.2 276.3L304.7 276.2L305.2 276L305.7 275.8L306.2 275.7L306.7 275.5L307.2 275.3L307.7 275.2L308.2 275L308.7 274.9L309.2 274.7L309.7 274.6L311.7 274L313.7 273.5L315.7 272.9L317.7 272.4L319.7 271.9L321.7 271.5L323.7 271L325.7 270.6L327.7 270.2L329.7 269.8L331.7 269.5L333.7 269.1L335.7 268.8L337.7 268.5L339.7 268.2L341.7 268L343.7 267.7L345.7 267.4L347.7 267.1L349.7 266.9L351.7 266.6L353.7 266.3L355.7 266.1L357.7 265.8L359.7 265.5L361.7 265.3L363.7 265.1L365.7 264.9L367.7 264.7L369.7 264.5L371.7 264.3L373.7 264.2L375.7 264L377.7 263.8L379.7 263.7L381.7 263.6L383.7 263.5L385.7 263.3L387.7 263.3L389.7 263.2L391.7 263.1L393.7 263L395.7 262.9L397.7 262.9L399.7 262.8L401.7 262.8L403.7 262.7L405.7 262.6L407.7 262.6L409.7 262.5L411.7 262.4L413.7 262.4L415.7 262.3L417.7 262.2L419.7 262.1L421.7 262.1L423.7 262L425.7 261.9L427.7 261.9L429.7 261.9L431.7 261.9L433.7 261.9L435.7 261.9L437.7 261.9L439.7 261.9L441.7 261.9L443.7 261.9L445.7 261.9L447.7 261.9L449.7 261.9L451.7 261.9L453.7 261.9L455.7 261.9L457.7 261.9L459.7 261.9L461.7 261.9L463.7 261.9L465.7 261.9L467.7 261.9L469.7 261.9L471.7 261.9L473.7 261.9L475.7 261.9L477.7 261.9L479.7 261.9L481.7 261.9L483.7 261.9L485.7 261.9L487.7 261.9L489.7 261.9L491.7 261.9L493.7 261.9L495.7 261.9L497.7 261.9L499.7 261.9L501.7 261.9L503.7 261.9L505.7 261.9L507.7 261.9L509.7 261.9L511.7 261.9L513.7 261.9L515.7 261.9L517.7 261.9L519.7 261.9L521.7 261.9L523.7 261.9L525.7 261.9L527.7 261.9L529.7 261.9L531.7 261.9L533.7 261.9L535.7 261.9L537.7 261.9L539.7 261.9L541.7 261.9L543.7 261.9L545.7 261.9L547.7 261.9L549.7 261.9L551.7 261.9L553.7 261.9L555.7 261.9L557.7 261.9L559.7 261.9L561.7 261.9L563.7 261.9L565.7 261.9L567.7 261.9L569.7 261.9L571.7 261.9L573.7 261.9L575.7 261.9L577.7 261.9L579.7 261.9L581.7 261.9L583.7 261.9L585.7 261.9L587.7 261.9L589.7 261.9L591.7 261.9L593.7 261.9L595.7 261.9L597.7 261.9L599.7 261.9L601.7 261.9L603.7 261.9L605.7 261.9L607.7 261.9L609.7 261.9L611.7 261.9L613.7 261.9L615.7 261.9L617.7 261.9L619.7 261.9L621.7 261.9L623.7 261.9L625.7 261.9L627.7 261.9L629.7 261.9L631.7 261.9L633.7 261.9L635.7 261.9L637.7 261.9L639.7 261.9L641.7 261.9L643.7 261.9L645.7 261.9L647.7 261.9L649.7 261.9L651.7 261.9L653.7 261.9L655.7 261.9L657.7 261.9L659.7 261.9L661.7 261.9L663.7 261.9L665.7 261.9L667.7 261.9L669.7 261.9L671.7 261.9L673.7 261.9L675.7 261.9L677.7 261.9L679.7 261.9L681.7 261.9L683.7 261.9L685.7 261.9L687.7 261.9L689.7 261.9L691.7 261.9L693.7 261.9L695.7 261.9L697.7 261.9L699.7 261.9L701.7 261.9L703.7 261.9L705.5 261.9L705.7 261.9L707.7 262.1L709.7 262.3L711.7 262.5L713.7 262.7L715.7 262.9L717.7 263.1L719.7 263.3L721.7 263.5L723.7 263.7L725.7 263.9L727.7 264.1L729.7 264.3L731.7 264.5L733.7 264.7L735.7 264.9L737.7 265.1L739.7 265.3L741.7 265.5L743.7 265.7L745.7 265.9L747.7 266.1L749.7 266.3L751.7 266.5L753.7 266.7L755.7 266.9L757.7 267.1L759.7 267.3L761.7 267.5L763.7 267.7L765.7 267.9L767.7 268.1L769.7 268.3L771.7 268.5L773.7 268.7L775.7 268.9L777.7 269.1L779.7 269.3L781.7 269.5L783.7 269.7L785.7 269.9L787.7 270.1L789.7 270.4L791.7 270.6L793.7 270.8L795.7 271L797.7 271.2L799.7 271.4L801.7 271.6L803.7 271.8L805.7 272L807.7 272.2L809.7 272.4L811.7 272.6L813.7 272.8L815.7 273L817.7 273.2L819.7 273.4L821.7 273.6L823.7 273.8L825.7 273.9L827.7 274.1L829.7 274.3L831.7 274.5L833.7 274.7L835.7 274.9L837.7 275.1L839.7 275.3L841.7 275.5L843.7 275.7L845.7 275.9L847.7 276.1L849.7 276.3L851.7 276.5L853.7 276.7L855.7 276.9L857.7 277.1L859.7 277.3L861.7 277.5L863.7 277.7L865.7 277.9L867.7 278.1L869.7 278.3L871.7 278.5L873.7 278.7L875.7 278.9L877.7 279.1L879.7 279.3L881.7 279.5L883.7 279.7L885.7 279.9L887.7 280.1L889.7 280.3L891.7 280.5L893.7 280.7L895.7 280.9L897.7 281.1L899.7 281.3L901.7 281.6L903.7 281.8L905.7 282L907.7 282.2L909.7 282.4L911.7 282.6L913.7 282.8L915.7 283L917.7 283.2L919.7 283.4L921.7 283.6L923.7 283.8L925.7 284L927.7 284.2L929.7 284.4L931.7 284.6L933.7 284.8L935.7 285L937.7 285.2L939.7 285.4L941.7 285.6L943.7 285.8L945.7 285.9L947.7 286.1L949.7 286.3L951.7 286.5L953.7 286.7L955.7 286.9L957.7 287.1L959.7 287.2L961.7 287.4L963.7 287.6L965.7 287.8L967.7 288L969.7 288.2L971.7 288.3L973.7 288.5L975.7 288.7L977.7 288.9L979.7 289.1L981.7 289.2L983.7 289.4L985.7 289.6L987.7 289.8L989.7 290L991.7 290.1L993.7 290.3L995.7 290.5L997.7 290.7L999.7 290.8L1001.7 291L1003.7 291.2L1005.7 291.4L1007.7 291.5L1009.7 291.7L1011.7 291.9L1013.7 292.1L1015.7 292.2L1017.7 292.4L1019.7 292.6L1021.7 292.8L1023.7 292.9L1025.7 293.1L1027.7 293.3L1029.7 293.4L1031.7 293.6L1033.7 293.8L1035.7 294L1037.7 294.1L1039.7 294.3L1041.7 294.5L1043.7 294.7L1045.7 294.8L1047.7 295L1049.7 295.2L1051.7 295.4L1053.7 295.5L1055.7 295.7L1057.7 295.9L1059.7 296L1061.7 296.2L1063.7 296.4L1065.7 296.6L1067.7 296.7L1069.7 296.9L1071.7 297.1L1073.7 297.3L1075.7 297.4L1077.7 297.6L1079.7 297.8L1081.7 298L1083.7 298.2L1085.7 298.3L1087.7 298.5L1089.7 298.7L1091.7 298.9L1093.7 299L1095.7 299.2L1097.7 299.4L1099.7 299.6L1101.7 299.7L1103.7 299.9L1105.7 300.1L1107.7 300.3L1109.7 300.4L1111.7 300.6L1113.7 300.8L1115.7 301L1117.7 301.2L1119.7 301.3L1121.7 301.5L1123.7 301.7L1125.7 301.9L1127.7 302L1129.7 302.2L1131.7 302.4L1133.7 302.6L1135.7 302.7L1137.7 302.9L1139.7 303.1L1141.7 303.3L1143.7 303.4L1145.7 303.6L1147.7 303.8L1149.7 304L1151.7 304.2L1153.7 304.3L1155.7 304.5L1157.7 304.7L1159.7 304.9L1161.7 305L1163.7 305.2L1165.7 305.4L1167.7 305.6L1169.7 305.7L1171.7 305.9L1173.7 306.1L1175.7 306.3L1177.7 306.4L1179.7 306.6L1181.7 306.8L1183.7 307L1185.7 307.1L1187.7 307.3L1189.7 307.5L1191.7 307.7L1193.7 307.8L1195.7 308L1197.7 308.2L1199.7 308.4L1201.7 308.6L1203.4 308.7" fill="none" stroke="#FF0000" stroke-width="7.6" stroke-linejoin="round" stroke-linecap="butt"/>
<path d="M189.8 541.5L190.3 540.9L190.8 540.3L191.3 539.7L191.8 539.1L192.3 538.6L192.8 538L193.3 537.4L193.8 536.8L194.3 536.2L194.8 535.7L195.3 535.1L195.8 534.5L196.3 533.9L196.8 533.4L197.3 532.8L197.8 532.2L198.3 531.7L198.8 531.1L199.3 530.6L199.8 530L200.3 529.4L200.8 528.9L201.3 528.3L201.8 527.8L202.3 527.2L202.8 526.7L203.3 526.1L203.8 525.6L204.3 525L204.8 524.5L205.3 524L205.8 523.4L206.3 522.9L206.8 522.3L207.3 521.8L207.8 521.2L208.3 520.7L208.8 520.2L209.3 519.6L209.8 519.1L210.3 518.5L210.8 518L211.3 517.5L211.8 516.9L212.3 516.4L212.8 515.8L213.3 515.3L213.8 514.8L214.3 514.2L214.8 513.7L215.3 513.2L215.8 512.7L216.3 512.1L216.8 511.6L217.3 511.1L217.8 510.6L218.3 510.1L218.8 509.6L219.3 509.1L219.8 508.6L220.3 508.1L220.8 507.6L221.3 507.1L221.8 506.6L222.3 506.1L222.8 505.7L223.3 505.2L223.8 504.7L224.3 504.2L224.8 503.8L225.3 503.3L225.8 502.8L226.3 502.3L226.8 501.9L227.3 501.4L227.8 500.9L228.3 500.5L228.8 500L229.3 499.5L229.8 499.1L230.3 498.6L230.8 498.2L231.3 497.7L231.8 497.3L232.3 496.8L232.8 496.4L233.3 495.9L233.8 495.5L234.3 495L234.8 494.6L235.3 494.1L235.8 493.7L236.3 493.3L236.8 492.8L237.3 492.4L237.8 491.9L238.3 491.5L238.8 491.1L239.3 490.6L239.8 490.2L240.3 489.8L240.8 489.4L241.3 488.9L241.8 488.5L242.3 488.1L242.8 487.7L243.3 487.2L243.8 486.8L244.3 486.4L244.8 486L245.3 485.6L245.8 485.1L246.3 484.7L246.8 484.3L247.3 483.9L247.8 483.5L248.3 483L248.8 482.6L249.3 482.2L249.8 481.8L250.3 481.4L250.8 481L251.3 480.6L251.8 480.2L252.3 479.7L252.8 479.3L253.3 478.9L253.8 478.5L254.3 478.1L254.8 477.7L255.3 477.3L255.8 476.9L256.3 476.6L256.8 476.2L257.3 475.8L257.8 475.4L258.3 475L258.8 474.6L259.3 474.2L259.8 473.8L260.3 473.5L260.8 473.1L261.3 472.7L261.8 472.3L262.3 471.9L262.8 471.6L263.3 471.2L263.8 470.8L264.3 470.5L264.8 470.1L265.3 469.7L265.8 469.4L266.3 469L266.8 468.6L267.3 468.3L267.8 467.9L268.3 467.6L268.8 467.2L269.3 466.9L269.8 466.5L270.3 466.2L270.8 465.9L271.3 465.5L271.8 465.2L272.3 464.8L272.8 464.5L273.3 464.2L273.8 463.8L274.3 463.5L274.8 463.2L275.3 462.8L275.8 462.5L276.3 462.2L276.8 461.9L277.3 461.6L277.8 461.2L278.3 460.9L278.8 460.6L279.3 460.3L279.8 460L280.3 459.7L280.8 459.4L281.3 459.1L281.8 458.8L282.3 458.5L282.8 458.2L283.3 457.9L283.8 457.6L284.3 457.4L284.8 457.1L285.3 456.8L285.8 456.5L286.3 456.2L286.8 456L287.3 455.7L287.8 455.4L288.3 455.1L288.8 454.9L289.3 454.6L289.8 454.3L290.3 454L290.8 453.8L291.3 453.5L291.8 453.2L292.3 453L292.8 452.7L293.3 452.4L293.8 452.2L294.3 451.9L294.8 451.6L295.3 451.4L295.8 451.1L296.3 450.9L296.8 450.6L297.3 450.3L297.8 450.1L298.3 449.8L298.8 449.5L299.3 449.3L299.8 449L300.3 448.8L300.8 448.5L301.3 448.2L301.8 448L302.3 447.7L302.8 447.5L303.3 447.2L303.8 447L304.3 446.7L304.8 446.5L305.3 446.2L305.8 446L306.3 445.7L306.8 445.4L307.3 445.2L307.8 444.9L308.3 444.7L308.8 444.4L309.3 444.2L309.8 443.9L311.8 443L313.8 442L315.8 441L317.8 440L319.8 439L321.8 438L323.8 437L325.8 436L327.8 435.1L329.8 434.1L331.8 433.2L333.8 432.3L335.8 431.4L337.8 430.6L339.8 429.8L341.8 429.1L343.8 428.3L345.8 427.6L347.8 426.9L349.8 426.2L351.8 425.5L353.8 424.8L355.8 424.1L357.8 423.4L359.8 422.7L361.8 422L363.8 421.3L365.8 420.7L367.8 420L369.8 419.4L371.8 418.7L373.8 418.1L375.8 417.5L377.8 416.8L379.8 416.2L381.8 415.6L383.8 415L385.8 414.4L387.8 413.8L389.8 413.2L391.8 412.6L393.8 412L395.8 411.5L397.8 410.9L399.8 410.4L401.8 409.8L403.8 409.3L405.8 408.8L407.8 408.3L409.8 407.8L411.8 407.4L413.8 406.9L415.8 406.5L417.8 406L419.8 405.6L421.8 405.2L423.8 404.7L425.8 404.3L427.8 403.9L429.8 403.5L431.8 403.1L433.8 402.7L435.8 402.3L437.8 401.9L439.8 401.5L441.8 401.2L443.8 400.8L445.8 400.4L447.8 400.1L449.8 399.8L451.8 399.4L453.8 399.1L455.8 398.7L457.8 398.4L459.8 398.1L461.8 397.8L463.8 397.5L465.8 397.2L467.8 396.9L469.8 396.6L471.8 396.3L473.8 396L475.8 395.7L477.8 395.4L479.8 395.2L481.8 394.9L483.8 394.6L485.8 394.4L487.8 394.1L489.8 393.8L491.8 393.6L493.8 393.3L495.8 393.1L497.8 392.8L499.8 392.6L501.8 392.4L503.8 392.1L505.8 391.9L507.8 391.7L509.8 391.5L511.8 391.2L513.8 391L515.8 390.8L517.8 390.6L519.8 390.4L521.8 390.1L523.8 389.9L525.8 389.7L527.8 389.5L529.8 389.3L531.8 389.1L533.8 388.9L535.8 388.7L537.8 388.5L539.8 388.4L541.8 388.2L543.8 388L545.8 387.8L547.8 387.7L549.8 387.5L551.8 387.3L553.8 387.2L555.8 387L557.8 386.9L559.8 386.7L561.8 386.6L563.8 386.4L565.8 386.3L567.8 386.1L569.8 386L571.8 385.9L573.8 385.7L575.8 385.6L577.8 385.5L579.8 385.4L581.8 385.2L583.8 385.1L585.8 385L587.8 384.9L589.8 384.8L591.8 384.6L593.8 384.5L595.8 384.4L597.8 384.3L599.8 384.2L601.8 384.1L603.8 384L605.8 383.9L607.8 383.8L609.8 383.7L611.8 383.6L613.8 383.5L615.8 383.4L617.8 383.3L619.8 383.2L621.8 383.2L623.8 383.1L625.8 383L627.8 382.9L629.8 382.8L631.8 382.7L633.8 382.7L635.8 382.6L637.8 382.5L639.8 382.4L641.8 382.3L643.8 382.2L645.8 382.2L647.8 382.1L649.8 382L651.8 381.9L653.8 381.8L655.8 381.8L657.8 381.7L659.8 381.6L661.8 381.5L663.8 381.4L665.8 381.4L667.8 381.3L669.8 381.2L671.8 381.1L673.8 381.1L675.8 381L677.8 380.9L679.8 380.8L681.8 380.8L683.8 380.7L685.8 380.6L687.8 380.5L689.8 380.5L691.8 380.4L692 380.4L693.8 380.5L695.8 380.6L697.8 380.7L699.8 380.9L701.8 381L703.8 381.1L705.8 381.2L707.8 381.3L709.8 381.4L711.8 381.6L713.8 381.7L715.8 381.8L717.8 381.9L719.8 382L721.8 382.1L723.8 382.3L725.8 382.4L727.8 382.5L729.8 382.6L731.8 382.7L733.8 382.8L735.8 382.9L737.8 383.1L739.8 383.2L741.8 383.3L743.8 383.4L745.8 383.5L747.8 383.6L749.8 383.7L751.8 383.9L753.8 384L755.8 384.1L757.8 384.2L759.8 384.3L761.8 384.4L763.8 384.5L765.8 384.6L767.8 384.7L769.8 384.9L771.8 385L773.8 385.1L775.8 385.2L777.8 385.3L779.8 385.4L781.8 385.5L783.8 385.6L785.8 385.7L787.8 385.9L789.8 386L791.8 386.1L793.8 386.2L795.8 386.3L797.8 386.4L799.8 386.5L801.8 386.6L803.8 386.7L805.8 386.9L807.8 387L809.8 387.1L811.8 387.2L813.8 387.3L815.8 387.4L817.8 387.5L819.8 387.6L821.8 387.8L823.8 387.9L825.8 388L827.8 388.1L829.8 388.2L831.8 388.3L833.8 388.4L835.8 388.5L837.8 388.6L839.8 388.8L841.8 388.9L843.8 389L845.8 389.1L847.8 389.2L849.8 389.3L851.8 389.4L853.8 389.5L855.8 389.6L857.8 389.8L859.8 389.9L861.8 390L863.8 390.1L865.8 390.2L867.8 390.3L869.8 390.4L871.8 390.5L873.8 390.7L875.8 390.8L877.8 390.9L879.8 391L881.8 391.1L883.8 391.2L885.8 391.3L887.8 391.5L889.8 391.6L891.8 391.7L893.8 391.8L895.8 391.9L897.8 392L899.8 392.2L901.8 392.3L903.8 392.4L905.8 392.5L907.8 392.6L909.8 392.8L911.8 392.9L913.8 393L915.8 393.1L917.8 393.2L919.8 393.3L921.8 393.5L923.8 393.6L925.8 393.7L927.8 393.8L929.8 393.9L931.8 394L933.8 394.2L935.8 394.3L937.8 394.4L939.8 394.5L941.8 394.6L943.8 394.7L945.8 394.8L947.8 395L949.8 395.1L951.8 395.2L953.8 395.3L955.8 395.4L957.8 395.5L959.8 395.6L961.8 395.7L963.8 395.8L965.8 396L967.8 396.1L969.8 396.2L971.8 396.3L973.8 396.4L975.8 396.5L977.8 396.6L979.8 396.7L981.8 396.8L983.8 396.9L985.8 397L987.8 397.1L989.8 397.3L991.8 397.4L993.8 397.5L995.8 397.6L997.8 397.7L999.8 397.8L1001.8 397.9L1003.8 398L1005.8 398.1L1007.8 398.2L1009.8 398.3L1011.8 398.4L1013.8 398.5L1015.8 398.6L1017.8 398.7L1019.8 398.9L1021.8 399L1023.8 399.1L1025.8 399.2L1027.8 399.3L1029.8 399.4L1031.8 399.5L1033.8 399.6L1035.8 399.7L1037.8 399.8L1039.8 399.9L1041.8 400L1043.8 400.1L1045.8 400.2L1047.8 400.3L1049.8 400.5L1051.8 400.6L1053.8 400.7L1055.8 400.8L1057.8 400.9L1059.8 401L1061.8 401.1L1063.8 401.2L1065.8 401.3L1067.8 401.4L1069.8 401.5L1071.8 401.6L1073.8 401.7L1075.8 401.9L1077.8 402L1079.8 402.1L1081.8 402.2L1083.8 402.3L1085.8 402.4L1087.8 402.5L1089.8 402.6L1091.8 402.7L1093.8 402.8L1095.8 402.9L1097.8 403L1099.8 403.1L1101.8 403.2L1103.8 403.4L1105.8 403.5L1107.8 403.6L1109.8 403.7L1111.8 403.8L1113.8 403.9L1115.8 404L1117.8 404.1L1119.8 404.2L1121.8 404.3L1123.8 404.4L1125.8 404.5L1127.8 404.6L1129.8 404.8L1131.8 404.9L1133.8 405L1135.8 405.1L1137.8 405.2L1139.8 405.3L1141.8 405.4L1143.8 405.5L1145.8 405.6L1147.8 405.7L1149.8 405.8L1151.8 405.9L1153.8 406L1155.8 406.1L1157.8 406.3L1159.8 406.4L1161.8 406.5L1163.8 406.6L1165.8 406.7L1167.8 406.8L1169.8 406.9L1171.8 407L1173.8 407.1L1175.8 407.2L1177.8 407.3L1179.8 407.4L1181.8 407.5L1183.8 407.7L1185.8 407.8L1187.8 407.9L1189.8 408L1191.8 408.1L1193.8 408.2L1195.8 408.3L1197.8 408.4L1199.8 408.5L1201.8 408.6L1203.4 408.7" fill="none" stroke="#FF0000" stroke-width="7.6" stroke-linejoin="round" stroke-linecap="butt"/>
</g>

<!-- plot frame -->
<rect x="169.5" y="167.5" width="1050" height="406" fill="none" stroke="#000" stroke-width="3" shape-rendering="crispEdges"/>

<!-- kinetic parameters table rules -->
<g shape-rendering="crispEdges" fill="#000">
<rect x="257" y="804" width="874" height="3"/>
<rect x="257" y="866" width="875" height="3"/>
<rect x="257" y="922" width="874" height="3"/>
</g>

<!-- text: title, tick labels, axis labels, table -->
<text class="ti" x="27.00" y="61" textLength="101.41" lengthAdjust="spacingAndGlyphs">Anti-</text>
<text class="ti" x="128.63" y="61" textLength="188.31" lengthAdjust="spacingAndGlyphs">Neurexin</text>
<text class="ti" x="317.46" y="61" textLength="15.92" lengthAdjust="spacingAndGlyphs">-</text>
<text class="ti" x="360.01" y="61" textLength="16.74" lengthAdjust="spacingAndGlyphs">-</text>
<text class="ti" x="377.68" y="61" textLength="114.77" lengthAdjust="spacingAndGlyphs">alpha</text>
<text class="ti" x="506.94" y="61" textLength="86.14" lengthAdjust="spacingAndGlyphs">[IPI-</text>
<text class="ti" x="593.69" y="61" textLength="33.36" lengthAdjust="spacingAndGlyphs">N</text>
<text class="ti" x="627.58" y="61" textLength="31.29" lengthAdjust="spacingAndGlyphs">R</text>
<text class="ti" x="657.98" y="61" textLength="31.43" lengthAdjust="spacingAndGlyphs">X</text>
<text class="ti" x="689.12" y="61" textLength="32.99" lengthAdjust="spacingAndGlyphs">N</text>
<text class="ti" x="748.01" y="61" textLength="63.22" lengthAdjust="spacingAndGlyphs">a.2</text>
<text class="ti" x="836.80" y="61" textLength="14.06" lengthAdjust="spacingAndGlyphs">]</text>
<text class="ti" x="27.50" y="116" textLength="191.03" lengthAdjust="spacingAndGlyphs">Addgene</text>
<text class="ti" x="232.70" y="116" textLength="176.78" lengthAdjust="spacingAndGlyphs">#237797</text>
<text class="t" x="79.97" y="198.2" textLength="77.80" lengthAdjust="spacingAndGlyphs">200</text>
<text class="t" x="105.94" y="272.8" textLength="52.59" lengthAdjust="spacingAndGlyphs">60</text>
<text class="t" x="105.32" y="348.5" textLength="53.24" lengthAdjust="spacingAndGlyphs">20</text>
<text class="t" x="105.85" y="423.8" textLength="52.37" lengthAdjust="spacingAndGlyphs">80</text>
<text class="t" x="104.96" y="498.9" textLength="53.30" lengthAdjust="spacingAndGlyphs">40</text>
<text class="t" x="132.53" y="574.0" textLength="25.24" lengthAdjust="spacingAndGlyphs">0</text>
<text class="t" x="249.46" y="619.2" textLength="52.15" lengthAdjust="spacingAndGlyphs">00</text>
<text class="t" x="392.18" y="619.2" textLength="77.59" lengthAdjust="spacingAndGlyphs">200</text>
<text class="t" x="560.56" y="619.2" textLength="78.22" lengthAdjust="spacingAndGlyphs">300</text>
<text class="t" x="732.00" y="619.2" textLength="76.75" lengthAdjust="spacingAndGlyphs">400</text>
<text class="t" x="900.00" y="619.2" textLength="76.75" lengthAdjust="spacingAndGlyphs">500</text>
<text class="t" x="1069.51" y="619.2" textLength="76.22" lengthAdjust="spacingAndGlyphs">600</text>
<text class="t" x="614.03" y="678.9" textLength="161.82" lengthAdjust="spacingAndGlyphs">Time (s)</text>
<text class="t" x="499.99" y="792.0" textLength="389.42" lengthAdjust="spacingAndGlyphs">Kinetic Parameters</text>
<text class="b" x="305.15" y="848" textLength="27.69" lengthAdjust="spacingAndGlyphs">k</text>
<text class="sb" x="331.82" y="863" textLength="14.53" lengthAdjust="spacingAndGlyphs">a</text>
<text class="b" x="360.73" y="848" textLength="13.56" lengthAdjust="spacingAndGlyphs">(</text>
<text class="b" x="373.39" y="848" textLength="42.28" lengthAdjust="spacingAndGlyphs">M</text>
<text class="sb" x="415.13" y="832.3" textLength="11.30" lengthAdjust="spacingAndGlyphs">-</text>
<text class="b" x="440.05" y="848" textLength="26.29" lengthAdjust="spacingAndGlyphs">s</text>
<text class="sb" x="465.69" y="832.3" textLength="10.80" lengthAdjust="spacingAndGlyphs">-</text>
<text class="b" x="491.30" y="848" textLength="13.56" lengthAdjust="spacingAndGlyphs">)</text>
<text class="b" x="613.55" y="848" textLength="27.69" lengthAdjust="spacingAndGlyphs">k</text>
<text class="sb" x="639.96" y="863" textLength="16.90" lengthAdjust="spacingAndGlyphs">d</text>
<text class="b" x="669.34" y="848" textLength="14.27" lengthAdjust="spacingAndGlyphs">(</text>
<text class="b" x="682.42" y="848" textLength="26.64" lengthAdjust="spacingAndGlyphs">s</text>
<text class="sb" x="708.87" y="832.3" textLength="9.14" lengthAdjust="spacingAndGlyphs">-</text>
<text class="b" x="732.80" y="848" textLength="14.27" lengthAdjust="spacingAndGlyphs">)</text>
<text class="b" x="920.90" y="848" textLength="34.34" lengthAdjust="spacingAndGlyphs">K</text>
<text class="sb" x="953.31" y="863" textLength="21.09" lengthAdjust="spacingAndGlyphs">D</text>
<text class="b" x="987.44" y="848" textLength="14.27" lengthAdjust="spacingAndGlyphs">(</text>
<text class="b" x="1001.72" y="848" textLength="41.92" lengthAdjust="spacingAndGlyphs">M</text>
<text class="b" x="1042.50" y="848" textLength="12.85" lengthAdjust="spacingAndGlyphs">)</text>
<text class="t" x="315.38" y="912.2" textLength="113.76" lengthAdjust="spacingAndGlyphs">2.50x</text>
<text class="t" x="454.42" y="912.2" textLength="25.36" lengthAdjust="spacingAndGlyphs">0</text>
<text class="sp" x="480.55" y="896.3" textLength="14.16" lengthAdjust="spacingAndGlyphs">6</text>
<text class="t" x="584.58" y="912.2" textLength="113.76" lengthAdjust="spacingAndGlyphs">5.90x</text>
<text class="t" x="723.62" y="912.2" textLength="25.36" lengthAdjust="spacingAndGlyphs">0</text>
<text class="sp" x="750.00" y="896.3" textLength="8.89" lengthAdjust="spacingAndGlyphs">-</text>
<text class="sp" x="758.92" y="896.3" textLength="15.99" lengthAdjust="spacingAndGlyphs">4</text>
<text class="t" x="893.78" y="912.2" textLength="113.76" lengthAdjust="spacingAndGlyphs">2.40x</text>
<text class="t" x="1032.77" y="912.2" textLength="25.94" lengthAdjust="spacingAndGlyphs">0</text>
<text class="sp" x="1058.63" y="896.3" textLength="10.41" lengthAdjust="spacingAndGlyphs">-</text>
<text class="sp" x="1083.78" y="896.3" textLength="15.07" lengthAdjust="spacingAndGlyphs">0</text>
<g transform="translate(69,0) rotate(-90)"><text class="t" x="-524.91" y="0" textLength="309.84" lengthAdjust="spacingAndGlyphs">Response (RU)</text></g>
<!-- numeral one glyphs -->
<path d="M93.50 272.80L97.85 272.80L97.85 240.19L94.28 240.19Q93.27 245.15 88.67 245.61L84.81 245.61L84.81 249.62L93.50 249.62Z" fill="#000"/>
<path d="M93.50 348.50L97.85 348.50L97.85 315.89L94.28 315.89Q93.27 320.85 88.67 321.31L84.81 321.31L84.81 325.32L93.50 325.32Z" fill="#000"/>
<path d="M236.80 619.00L241.15 619.00L241.15 586.39L237.58 586.39Q236.57 591.35 231.97 591.81L228.11 591.81L228.11 595.82L236.80 595.82Z" fill="#000"/>
<path d="M441.30 912.10L445.65 912.10L445.65 879.49L442.08 879.49Q441.07 884.45 436.47 884.91L432.61 884.91L432.61 888.92L441.30 888.92Z" fill="#000"/>
<path d="M710.50 912.10L714.85 912.10L714.85 879.49L711.28 879.49Q710.27 884.45 705.67 884.91L701.81 884.91L701.81 888.92L710.50 888.92Z" fill="#000"/>
<path d="M1019.70 912.10L1024.05 912.10L1024.05 879.49L1020.48 879.49Q1019.47 884.45 1014.87 884.91L1011.01 884.91L1011.01 888.92L1019.70 888.92Z" fill="#000"/>
<path d="M1076.30 896.20L1078.83 896.20L1078.83 877.27L1076.75 877.27Q1076.17 880.15 1073.50 880.42L1071.25 880.42L1071.25 882.74L1076.30 882.74Z" fill="#000"/>
<path d="M344.00 60.90L350.21 60.90L350.21 28.70L345.15 28.70Q343.77 33.90 340.09 34.36L336.09 34.36L336.09 38.64L344.00 38.64Z" fill="#000"/>
<path d="M732.20 60.90L738.41 60.90L738.41 28.70L733.35 28.70Q731.97 33.90 728.29 34.36L724.29 34.36L724.29 38.64L732.20 38.64Z" fill="#000"/>
<path d="M820.90 60.90L827.11 60.90L827.11 28.70L822.05 28.70Q820.67 33.90 816.99 34.36L812.99 34.36L812.99 38.64L820.90 38.64Z" fill="#000"/>
<path d="M432.70 832.70L436.84 832.70L436.84 813.69L433.50 813.69Q432.57 817.13 430.83 817.40L428.29 817.40L428.29 821.01L432.70 821.01Z" fill="#000"/>
<path d="M483.20 832.70L487.34 832.70L487.34 813.69L484.00 813.69Q483.07 817.13 481.33 817.40L478.79 817.40L478.79 821.01L483.20 821.01Z" fill="#000"/>
<path d="M725.10 832.70L729.24 832.70L729.24 813.69L725.90 813.69Q724.97 817.13 723.23 817.40L720.69 817.40L720.69 821.01L725.10 821.01Z" fill="#000"/>
</svg>
</body>
</html>
